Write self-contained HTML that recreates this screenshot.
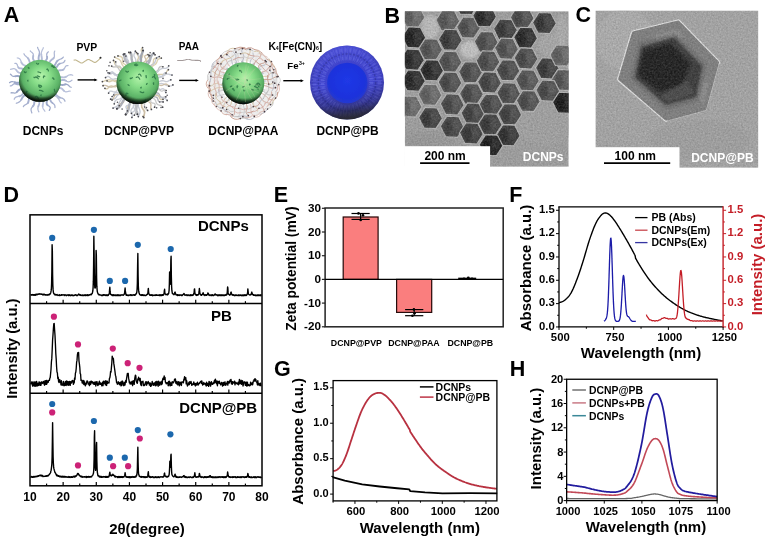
<!DOCTYPE html>
<html><head><meta charset="utf-8"><title>Figure</title>
<style>
html,body{margin:0;padding:0;background:#fff;}
body{width:768px;height:545px;overflow:hidden;font-family:"Liberation Sans",sans-serif;}
svg{display:block;font-family:"Liberation Sans",sans-serif;}
</style></head>
<body>
<svg width="768" height="545" viewBox="0 0 768 545">
<defs>

<radialGradient id="gsph" cx="0.52" cy="0.42" r="0.62" fx="0.54" fy="0.38">
  <stop offset="0" stop-color="#b4f3aa"/>
  <stop offset="0.35" stop-color="#86dc88"/>
  <stop offset="0.7" stop-color="#5db468"/>
  <stop offset="0.9" stop-color="#3c8048"/>
  <stop offset="1" stop-color="#27542f"/>
</radialGradient>
<radialGradient id="gshade" cx="0.54" cy="0.36" r="0.70">
  <stop offset="0.70" stop-color="#000" stop-opacity="0"/>
  <stop offset="0.88" stop-color="#000" stop-opacity="0.5"/>
  <stop offset="1" stop-color="#000" stop-opacity="0.95"/>
</radialGradient>
<radialGradient id="gshade2" cx="0.56" cy="0.22" r="0.82">
  <stop offset="0.80" stop-color="#000" stop-opacity="0"/>
  <stop offset="0.90" stop-color="#000" stop-opacity="0.5"/>
  <stop offset="0.96" stop-color="#000" stop-opacity="0.9"/>
  <stop offset="1" stop-color="#000" stop-opacity="1"/>
</radialGradient>
<radialGradient id="bout" cx="0.5" cy="0.42" r="0.62">
  <stop offset="0" stop-color="#3c40d6"/>
  <stop offset="0.6" stop-color="#4044cf"/>
  <stop offset="0.86" stop-color="#3e40b4"/>
  <stop offset="1" stop-color="#34367e"/>
</radialGradient>
<linearGradient id="bshade" x1="0.42" y1="0" x2="0.55" y2="1">
  <stop offset="0" stop-color="#6a70f0" stop-opacity="0.28"/>
  <stop offset="0.5" stop-color="#202060" stop-opacity="0"/>
  <stop offset="0.78" stop-color="#1c1c38" stop-opacity="0.35"/>
  <stop offset="0.93" stop-color="#26262c" stop-opacity="0.8"/>
  <stop offset="1" stop-color="#2a2a2a" stop-opacity="0.95"/>
</linearGradient>
<radialGradient id="bin" cx="0.5" cy="0.45" r="0.6">
  <stop offset="0" stop-color="#2038e6"/>
  <stop offset="0.7" stop-color="#1b32dc"/>
  <stop offset="1" stop-color="#2a3cc8"/>
</radialGradient>
<filter id="jpeg" x="0" y="0" width="768" height="545" filterUnits="userSpaceOnUse"><feGaussianBlur stdDeviation="0.38"/></filter>
<filter id="soft" x="-5%" y="-5%" width="110%" height="110%"><feGaussianBlur stdDeviation="0.45"/></filter>
<filter id="softt" x="-5%" y="-5%" width="110%" height="110%"><feGaussianBlur stdDeviation="0.6"/></filter>
<filter id="soft2" x="-5%" y="-5%" width="110%" height="110%"><feGaussianBlur stdDeviation="0.8"/></filter>
<filter id="soft3" x="-5%" y="-5%" width="110%" height="110%"><feGaussianBlur stdDeviation="1.4"/></filter>
<filter id="grain" x="0" y="0" width="100%" height="100%">
  <feTurbulence type="fractalNoise" baseFrequency="0.55" numOctaves="2" seed="4" result="n"/>
  <feColorMatrix type="matrix" values="0 0 0 0 0  0 0 0 0 0  0 0 0 0 0  0.9 0.9 0.9 0 -0.95" in="n" result="a"/>
  <feComposite operator="in" in="SourceGraphic" in2="a"/>
</filter>
<filter id="grain2" x="0" y="0" width="100%" height="100%">
  <feTurbulence type="fractalNoise" baseFrequency="0.6" numOctaves="2" seed="17" result="n"/>
  <feColorMatrix type="matrix" values="0 0 0 0 0  0 0 0 0 0  0 0 0 0 0  0.9 0.9 0.9 0 -0.95" in="n" result="a"/>
  <feComposite operator="in" in="SourceGraphic" in2="a"/>
</filter>
<clipPath id="clipB"><rect x="404.8" y="11.2" width="163.9" height="155.6"/></clipPath>
<clipPath id="clipC"><rect x="595.4" y="10.5" width="163.0" height="157.3"/></clipPath>

</defs>
<rect x="0" y="0" width="768" height="545" fill="#fff"/>
<g filter="url(#jpeg)">
<g id="panel_a">
<text x="11.4" y="21.6" font-size="21.5" font-weight="bold" text-anchor="middle" fill="#000" >A</text>
<g filter="url(#softt)"><path d="M60 80.71 L60.85 80.45 L61.7 80.17 L62.56 79.96 L63.41 79.89 L64.27 80 L65.12 80.3 L65.98 80.73" stroke="#b0b9d5" stroke-width="1.9" fill="none" stroke-linejoin="round" stroke-linecap="round"/>
<path d="M65.98 80.73 L66.84 81.2 L67.69 81.59 L68.55 81.79 L69.4 81.74 L70.26 81.4 L71.11 80.84 L71.96 80.16" stroke="#b0b9d5" stroke-width="1.25" fill="none" stroke-linejoin="round" stroke-linecap="round"/>
<path d="M59.69 84.33 L60.48 84.67 L61.3 84.93 L62.13 85.02 L63 84.95 L63.89 84.74 L64.79 84.48 L65.67 84.29" stroke="#9ca8c8" stroke-width="1.9" fill="none" stroke-linejoin="round" stroke-linecap="round"/>
<path d="M65.67 84.29 L66.52 84.29 L67.34 84.54 L68.11 85.05 L68.85 85.72 L69.59 86.42 L70.34 86.99 L71.15 87.28" stroke="#9ca8c8" stroke-width="1.25" fill="none" stroke-linejoin="round" stroke-linecap="round"/>
<path d="M58.73 87.81 L59.61 87.89 L60.47 88.03 L61.27 88.32 L62 88.77 L62.67 89.39 L63.31 90.1 L63.95 90.81" stroke="#b8c0da" stroke-width="1.9" fill="none" stroke-linejoin="round" stroke-linecap="round"/>
<path d="M63.95 90.81 L64.63 91.39 L65.4 91.76 L66.27 91.86 L67.23 91.73 L68.25 91.45 L69.27 91.17 L70.22 91.05" stroke="#b8c0da" stroke-width="1.25" fill="none" stroke-linejoin="round" stroke-linecap="round"/>
<path d="M55.36 93.61 L55.9 94.34 L56.44 95.06 L57.02 95.73 L57.66 96.34 L58.38 96.84 L59.2 97.23 L60.08 97.54" stroke="#a6b0cf" stroke-width="1.9" fill="none" stroke-linejoin="round" stroke-linecap="round"/>
<path d="M60.08 97.54 L61 97.81 L61.91 98.09 L62.76 98.44 L63.5 98.92 L64.12 99.55 L64.61 100.33 L64.99 101.25" stroke="#a6b0cf" stroke-width="1.25" fill="none" stroke-linejoin="round" stroke-linecap="round"/>
<path d="M54.18 94.9 L54.83 95.33 L55.5 95.73 L56.18 96.13 L56.82 96.56 L57.41 97.05 L57.93 97.61 L58.37 98.25" stroke="#b8c0da" stroke-width="1.9" fill="none" stroke-linejoin="round" stroke-linecap="round"/>
<path d="M58.37 98.25 L58.74 98.96 L59.07 99.71 L59.38 100.48 L59.72 101.22 L60.14 101.88 L60.66 102.44 L61.3 102.87" stroke="#b8c0da" stroke-width="1.25" fill="none" stroke-linejoin="round" stroke-linecap="round"/>
<path d="M49.77 98.25 L49.99 99 L50.2 99.76 L50.46 100.49 L50.8 101.17 L51.24 101.8 L51.79 102.37 L52.41 102.89" stroke="#a6b0cf" stroke-width="1.9" fill="none" stroke-linejoin="round" stroke-linecap="round"/>
<path d="M52.41 102.89 L53.07 103.4 L53.7 103.92 L54.24 104.5 L54.64 105.15 L54.88 105.89 L54.97 106.71 L54.96 107.59" stroke="#a6b0cf" stroke-width="1.25" fill="none" stroke-linejoin="round" stroke-linecap="round"/>
<path d="M46.77 99.63 L46.9 100.41 L46.86 101.25 L46.74 102.11 L46.64 102.97 L46.7 103.78 L47.01 104.5 L47.59 105.13" stroke="#9ca8c8" stroke-width="1.9" fill="none" stroke-linejoin="round" stroke-linecap="round"/>
<path d="M47.59 105.13 L48.37 105.7 L49.18 106.26 L49.85 106.86 L50.2 107.57 L50.18 108.4 L49.82 109.35 L49.3 110.35" stroke="#9ca8c8" stroke-width="1.25" fill="none" stroke-linejoin="round" stroke-linecap="round"/>
<path d="M42.97 100.58 L43.11 101.34 L43.16 102.11 L43.13 102.9 L43.02 103.69 L42.87 104.49 L42.73 105.28 L42.63 106.07" stroke="#b8c0da" stroke-width="1.9" fill="none" stroke-linejoin="round" stroke-linecap="round"/>
<path d="M42.63 106.07 L42.64 106.85 L42.78 107.61 L43.07 108.35 L43.47 109.08 L43.96 109.79 L44.46 110.5 L44.9 111.23" stroke="#b8c0da" stroke-width="1.25" fill="none" stroke-linejoin="round" stroke-linecap="round"/>
<path d="M39.27 100.79 L39.33 101.58 L39.33 102.37 L39.26 103.15 L39.11 103.93 L38.89 104.71 L38.61 105.48 L38.34 106.26" stroke="#b0b9d5" stroke-width="1.9" fill="none" stroke-linejoin="round" stroke-linecap="round"/>
<path d="M38.34 106.26 L38.09 107.03 L37.93 107.81 L37.89 108.6 L37.97 109.39 L38.17 110.19 L38.47 110.99 L38.8 111.8" stroke="#b0b9d5" stroke-width="1.25" fill="none" stroke-linejoin="round" stroke-linecap="round"/>
<path d="M34.32 99.98 L34.25 100.94 L34.27 101.92 L34.28 102.9 L34.19 103.85 L33.92 104.76 L33.45 105.6 L32.81 106.4" stroke="#a6b0cf" stroke-width="1.9" fill="none" stroke-linejoin="round" stroke-linecap="round"/>
<path d="M32.81 106.4 L32.12 107.19 L31.52 108 L31.13 108.87 L31.03 109.82 L31.2 110.84 L31.52 111.91 L31.83 112.97" stroke="#a6b0cf" stroke-width="1.25" fill="none" stroke-linejoin="round" stroke-linecap="round"/>
<path d="M29.46 97.81 L29.13 98.49 L28.89 99.24 L28.73 100.03 L28.6 100.85 L28.45 101.64 L28.21 102.39 L27.84 103.05" stroke="#a6b0cf" stroke-width="1.9" fill="none" stroke-linejoin="round" stroke-linecap="round"/>
<path d="M27.84 103.05 L27.29 103.62 L26.61 104.1 L25.82 104.52 L25.02 104.94 L24.29 105.4 L23.72 105.95 L23.38 106.63" stroke="#a6b0cf" stroke-width="1.25" fill="none" stroke-linejoin="round" stroke-linecap="round"/>
<path d="M25.55 94.62 L24.8 95.15 L24.09 95.72 L23.43 96.34 L22.84 97.03 L22.32 97.79 L21.85 98.6 L21.4 99.43" stroke="#a6b0cf" stroke-width="1.9" fill="none" stroke-linejoin="round" stroke-linecap="round"/>
<path d="M21.4 99.43 L20.92 100.23 L20.37 100.97 L19.73 101.61 L18.98 102.14 L18.14 102.56 L17.22 102.91 L16.28 103.25" stroke="#a6b0cf" stroke-width="1.25" fill="none" stroke-linejoin="round" stroke-linecap="round"/>
<path d="M23.85 92.6 L23.31 93.27 L22.77 93.95 L22.21 94.6 L21.6 95.18 L20.9 95.65 L20.12 95.99 L19.26 96.24" stroke="#b0b9d5" stroke-width="1.9" fill="none" stroke-linejoin="round" stroke-linecap="round"/>
<path d="M19.26 96.24 L18.35 96.41 L17.44 96.58 L16.57 96.81 L15.8 97.17 L15.14 97.69 L14.62 98.39 L14.21 99.25" stroke="#b0b9d5" stroke-width="1.25" fill="none" stroke-linejoin="round" stroke-linecap="round"/>
<path d="M21.82 89.14 L20.99 89.26 L20.16 89.4 L19.38 89.65 L18.68 90.06 L18.05 90.63 L17.47 91.31 L16.89 92" stroke="#9ca8c8" stroke-width="1.9" fill="none" stroke-linejoin="round" stroke-linecap="round"/>
<path d="M16.89 92 L16.26 92.57 L15.54 92.93 L14.7 93.05 L13.77 92.97 L12.8 92.8 L11.87 92.71 L11.04 92.84" stroke="#9ca8c8" stroke-width="1.25" fill="none" stroke-linejoin="round" stroke-linecap="round"/>
<path d="M20.22 83.74 L19.53 84.03 L18.83 84.23 L18.12 84.3 L17.38 84.21 L16.62 84.01 L15.87 83.78 L15.12 83.64" stroke="#a6b0cf" stroke-width="1.9" fill="none" stroke-linejoin="round" stroke-linecap="round"/>
<path d="M15.12 83.64 L14.4 83.68 L13.71 83.95 L13.05 84.42 L12.4 84.98 L11.75 85.51 L11.07 85.84 L10.35 85.89" stroke="#a6b0cf" stroke-width="1.25" fill="none" stroke-linejoin="round" stroke-linecap="round"/>
<path d="M20.05 82.28 L19.32 82.5 L18.57 82.68 L17.83 82.79 L17.08 82.8 L16.32 82.7 L15.55 82.51 L14.78 82.25" stroke="#9ca8c8" stroke-width="1.9" fill="none" stroke-linejoin="round" stroke-linecap="round"/>
<path d="M14.78 82.25 L14.02 81.98 L13.25 81.75 L12.49 81.62 L11.74 81.65 L11 81.83 L10.27 82.18 L9.54 82.65" stroke="#9ca8c8" stroke-width="1.25" fill="none" stroke-linejoin="round" stroke-linecap="round"/>
<path d="M20.38 76.92 L19.7 76.59 L19.01 76.27 L18.31 76.04 L17.59 75.93 L16.84 75.95 L16.06 76.09 L15.28 76.28" stroke="#9ca8c8" stroke-width="1.9" fill="none" stroke-linejoin="round" stroke-linecap="round"/>
<path d="M15.28 76.28 L14.5 76.43 L13.75 76.46 L13.03 76.29 L12.36 75.93 L11.72 75.39 L11.09 74.78 L10.45 74.22" stroke="#9ca8c8" stroke-width="1.25" fill="none" stroke-linejoin="round" stroke-linecap="round"/>
<path d="M21.53 73.14 L20.66 73.05 L19.82 72.92 L19.02 72.68 L18.29 72.28 L17.63 71.71 L17.03 71.02 L16.45 70.28" stroke="#b8c0da" stroke-width="1.9" fill="none" stroke-linejoin="round" stroke-linecap="round"/>
<path d="M16.45 70.28 L15.84 69.58 L15.17 69.05 L14.4 68.74 L13.52 68.69 L12.56 68.85 L11.54 69.13 L10.53 69.39" stroke="#b8c0da" stroke-width="1.25" fill="none" stroke-linejoin="round" stroke-linecap="round"/>
<path d="M23.59 69.35 L22.97 68.93 L22.25 68.65 L21.45 68.5 L20.6 68.42 L19.78 68.3 L19.04 68.04 L18.45 67.58" stroke="#b0b9d5" stroke-width="1.9" fill="none" stroke-linejoin="round" stroke-linecap="round"/>
<path d="M18.45 67.58 L18 66.89 L17.66 66.03 L17.37 65.12 L17.01 64.3 L16.5 63.7 L15.79 63.41 L14.88 63.41" stroke="#b0b9d5" stroke-width="1.25" fill="none" stroke-linejoin="round" stroke-linecap="round"/>
<path d="M26.14 66.37 L25.41 65.87 L24.61 65.44 L23.8 65.02 L23.03 64.56 L22.35 64 L21.82 63.3 L21.41 62.47" stroke="#b8c0da" stroke-width="1.9" fill="none" stroke-linejoin="round" stroke-linecap="round"/>
<path d="M21.41 62.47 L21.1 61.55 L20.81 60.62 L20.44 59.75 L19.92 59.04 L19.21 58.52 L18.3 58.19 L17.27 57.99" stroke="#b8c0da" stroke-width="1.25" fill="none" stroke-linejoin="round" stroke-linecap="round"/>
<path d="M30.11 63.42 L29.82 62.64 L29.57 61.84 L29.33 61.04 L29.06 60.25 L28.74 59.48 L28.35 58.77 L27.85 58.1" stroke="#b0b9d5" stroke-width="1.9" fill="none" stroke-linejoin="round" stroke-linecap="round"/>
<path d="M27.85 58.1 L27.27 57.49 L26.63 56.91 L25.96 56.35 L25.31 55.77 L24.73 55.15 L24.26 54.48 L23.93 53.72" stroke="#b0b9d5" stroke-width="1.25" fill="none" stroke-linejoin="round" stroke-linecap="round"/>
<path d="M34.54 61.56 L34.09 60.85 L33.63 60.13 L33.25 59.4 L33.02 58.62 L32.97 57.79 L33.07 56.91 L33.24 56.02" stroke="#b0b9d5" stroke-width="1.9" fill="none" stroke-linejoin="round" stroke-linecap="round"/>
<path d="M33.24 56.02 L33.35 55.14 L33.29 54.31 L32.98 53.56 L32.42 52.87 L31.69 52.24 L30.92 51.61 L30.3 50.95" stroke="#b0b9d5" stroke-width="1.25" fill="none" stroke-linejoin="round" stroke-linecap="round"/>
<path d="M38.87 60.83 L38.7 59.88 L38.6 58.92 L38.6 57.96 L38.71 57 L38.91 56.03 L39.15 55.06 L39.36 54.09" stroke="#a6b0cf" stroke-width="1.9" fill="none" stroke-linejoin="round" stroke-linecap="round"/>
<path d="M39.36 54.09 L39.47 53.13 L39.42 52.17 L39.2 51.22 L38.83 50.28 L38.38 49.34 L37.93 48.4 L37.6 47.45" stroke="#a6b0cf" stroke-width="1.25" fill="none" stroke-linejoin="round" stroke-linecap="round"/>
<path d="M41.83 60.88 L41.91 59.94 L41.91 58.99 L41.84 58.04 L41.7 57.09 L41.54 56.13 L41.39 55.17 L41.3 54.22" stroke="#b8c0da" stroke-width="1.9" fill="none" stroke-linejoin="round" stroke-linecap="round"/>
<path d="M41.3 54.22 L41.31 53.27 L41.44 52.34 L41.7 51.41 L42.07 50.49 L42.51 49.58 L42.95 48.66 L43.32 47.74" stroke="#b8c0da" stroke-width="1.25" fill="none" stroke-linejoin="round" stroke-linecap="round"/>
<path d="M45.35 61.53 L45.73 60.88 L46.14 60.24 L46.54 59.6 L46.86 58.94 L47.05 58.24 L47.11 57.5 L47.03 56.72" stroke="#a6b0cf" stroke-width="1.9" fill="none" stroke-linejoin="round" stroke-linecap="round"/>
<path d="M47.03 56.72 L46.88 55.93 L46.74 55.13 L46.7 54.36 L46.84 53.65 L47.19 52.99 L47.73 52.39 L48.4 51.83" stroke="#a6b0cf" stroke-width="1.25" fill="none" stroke-linejoin="round" stroke-linecap="round"/>
<path d="M49.28 63.08 L49.6 62.18 L50.05 61.36 L50.65 60.63 L51.4 59.97 L52.22 59.35 L53.03 58.72 L53.7 58.03" stroke="#b0b9d5" stroke-width="1.9" fill="none" stroke-linejoin="round" stroke-linecap="round"/>
<path d="M53.7 58.03 L54.17 57.21 L54.39 56.27 L54.41 55.21 L54.31 54.08 L54.24 52.97 L54.35 51.96 L54.74 51.11" stroke="#b0b9d5" stroke-width="1.25" fill="none" stroke-linejoin="round" stroke-linecap="round"/>
<path d="M53.86 66.38 L54.46 65.64 L54.98 64.84 L55.45 63.98 L55.88 63.1 L56.34 62.23 L56.87 61.44 L57.51 60.74" stroke="#a6b0cf" stroke-width="1.9" fill="none" stroke-linejoin="round" stroke-linecap="round"/>
<path d="M57.51 60.74 L58.28 60.16 L59.16 59.69 L60.11 59.29 L61.07 58.89 L61.97 58.43 L62.73 57.85 L63.33 57.11" stroke="#a6b0cf" stroke-width="1.25" fill="none" stroke-linejoin="round" stroke-linecap="round"/>
<path d="M55.61 68.29 L56.22 67.66 L56.76 66.94 L57.25 66.16 L57.73 65.38 L58.28 64.67 L58.92 64.08 L59.7 63.66" stroke="#a6b0cf" stroke-width="1.9" fill="none" stroke-linejoin="round" stroke-linecap="round"/>
<path d="M59.7 63.66 L60.6 63.37 L61.56 63.16 L62.51 62.93 L63.37 62.6 L64.07 62.07 L64.58 61.32 L64.93 60.38" stroke="#a6b0cf" stroke-width="1.25" fill="none" stroke-linejoin="round" stroke-linecap="round"/>
<path d="M57.55 71.19 L58.27 70.75 L59.08 70.44 L59.95 70.29 L60.88 70.23 L61.81 70.16 L62.67 69.98 L63.43 69.6" stroke="#b0b9d5" stroke-width="1.9" fill="none" stroke-linejoin="round" stroke-linecap="round"/>
<path d="M63.43 69.6 L64.06 68.97 L64.6 68.16 L65.09 67.25 L65.62 66.42 L66.26 65.81 L67.06 65.51 L68.03 65.53" stroke="#b0b9d5" stroke-width="1.25" fill="none" stroke-linejoin="round" stroke-linecap="round"/>
<path d="M59.67 77.15 L60.62 77.13 L61.59 77.2 L62.56 77.3 L63.53 77.36 L64.47 77.29 L65.39 77.06 L66.28 76.66" stroke="#b8c0da" stroke-width="1.9" fill="none" stroke-linejoin="round" stroke-linecap="round"/>
<path d="M66.28 76.66 L67.14 76.13 L68.01 75.56 L68.88 75.07 L69.78 74.77 L70.73 74.7 L71.72 74.88 L72.73 75.24" stroke="#b8c0da" stroke-width="1.25" fill="none" stroke-linejoin="round" stroke-linecap="round"/></g>
<g filter="url(#soft)"><circle cx="40" cy="80.8" r="21" fill="url(#gsph)"/>
<path d="M41.07 94.93 q-0.57 0.42 0.06 0.83 M36.02 76.79 q-2.14 1.35 -1.98 0.46 M39.44 90.35 q2.18 -0.12 3.64 1.05 M46.87 69.42 q0.61 -1.4 1.6 1.56 M28.25 67.5 q0.1 0.97 0.93 0.61 M37.34 75.86 q1.14 0.36 2.28 0.85 M38.59 85.02 q1.61 -0.11 2.89 1.04 M36.52 63.28 q0.94 1.68 2.02 0.33 M26.51 91.27 q-0.24 1.74 0.48 0.3 M44.76 76.27 q-1.6 -1.13 -1.28 1.45 M52.46 78.06 q0.56 -0.8 1.52 1.32 M27.97 80.25 q-0.66 0.34 -0.05 0.86 M24.37 71.66 q0.8 1.72 1.84 0.31 M51.74 65.94 q0.75 -1.35 1.78 1.54 M51.97 66.45 q1.78 0.28 3.11 0.89 M37.94 71.91 q1.46 0.29 2.7 0.88 M38.78 86.25 q1.56 1.96 2.82 0.22 M54.49 89.81 q-0.39 -1.4 0.29 1.56 M35.44 96.9 q1.64 -1.82 2.93 1.73 M36.26 77.53 q0.96 -0.68 2.05 1.27" stroke="#2a7444" stroke-width="1.25" fill="none" opacity="0.85" stroke-linecap="round"/>
<circle cx="40" cy="80.8" r="21" fill="url(#gshade)"/>
<circle cx="40" cy="80.8" r="21" fill="url(#gshade2)"/></g>
<text x="86.8" y="50.52" font-size="10.4" font-weight="bold" text-anchor="middle" fill="#000" >PVP</text>
<path d="M73.6 60.3 L73.69 60.28 L73.81 60.25 L73.94 60.2 L74.08 60.15 L74.24 60.1 L74.41 60.05 L74.59 60.01 L74.79 59.97 L74.98 59.95 L75.19 59.94 L75.39 59.96 L75.6 60 L75.81 60.07 L76.04 60.16 L76.28 60.27 L76.52 60.4 L76.77 60.54 L77.02 60.69 L77.29 60.85 L77.55 61.01 L77.81 61.17 L78.08 61.32 L78.34 61.47 L78.6 61.6 L78.86 61.73 L79.12 61.88 L79.39 62.04 L79.65 62.2 L79.92 62.36 L80.19 62.51 L80.46 62.65 L80.73 62.78 L81 62.88 L81.26 62.95 L81.53 63 L81.8 63 L82.07 62.96 L82.33 62.88 L82.6 62.77 L82.87 62.63 L83.13 62.47 L83.4 62.29 L83.67 62.1 L83.93 61.91 L84.2 61.72 L84.47 61.53 L84.73 61.36 L85 61.2 L85.27 61.05 L85.53 60.88 L85.8 60.7 L86.06 60.51 L86.33 60.33 L86.59 60.16 L86.86 59.99 L87.13 59.84 L87.39 59.71 L87.66 59.61 L87.93 59.54 L88.2 59.5 L88.47 59.5 L88.74 59.54 L89.02 59.61 L89.29 59.7 L89.57 59.81 L89.84 59.94 L90.12 60.09 L90.4 60.23 L90.67 60.38 L90.95 60.53 L91.22 60.67 L91.5 60.8 L91.78 60.93 L92.06 61.09 L92.34 61.25 L92.62 61.43 L92.9 61.61 L93.18 61.78 L93.46 61.94 L93.74 62.09 L94.01 62.22 L94.28 62.32 L94.54 62.38 L94.8 62.4 L95.05 62.38 L95.3 62.33 L95.54 62.25 L95.77 62.15 L96.01 62.02 L96.24 61.88 L96.47 61.71 L96.69 61.54 L96.92 61.36 L97.14 61.17 L97.37 60.99 L97.6 60.8 L97.84 60.6 L98.09 60.37 L98.35 60.12 L98.61 59.85 L98.87 59.58 L99.12 59.3 L99.37 59.03 L99.6 58.77 L99.82 58.53 L100.01 58.32 L100.17 58.14 L100.3 58" stroke="#c2b78f" stroke-width="1.15" fill="none" stroke-linejoin="round" filter="url(#soft)"/>
<circle cx="100.5" cy="57.7" r="1" fill="#2a2a2a" />
<line x1="77.6" y1="79.9" x2="95.6" y2="79.9" stroke="#000" stroke-width="1.4" /><path d="M97.6 79.9 L94.4 78.45 L94.4 81.35 Z" fill="#000"/>
<g filter="url(#softt)"><path d="M158.07 83.86 L159.14 83.68 L160.22 83.55 L161.28 83.52 L162.34 83.63 L163.39 83.91 L164.42 84.34 L165.45 84.85 L166.48 85.38 L167.51 85.83 L168.56 86.1 L169.62 86.15 L170.7 85.94 L171.79 85.51 L172.9 84.93" stroke="#c9cdd6" stroke-width="1.35" fill="none" stroke-linejoin="round" stroke-linecap="round"/>
<path d="M158.02 84.55 L158.78 84.88 L159.54 85.2 L160.31 85.42 L161.09 85.49 L161.9 85.38 L162.71 85.11 L163.54 84.73 L164.36 84.35 L165.17 84.09 L165.97 84.04 L166.74 84.25 L167.49 84.73 L168.22 85.4 L168.95 86.13" stroke="#cdbfa8" stroke-width="1.35" fill="none" stroke-linejoin="round" stroke-linecap="round"/>
<path d="M157.29 88.39 L157.84 88.9 L158.4 89.37 L159.01 89.67 L159.69 89.73 L160.44 89.57 L161.23 89.24 L162.03 88.89 L162.78 88.7 L163.45 88.8 L164.02 89.26 L164.49 90.03 L164.91 90.98 L165.35 91.88 L165.87 92.51" stroke="#c9cdd6" stroke-width="1.35" fill="none" stroke-linejoin="round" stroke-linecap="round"/>
<path d="M157.29 88.38 L157.97 88.38 L158.6 88.54 L159.17 88.9 L159.67 89.45 L160.15 90.1 L160.65 90.68 L161.21 91.07 L161.86 91.15 L162.61 90.93 L163.42 90.5 L164.24 90.06 L164.99 89.82 L165.63 89.93 L166.14 90.48" stroke="#cbcbcb" stroke-width="1.35" fill="none" stroke-linejoin="round" stroke-linecap="round"/>
<path d="M155.6 92.46 L156.42 92.6 L157.22 92.8 L157.94 93.12 L158.58 93.61 L159.12 94.26 L159.59 95.03 L160.06 95.82 L160.57 96.53 L161.19 97.04 L161.95 97.3 L162.84 97.31 L163.84 97.15 L164.86 96.94 L165.82 96.85" stroke="#b0b0b6" stroke-width="1.35" fill="none" stroke-linejoin="round" stroke-linecap="round"/>
<path d="M155.25 93.08 L156.09 93.62 L156.87 94.26 L157.61 94.97 L158.32 95.72 L159.06 96.43 L159.86 97.03 L160.75 97.49 L161.73 97.8 L162.77 98.01 L163.83 98.21 L164.83 98.49 L165.73 98.94 L166.49 99.6 L167.14 100.45" stroke="#c4c9d4" stroke-width="1.35" fill="none" stroke-linejoin="round" stroke-linecap="round"/>
<path d="M154.37 94.44 L154.91 94.89 L155.55 95.2 L156.28 95.38 L157.06 95.49 L157.8 95.65 L158.43 95.98 L158.92 96.52 L159.27 97.25 L159.57 98.06 L159.93 98.78 L160.44 99.28 L161.16 99.48 L162.04 99.43 L162.99 99.29" stroke="#d6cbac" stroke-width="1.35" fill="none" stroke-linejoin="round" stroke-linecap="round"/>
<path d="M153.15 96 L153.83 96.45 L154.65 96.75 L155.53 96.97 L156.37 97.24 L157.06 97.69 L157.54 98.39 L157.85 99.3 L158.12 100.27 L158.5 101.1 L159.12 101.63 L160.03 101.82 L161.12 101.78 L162.21 101.75 L163.1 101.96" stroke="#b0b0b6" stroke-width="1.35" fill="none" stroke-linejoin="round" stroke-linecap="round"/>
<path d="M151.75 97.45 L152.69 97.99 L153.64 98.51 L154.5 99.13 L155.18 99.92 L155.66 100.89 L156.03 101.98 L156.42 103.05 L156.98 103.95 L157.82 104.59 L158.91 104.98 L160.12 105.26 L161.26 105.6 L162.14 106.2 L162.65 107.15" stroke="#cbcbcb" stroke-width="1.35" fill="none" stroke-linejoin="round" stroke-linecap="round"/>
<path d="M150.24 98.75 L150.55 99.36 L150.69 100.08 L150.76 100.87 L150.86 101.63 L151.12 102.27 L151.63 102.73 L152.38 103.01 L153.28 103.18 L154.14 103.38 L154.8 103.73 L155.12 104.33 L155.1 105.17 L154.85 106.19 L154.6 107.21" stroke="#cbcbcb" stroke-width="1.35" fill="none" stroke-linejoin="round" stroke-linecap="round"/>
<path d="M147.46 100.56 L147.93 101.08 L148.49 101.56 L149.09 102.01 L149.68 102.46 L150.21 102.95 L150.62 103.51 L150.88 104.15 L150.98 104.89 L150.95 105.69 L150.85 106.54 L150.77 107.38 L150.79 108.16 L150.98 108.84 L151.4 109.39" stroke="#cdbfa8" stroke-width="1.35" fill="none" stroke-linejoin="round" stroke-linecap="round"/>
<path d="M144.25 101.95 L144.43 102.57 L144.53 103.22 L144.55 103.89 L144.51 104.59 L144.44 105.28 L144.41 105.97 L144.46 106.63 L144.63 107.26 L144.94 107.84 L145.38 108.38 L145.93 108.89 L146.53 109.38 L147.11 109.87 L147.6 110.4" stroke="#c2c2c2" stroke-width="1.35" fill="none" stroke-linejoin="round" stroke-linecap="round"/>
<path d="M141.93 102.58 L141.8 103.62 L141.63 104.66 L141.55 105.69 L141.67 106.69 L142.05 107.62 L142.69 108.51 L143.46 109.38 L144.19 110.24 L144.71 111.16 L144.87 112.14 L144.64 113.2 L144.12 114.32 L143.5 115.45 L143.03 116.56" stroke="#d6cbac" stroke-width="1.35" fill="none" stroke-linejoin="round" stroke-linecap="round"/>
<path d="M141.4 102.68 L141.43 103.77 L141.49 104.85 L141.65 105.91 L141.92 106.95 L142.32 107.97 L142.81 108.97 L143.34 109.96 L143.84 110.96 L144.22 111.98 L144.44 113.03 L144.47 114.12 L144.33 115.24 L144.07 116.38 L143.78 117.53" stroke="#cdbfa8" stroke-width="1.35" fill="none" stroke-linejoin="round" stroke-linecap="round"/>
<path d="M138.52 102.99 L138.37 103.97 L138.3 104.94 L138.34 105.92 L138.53 106.88 L138.85 107.84 L139.25 108.79 L139.64 109.75 L139.94 110.71 L140.06 111.67 L139.97 112.65 L139.66 113.64 L139.21 114.63 L138.72 115.63 L138.33 116.62" stroke="#c4c9d4" stroke-width="1.35" fill="none" stroke-linejoin="round" stroke-linecap="round"/>
<path d="M135.79 102.9 L135.61 103.77 L135.5 104.65 L135.49 105.53 L135.56 106.42 L135.71 107.31 L135.9 108.21 L136.08 109.11 L136.19 110.01 L136.18 110.89 L136.02 111.76 L135.72 112.62 L135.3 113.46 L134.82 114.31 L134.36 115.15" stroke="#c2c2c2" stroke-width="1.35" fill="none" stroke-linejoin="round" stroke-linecap="round"/>
<path d="M135.13 102.83 L134.75 103.56 L134.22 104.27 L133.7 104.98 L133.37 105.71 L133.35 106.5 L133.67 107.34 L134.18 108.21 L134.65 109.07 L134.83 109.89 L134.56 110.64 L133.84 111.32 L132.86 111.96 L131.95 112.6 L131.44 113.32" stroke="#c9cdd6" stroke-width="1.35" fill="none" stroke-linejoin="round" stroke-linecap="round"/>
<path d="M133.8 102.6 L133.93 103.72 L133.98 104.82 L133.8 105.87 L133.34 106.87 L132.64 107.81 L131.87 108.74 L131.23 109.7 L130.92 110.73 L131.02 111.84 L131.46 113.02 L132.03 114.22 L132.44 115.4 L132.43 116.49 L131.89 117.46" stroke="#c9cdd6" stroke-width="1.35" fill="none" stroke-linejoin="round" stroke-linecap="round"/>
<path d="M130.97 101.82 L130.55 102.71 L129.98 103.54 L129.32 104.34 L128.66 105.13 L128.11 105.97 L127.76 106.89 L127.65 107.89 L127.72 108.97 L127.86 110.07 L127.93 111.15 L127.76 112.13 L127.28 113 L126.5 113.75 L125.52 114.42" stroke="#d6cbac" stroke-width="1.35" fill="none" stroke-linejoin="round" stroke-linecap="round"/>
<path d="M129.4 101.18 L129.43 101.94 L129.54 102.74 L129.56 103.5 L129.37 104.16 L128.88 104.7 L128.13 105.12 L127.26 105.49 L126.5 105.91 L126.05 106.46 L126.01 107.19 L126.35 108.08 L126.87 109.06 L127.31 110 L127.37 110.78" stroke="#c4c9d4" stroke-width="1.35" fill="none" stroke-linejoin="round" stroke-linecap="round"/>
<path d="M124.87 98.36 L124.44 98.86 L124.14 99.46 L123.96 100.15 L123.84 100.9 L123.69 101.62 L123.42 102.24 L122.96 102.72 L122.3 103.03 L121.5 103.24 L120.66 103.42 L119.93 103.67 L119.42 104.11 L119.18 104.76 L119.2 105.61" stroke="#cdbfa8" stroke-width="1.35" fill="none" stroke-linejoin="round" stroke-linecap="round"/>
<path d="M123.89 97.49 L123.01 98.15 L122.15 98.82 L121.35 99.54 L120.63 100.35 L120.02 101.26 L119.49 102.24 L119 103.26 L118.48 104.26 L117.87 105.17 L117.13 105.95 L116.24 106.6 L115.21 107.12 L114.13 107.58 L113.06 108.06" stroke="#c4c9d4" stroke-width="1.35" fill="none" stroke-linejoin="round" stroke-linecap="round"/>
<path d="M122.76 96.34 L122.28 97.01 L121.74 97.63 L121.13 98.16 L120.43 98.59 L119.65 98.91 L118.8 99.17 L117.92 99.4 L117.07 99.65 L116.3 99.99 L115.64 100.47 L115.12 101.11 L114.74 101.9 L114.48 102.82 L114.27 103.81" stroke="#c9cdd6" stroke-width="1.35" fill="none" stroke-linejoin="round" stroke-linecap="round"/>
<path d="M120.85 93.88 L120.05 94.14 L119.24 94.39 L118.46 94.69 L117.77 95.12 L117.17 95.7 L116.65 96.4 L116.18 97.17 L115.67 97.89 L115.07 98.46 L114.33 98.82 L113.46 98.97 L112.5 98.99 L111.53 99.01 L110.66 99.17" stroke="#c4c9d4" stroke-width="1.35" fill="none" stroke-linejoin="round" stroke-linecap="round"/>
<path d="M120.61 93.51 L119.89 93.79 L119.12 93.97 L118.3 94.09 L117.47 94.18 L116.67 94.32 L115.93 94.56 L115.28 94.95 L114.74 95.53 L114.29 96.26 L113.91 97.1 L113.54 97.98 L113.14 98.79 L112.65 99.45 L112.03 99.88" stroke="#cdbfa8" stroke-width="1.35" fill="none" stroke-linejoin="round" stroke-linecap="round"/>
<path d="M119.7 91.89 L119.19 92.29 L118.63 92.58 L118.01 92.73 L117.32 92.77 L116.6 92.73 L115.89 92.7 L115.23 92.79 L114.66 93.05 L114.19 93.52 L113.8 94.17 L113.46 94.91 L113.11 95.63 L112.68 96.18 L112.13 96.48" stroke="#c9cdd6" stroke-width="1.35" fill="none" stroke-linejoin="round" stroke-linecap="round"/>
<path d="M118.58 89.24 L117.94 89.71 L117.34 90.29 L116.75 90.9 L116.14 91.46 L115.48 91.85 L114.73 92.02 L113.89 91.96 L112.99 91.72 L112.07 91.41 L111.18 91.18 L110.36 91.17 L109.66 91.48 L109.09 92.12 L108.61 93.05" stroke="#c9cdd6" stroke-width="1.35" fill="none" stroke-linejoin="round" stroke-linecap="round"/>
<path d="M117.75 85.88 L116.88 86.36 L116 86.75 L115.08 86.91 L114.12 86.77 L113.12 86.41 L112.12 86.03 L111.15 85.86 L110.24 86.06 L109.39 86.67 L108.58 87.53 L107.77 88.37 L106.9 88.88 L105.96 88.86 L104.94 88.34" stroke="#d6cbac" stroke-width="1.35" fill="none" stroke-linejoin="round" stroke-linecap="round"/>
<path d="M117.6 84.8 L116.6 85.1 L115.6 85.51 L114.62 85.99 L113.64 86.47 L112.64 86.86 L111.63 87.09 L110.59 87.11 L109.52 86.91 L108.42 86.54 L107.32 86.08 L106.22 85.66 L105.14 85.39 L104.1 85.39 L103.1 85.7" stroke="#cdbfa8" stroke-width="1.35" fill="none" stroke-linejoin="round" stroke-linecap="round"/>
<path d="M117.57 81 L116.84 80.71 L116.11 80.43 L115.38 80.21 L114.63 80.11 L113.88 80.14 L113.11 80.32 L112.33 80.62 L111.55 80.99 L110.77 81.35 L110 81.62 L109.23 81.75 L108.49 81.66 L107.76 81.35 L107.05 80.84" stroke="#d6cbac" stroke-width="1.35" fill="none" stroke-linejoin="round" stroke-linecap="round"/>
<path d="M117.51 81.8 L116.44 81.71 L115.37 81.52 L114.31 81.23 L113.26 80.87 L112.2 80.48 L111.15 80.14 L110.08 79.89 L109.01 79.8 L107.92 79.88 L106.83 80.13 L105.72 80.5 L104.61 80.93 L103.51 81.32 L102.41 81.59" stroke="#dbd0b0" stroke-width="1.35" fill="none" stroke-linejoin="round" stroke-linecap="round"/>
<path d="M117.86 78.88 L117.01 78.62 L116.12 78.56 L115.2 78.7 L114.26 78.97 L113.32 79.21 L112.42 79.24 L111.57 78.96 L110.77 78.38 L110 77.63 L109.23 76.93 L108.4 76.5 L107.5 76.5 L106.54 76.91 L105.53 77.55" stroke="#c9cdd6" stroke-width="1.35" fill="none" stroke-linejoin="round" stroke-linecap="round"/>
<path d="M118.51 76.36 L117.71 76.24 L116.99 75.92 L116.35 75.38 L115.76 74.66 L115.19 73.92 L114.57 73.32 L113.84 73.01 L112.99 73.05 L112.03 73.37 L111.04 73.82 L110.08 74.15 L109.25 74.14 L108.58 73.66 L108.07 72.75" stroke="#c4c9d4" stroke-width="1.35" fill="none" stroke-linejoin="round" stroke-linecap="round"/>
<path d="M118.93 75.2 L118.37 74.77 L117.72 74.57 L116.98 74.63 L116.17 74.85 L115.37 75.04 L114.67 74.98 L114.12 74.54 L113.69 73.75 L113.31 72.84 L112.86 72.11 L112.25 71.8 L111.45 72.01 L110.51 72.57 L109.57 73.16" stroke="#c4c9d4" stroke-width="1.35" fill="none" stroke-linejoin="round" stroke-linecap="round"/>
<path d="M120.85 71.52 L120.24 71.07 L119.72 70.49 L119.28 69.79 L118.89 69.03 L118.49 68.28 L118.01 67.63 L117.42 67.16 L116.67 66.91 L115.79 66.84 L114.83 66.9 L113.85 66.97 L112.96 66.93 L112.22 66.66 L111.69 66.1" stroke="#c2c2c2" stroke-width="1.35" fill="none" stroke-linejoin="round" stroke-linecap="round"/>
<path d="M122.51 69.34 L121.93 68.63 L121.29 68 L120.55 67.48 L119.7 67.08 L118.79 66.76 L117.85 66.48 L116.95 66.14 L116.16 65.68 L115.52 65.04 L115.04 64.22 L114.67 63.26 L114.35 62.24 L113.99 61.27 L113.5 60.45" stroke="#d6cbac" stroke-width="1.35" fill="none" stroke-linejoin="round" stroke-linecap="round"/>
<path d="M121.95 70 L121.4 69.54 L121.04 68.85 L120.82 67.99 L120.6 67.14 L120.21 66.49 L119.54 66.16 L118.61 66.14 L117.56 66.26 L116.62 66.26 L115.98 65.9 L115.72 65.08 L115.76 63.93 L115.85 62.71 L115.69 61.78" stroke="#cbcbcb" stroke-width="1.35" fill="none" stroke-linejoin="round" stroke-linecap="round"/>
<path d="M124.52 67.34 L123.74 66.67 L123.03 65.93 L122.43 65.1 L121.94 64.18 L121.53 63.19 L121.14 62.19 L120.7 61.22 L120.15 60.36 L119.43 59.63 L118.54 59.05 L117.52 58.56 L116.47 58.12 L115.48 57.62 L114.64 56.99" stroke="#dbd0b0" stroke-width="1.35" fill="none" stroke-linejoin="round" stroke-linecap="round"/>
<path d="M126.69 65.7 L125.99 65.06 L125.15 64.51 L124.27 63.99 L123.48 63.41 L122.9 62.68 L122.59 61.77 L122.51 60.7 L122.52 59.56 L122.46 58.48 L122.14 57.57 L121.46 56.91 L120.44 56.49 L119.19 56.22 L117.97 55.94" stroke="#dbd0b0" stroke-width="1.35" fill="none" stroke-linejoin="round" stroke-linecap="round"/>
<path d="M128.89 64.45 L128.61 63.88 L128.48 63.24 L128.48 62.53 L128.52 61.8 L128.49 61.12 L128.27 60.51 L127.82 60.02 L127.16 59.61 L126.43 59.25 L125.79 58.84 L125.4 58.32 L125.32 57.65 L125.52 56.85 L125.86 55.99" stroke="#c4c9d4" stroke-width="1.35" fill="none" stroke-linejoin="round" stroke-linecap="round"/>
<path d="M129.57 64.14 L129.11 63.46 L128.62 62.79 L128.12 62.13 L127.68 61.44 L127.32 60.72 L127.07 59.94 L126.93 59.11 L126.85 58.26 L126.79 57.4 L126.66 56.57 L126.41 55.79 L126 55.09 L125.43 54.45 L124.75 53.87" stroke="#c4c9d4" stroke-width="1.35" fill="none" stroke-linejoin="round" stroke-linecap="round"/>
<path d="M132.38 63.13 L132.06 62.38 L131.82 61.6 L131.69 60.79 L131.67 59.96 L131.72 59.1 L131.8 58.24 L131.82 57.39 L131.71 56.58 L131.43 55.81 L130.98 55.09 L130.4 54.4 L129.77 53.72 L129.2 53.03 L128.78 52.3" stroke="#cdbfa8" stroke-width="1.35" fill="none" stroke-linejoin="round" stroke-linecap="round"/>
<path d="M135.58 62.52 L135.72 61.69 L135.82 60.87 L135.82 60.06 L135.65 59.27 L135.32 58.49 L134.87 57.73 L134.41 56.97 L134.05 56.2 L133.89 55.41 L133.98 54.58 L134.3 53.74 L134.74 52.88 L135.15 52.02 L135.38 51.18" stroke="#c9cdd6" stroke-width="1.35" fill="none" stroke-linejoin="round" stroke-linecap="round"/>
<path d="M137.3 62.4 L137.28 61.7 L137.36 60.99 L137.55 60.28 L137.82 59.58 L138.12 58.87 L138.37 58.16 L138.51 57.46 L138.48 56.75 L138.28 56.05 L137.92 55.34 L137.46 54.64 L137.01 53.93 L136.65 53.23 L136.48 52.52" stroke="#d6cbac" stroke-width="1.35" fill="none" stroke-linejoin="round" stroke-linecap="round"/>
<path d="M138.3 62.4 L138.25 61.78 L138.33 61.16 L138.56 60.54 L138.9 59.93 L139.29 59.33 L139.65 58.72 L139.88 58.11 L139.92 57.49 L139.74 56.86 L139.36 56.22 L138.85 55.57 L138.34 54.92 L137.95 54.28 L137.8 53.65" stroke="#c9cdd6" stroke-width="1.35" fill="none" stroke-linejoin="round" stroke-linecap="round"/>
<path d="M140.34 62.56 L140.32 61.47 L140.48 60.4 L140.87 59.38 L141.44 58.37 L142.05 57.38 L142.54 56.36 L142.75 55.31 L142.61 54.2 L142.2 53.06 L141.68 51.9 L141.31 50.76 L141.29 49.67 L141.73 48.65 L142.58 47.69" stroke="#dbd0b0" stroke-width="1.35" fill="none" stroke-linejoin="round" stroke-linecap="round"/>
<path d="M143.36 63.17 L143.66 62.54 L144.19 61.99 L144.84 61.47 L145.47 60.95 L145.88 60.36 L145.96 59.66 L145.7 58.85 L145.23 57.99 L144.81 57.13 L144.68 56.37 L145.01 55.75 L145.8 55.28 L146.89 54.9 L147.96 54.52" stroke="#cdbfa8" stroke-width="1.35" fill="none" stroke-linejoin="round" stroke-linecap="round"/>
<path d="M145.66 63.98 L146.01 63.39 L146.28 62.77 L146.45 62.11 L146.52 61.41 L146.54 60.68 L146.57 59.96 L146.69 59.28 L146.96 58.66 L147.38 58.1 L147.93 57.59 L148.54 57.1 L149.1 56.6 L149.52 56.04 L149.73 55.39" stroke="#dbd0b0" stroke-width="1.35" fill="none" stroke-linejoin="round" stroke-linecap="round"/>
<path d="M145.92 64.09 L146.03 63.45 L146.2 62.84 L146.49 62.28 L146.9 61.77 L147.42 61.32 L148 60.89 L148.58 60.46 L149.07 59.99 L149.41 59.45 L149.56 58.83 L149.53 58.12 L149.35 57.35 L149.12 56.56 L148.94 55.78" stroke="#b0b0b6" stroke-width="1.35" fill="none" stroke-linejoin="round" stroke-linecap="round"/>
<path d="M149.65 66.21 L150.27 65.72 L150.97 65.29 L151.7 64.87 L152.36 64.41 L152.89 63.85 L153.22 63.14 L153.39 62.31 L153.44 61.39 L153.48 60.47 L153.64 59.63 L154.01 58.95 L154.65 58.47 L155.54 58.18 L156.57 57.99" stroke="#dbd0b0" stroke-width="1.35" fill="none" stroke-linejoin="round" stroke-linecap="round"/>
<path d="M150.26 66.67 L150.89 65.94 L151.62 65.29 L152.43 64.7 L153.25 64.12 L154.01 63.49 L154.62 62.75 L155.07 61.88 L155.39 60.9 L155.67 59.88 L156.01 58.92 L156.53 58.1 L157.28 57.46 L158.22 56.98 L159.27 56.58" stroke="#c4c9d4" stroke-width="1.35" fill="none" stroke-linejoin="round" stroke-linecap="round"/>
<path d="M151.32 67.56 L151.92 66.77 L152.64 66.1 L153.48 65.53 L154.37 65.01 L155.22 64.46 L155.93 63.78 L156.47 62.93 L156.86 61.95 L157.2 60.94 L157.65 60.01 L158.3 59.27 L159.19 58.75 L160.25 58.39 L161.31 58.03" stroke="#dbd0b0" stroke-width="1.35" fill="none" stroke-linejoin="round" stroke-linecap="round"/>
<path d="M154.98 71.88 L155.67 71.7 L156.33 71.49 L156.93 71.19 L157.46 70.77 L157.91 70.21 L158.28 69.55 L158.61 68.82 L158.94 68.1 L159.33 67.45 L159.8 66.95 L160.4 66.64 L161.13 66.52 L161.97 66.58 L162.88 66.75" stroke="#c2c2c2" stroke-width="1.35" fill="none" stroke-linejoin="round" stroke-linecap="round"/>
<path d="M155.78 73.27 L156.7 72.73 L157.54 72.04 L158.31 71.23 L159.06 70.39 L159.85 69.62 L160.73 69.01 L161.74 68.62 L162.86 68.45 L164.05 68.4 L165.25 68.36 L166.36 68.16 L167.32 67.69 L168.1 66.91 L168.74 65.86" stroke="#c9cdd6" stroke-width="1.35" fill="none" stroke-linejoin="round" stroke-linecap="round"/>
<path d="M156.65 75.16 L157.49 74.75 L158.37 74.47 L159.3 74.34 L160.28 74.34 L161.29 74.4 L162.29 74.45 L163.25 74.39 L164.14 74.14 L164.95 73.67 L165.67 72.97 L166.34 72.12 L166.98 71.2 L167.65 70.36 L168.4 69.71" stroke="#d6cbac" stroke-width="1.35" fill="none" stroke-linejoin="round" stroke-linecap="round"/>
<path d="M157.04 76.21 L157.67 75.93 L158.35 75.83 L159.09 75.91 L159.87 76.11 L160.65 76.32 L161.39 76.4 L162.05 76.24 L162.63 75.8 L163.13 75.1 L163.59 74.27 L164.06 73.5 L164.61 72.95 L165.27 72.77 L166.05 72.98" stroke="#c4c9d4" stroke-width="1.35" fill="none" stroke-linejoin="round" stroke-linecap="round"/>
<path d="M157.48 77.7 L158.56 77.67 L159.62 77.6 L160.66 77.4 L161.65 77.03 L162.59 76.5 L163.51 75.84 L164.42 75.17 L165.36 74.59 L166.34 74.2 L167.4 74.08 L168.52 74.2 L169.68 74.49 L170.85 74.82 L171.99 75.02" stroke="#c9cdd6" stroke-width="1.35" fill="none" stroke-linejoin="round" stroke-linecap="round"/>
<path d="M158.08 81.74 L158.99 81.56 L159.89 81.27 L160.79 80.97 L161.69 80.76 L162.61 80.72 L163.54 80.88 L164.48 81.19 L165.41 81.5 L166.34 81.67 L167.26 81.59 L168.15 81.24 L169.04 80.7 L169.92 80.15 L170.82 79.79" stroke="#c9cdd6" stroke-width="1.35" fill="none" stroke-linejoin="round" stroke-linecap="round"/>
<path d="M132.93 62.99 L132.63 62.28 L132.32 61.57 L132.02 60.85 L131.78 60.12 L131.62 59.37 L131.53 58.6 L131.52 57.82 L131.54 57.02 L131.57 56.22 L131.55 55.44 L131.43 54.68 L131.2 53.95 L130.85 53.24 L130.4 52.57" stroke="#aeb2ba" stroke-width="2.3" fill="none" stroke-linejoin="round" stroke-linecap="round"/>
<path d="M140.87 62.63 L140.98 61.76 L141.02 60.88 L141.02 59.99 L140.98 59.1 L140.94 58.21 L140.94 57.32 L141.02 56.44 L141.19 55.58 L141.46 54.73 L141.8 53.89 L142.19 53.06 L142.55 52.22 L142.85 51.38 L143.02 50.52" stroke="#a2a6b0" stroke-width="2.3" fill="none" stroke-linejoin="round" stroke-linecap="round"/>
<path d="M147.37 64.8 L147.92 64.02 L148.46 63.24 L148.96 62.44 L149.4 61.6 L149.77 60.73 L150.08 59.83 L150.35 58.9 L150.6 57.96 L150.89 57.05 L151.26 56.18 L151.72 55.35 L152.29 54.59 L152.95 53.87 L153.66 53.18" stroke="#acb0b8" stroke-width="2.3" fill="none" stroke-linejoin="round" stroke-linecap="round"/>
<path d="M128.48 64.67 L128.08 63.97 L127.62 63.3 L127.12 62.65 L126.6 62.01 L126.09 61.37 L125.62 60.71 L125.22 60.01 L124.91 59.26 L124.68 58.47 L124.51 57.65 L124.36 56.81 L124.18 56 L123.93 55.22 L123.57 54.5" stroke="#b8bac0" stroke-width="2.3" fill="none" stroke-linejoin="round" stroke-linecap="round"/>
<path d="M130.71 101.72 L130.29 102.61 L129.9 103.5 L129.57 104.42 L129.31 105.36 L129.11 106.33 L128.96 107.31 L128.81 108.29 L128.62 109.26 L128.36 110.2 L128 111.11 L127.54 111.98 L126.98 112.81 L126.37 113.63 L125.77 114.44" stroke="#b2b4ba" stroke-width="2.3" fill="none" stroke-linejoin="round" stroke-linecap="round"/>
<path d="M137.33 103 L137.28 103.8 L137.17 104.6 L137.01 105.4 L136.82 106.19 L136.64 106.99 L136.5 107.79 L136.43 108.59 L136.47 109.4 L136.6 110.21 L136.8 111.02 L137.04 111.83 L137.24 112.64 L137.37 113.45 L137.38 114.26" stroke="#babcc2" stroke-width="2.3" fill="none" stroke-linejoin="round" stroke-linecap="round"/>
<path d="M125.18 98.6 L124.53 99.28 L123.91 99.97 L123.34 100.71 L122.82 101.49 L122.36 102.31 L121.94 103.16 L121.52 104.01 L121.07 104.85 L120.56 105.63 L119.97 106.35 L119.29 107.01 L118.53 107.6 L117.73 108.15 L116.93 108.71" stroke="#acaeb6" stroke-width="2.3" fill="none" stroke-linejoin="round" stroke-linecap="round"/></g><g filter="url(#soft)"><circle cx="172.9" cy="84.93" r="0.85" fill="#4a4a50" />
<circle cx="168.95" cy="86.13" r="0.85" fill="#4a4a50" />
<circle cx="165.87" cy="92.51" r="0.85" fill="#4a4a50" />
<circle cx="166.14" cy="90.48" r="0.85" fill="#4a4a50" />
<circle cx="165.82" cy="96.85" r="0.85" fill="#4a4a50" />
<circle cx="167.14" cy="100.45" r="0.85" fill="#4a4a50" />
<circle cx="162.99" cy="99.29" r="0.85" fill="#4a4a50" />
<circle cx="163.1" cy="101.96" r="0.85" fill="#4a4a50" />
<circle cx="162.65" cy="107.15" r="0.85" fill="#4a4a50" />
<circle cx="154.6" cy="107.21" r="0.85" fill="#4a4a50" />
<circle cx="151.4" cy="109.39" r="0.85" fill="#4a4a50" />
<circle cx="147.6" cy="110.4" r="0.85" fill="#4a4a50" />
<circle cx="143.03" cy="116.56" r="0.85" fill="#4a4a50" />
<circle cx="143.78" cy="117.53" r="0.85" fill="#4a4a50" />
<circle cx="138.33" cy="116.62" r="0.85" fill="#4a4a50" />
<circle cx="134.36" cy="115.15" r="0.85" fill="#4a4a50" />
<circle cx="131.44" cy="113.32" r="0.85" fill="#4a4a50" />
<circle cx="131.89" cy="117.46" r="0.85" fill="#4a4a50" />
<circle cx="125.52" cy="114.42" r="0.85" fill="#4a4a50" />
<circle cx="127.37" cy="110.78" r="0.85" fill="#4a4a50" />
<circle cx="119.2" cy="105.61" r="0.85" fill="#4a4a50" />
<circle cx="113.06" cy="108.06" r="0.85" fill="#4a4a50" />
<circle cx="114.27" cy="103.81" r="0.85" fill="#4a4a50" />
<circle cx="110.66" cy="99.17" r="0.85" fill="#4a4a50" />
<circle cx="112.03" cy="99.88" r="0.85" fill="#4a4a50" />
<circle cx="112.13" cy="96.48" r="0.85" fill="#4a4a50" />
<circle cx="108.61" cy="93.05" r="0.85" fill="#4a4a50" />
<circle cx="104.94" cy="88.34" r="0.85" fill="#4a4a50" />
<circle cx="103.1" cy="85.7" r="0.85" fill="#4a4a50" />
<circle cx="107.05" cy="80.84" r="0.85" fill="#4a4a50" />
<circle cx="102.41" cy="81.59" r="0.85" fill="#4a4a50" />
<circle cx="105.53" cy="77.55" r="0.85" fill="#4a4a50" />
<circle cx="108.07" cy="72.75" r="0.85" fill="#4a4a50" />
<circle cx="109.57" cy="73.16" r="0.85" fill="#4a4a50" />
<circle cx="111.69" cy="66.1" r="0.85" fill="#4a4a50" />
<circle cx="113.5" cy="60.45" r="0.85" fill="#4a4a50" />
<circle cx="115.69" cy="61.78" r="0.85" fill="#4a4a50" />
<circle cx="114.64" cy="56.99" r="0.85" fill="#4a4a50" />
<circle cx="117.97" cy="55.94" r="0.85" fill="#4a4a50" />
<circle cx="125.86" cy="55.99" r="0.85" fill="#4a4a50" />
<circle cx="124.75" cy="53.87" r="0.85" fill="#4a4a50" />
<circle cx="128.78" cy="52.3" r="0.85" fill="#4a4a50" />
<circle cx="135.38" cy="51.18" r="0.85" fill="#4a4a50" />
<circle cx="136.48" cy="52.52" r="0.85" fill="#4a4a50" />
<circle cx="137.8" cy="53.65" r="0.85" fill="#4a4a50" />
<circle cx="142.58" cy="47.69" r="0.85" fill="#4a4a50" />
<circle cx="147.96" cy="54.52" r="0.85" fill="#4a4a50" />
<circle cx="149.73" cy="55.39" r="0.85" fill="#4a4a50" />
<circle cx="148.94" cy="55.78" r="0.85" fill="#4a4a50" />
<circle cx="156.57" cy="57.99" r="0.85" fill="#4a4a50" />
<circle cx="159.27" cy="56.58" r="0.85" fill="#4a4a50" />
<circle cx="161.31" cy="58.03" r="0.85" fill="#4a4a50" />
<circle cx="162.88" cy="66.75" r="0.85" fill="#4a4a50" />
<circle cx="168.74" cy="65.86" r="0.85" fill="#4a4a50" />
<circle cx="168.4" cy="69.71" r="0.85" fill="#4a4a50" />
<circle cx="166.05" cy="72.98" r="0.85" fill="#4a4a50" />
<circle cx="171.99" cy="75.02" r="0.85" fill="#4a4a50" />
<circle cx="170.82" cy="79.79" r="0.85" fill="#4a4a50" />
<circle cx="130.4" cy="52.57" r="0.95" fill="#3c3c42" />
<circle cx="143.02" cy="50.52" r="0.95" fill="#3c3c42" />
<circle cx="153.66" cy="53.18" r="0.95" fill="#3c3c42" />
<circle cx="123.57" cy="54.5" r="0.95" fill="#3c3c42" />
<circle cx="125.77" cy="114.44" r="0.95" fill="#3c3c42" />
<circle cx="137.38" cy="114.26" r="0.95" fill="#3c3c42" />
<circle cx="116.93" cy="108.71" r="0.95" fill="#3c3c42" />
<circle cx="155.1" cy="54.87" r="0.8" fill="#55555a" />
<circle cx="146.47" cy="107.62" r="0.8" fill="#55555a" />
<circle cx="123.8" cy="54.35" r="0.8" fill="#55555a" />
<circle cx="110.12" cy="62.42" r="0.8" fill="#55555a" />
<circle cx="144.64" cy="106.96" r="0.8" fill="#55555a" />
<circle cx="123.66" cy="61.37" r="0.8" fill="#55555a" />
<circle cx="108.99" cy="65.83" r="0.8" fill="#55555a" />
<circle cx="154.89" cy="54.72" r="0.8" fill="#55555a" />
<circle cx="159.71" cy="102.05" r="0.8" fill="#55555a" />
<circle cx="167.19" cy="95.24" r="0.8" fill="#55555a" />
<circle cx="117.46" cy="102.2" r="0.8" fill="#55555a" />
<circle cx="150.14" cy="52.82" r="0.8" fill="#55555a" />
<circle cx="156.65" cy="107.86" r="0.8" fill="#55555a" />
<circle cx="113.83" cy="94.89" r="0.8" fill="#55555a" />
<circle cx="106.81" cy="70.73" r="0.8" fill="#55555a" />
<circle cx="122.12" cy="109.09" r="0.8" fill="#55555a" />
<circle cx="163" cy="78.42" r="0.8" fill="#55555a" />
<circle cx="161.03" cy="107.53" r="0.8" fill="#55555a" /></g>
<g filter="url(#soft)"><circle cx="137.8" cy="82.7" r="21.3" fill="url(#gsph)"/>
<path d="M125.85 71.06 q1.3 1.77 2.49 0.29 M136.62 64.19 q-2.07 -0.14 -1.89 1.06 M152.46 77.25 q1.76 -1.55 3.09 1.62 M128.06 84.62 q0.19 0.3 1.05 0.88 M147.13 83.47 q-0.97 1.67 -0.46 0.33 M138.61 74.55 q1.31 -1.44 2.5 1.58 M132.31 77.71 q-2.19 1.49 -2.05 0.41 M140.15 91.74 q2.12 1.49 3.56 0.4 M133.17 101.05 q0.17 0.71 1.02 0.72 M143.05 100.67 q0.84 1.87 1.89 0.25 M146.31 75.99 q-0.61 -1.34 0.01 1.53 M141.29 87.23 q-0.87 0.41 -0.34 0.84 M153.77 83.04 q-0.71 -0.76 -0.13 1.3 M143.45 70.39 q-0.81 -0.08 -0.25 1.03 M136.27 77.46 q2.09 -1.91 3.52 1.76 M137.78 64.93 q-2.12 1.15 -1.96 0.54 M127.93 93.73 q-2.16 -1.81 -2.01 1.73 M145.73 99.81 q-1.34 1.02 -0.94 0.59 M154.73 74.69 q-0.68 -0.58 -0.09 1.23 M120.96 80.06 q-1.72 0.99 -1.44 0.6" stroke="#2a7444" stroke-width="1.25" fill="none" opacity="0.85" stroke-linecap="round"/>
<circle cx="137.8" cy="82.7" r="21.3" fill="url(#gshade)"/>
<circle cx="137.8" cy="82.7" r="21.3" fill="url(#gshade2)"/></g>
<text x="188.9" y="50.38" font-size="10" font-weight="bold" text-anchor="middle" fill="#000" >PAA</text>
<path d="M177.2 60.5 L177.44 60.5 L177.74 60.51 L178.1 60.51 L178.51 60.52 L178.95 60.53 L179.41 60.53 L179.88 60.54 L180.36 60.54 L180.81 60.54 L181.25 60.53 L181.65 60.52 L182 60.5 L182.31 60.48 L182.6 60.45 L182.88 60.42 L183.13 60.38 L183.38 60.34 L183.61 60.3 L183.84 60.25 L184.07 60.21 L184.29 60.16 L184.52 60.11 L184.76 60.05 L185 60 L185.25 59.94 L185.51 59.87 L185.76 59.79 L186.02 59.7 L186.28 59.62 L186.53 59.53 L186.79 59.45 L187.04 59.37 L187.29 59.31 L187.53 59.26 L187.77 59.22 L188 59.2 L188.23 59.2 L188.45 59.22 L188.66 59.25 L188.87 59.3 L189.08 59.36 L189.28 59.42 L189.48 59.49 L189.69 59.56 L189.89 59.62 L190.09 59.69 L190.29 59.75 L190.5 59.8 L190.7 59.85 L190.87 59.89 L191.03 59.94 L191.18 59.99 L191.33 60.03 L191.49 60.07 L191.67 60.12 L191.86 60.16 L192.09 60.2 L192.35 60.24 L192.65 60.27 L193 60.3 L193.42 60.32 L193.93 60.34 L194.49 60.35 L195.1 60.35 L195.74 60.35 L196.39 60.35 L197.04 60.35 L197.66 60.36 L198.25 60.38 L198.78 60.41 L199.23 60.45 L199.6 60.5 L199.88 60.57 L200.1 60.67 L200.27 60.78 L200.39 60.9 L200.46 61.03 L200.51 61.16 L200.54 61.29 L200.55 61.42 L200.55 61.54 L200.56 61.65 L200.57 61.73 L200.6 61.8" stroke="#a39a9a" stroke-width="1.05" fill="none" stroke-linejoin="round" filter="url(#soft)"/>
<line x1="179.2" y1="80.4" x2="196.8" y2="80.4" stroke="#000" stroke-width="1.4" /><path d="M198.8 80.4 L195.6 78.95 L195.6 81.85 Z" fill="#000"/>
<g filter="url(#softt)"><path d="M263.22 81.4 L263.96 81.26 L264.69 81.08 L265.42 80.88 L266.15 80.69 L266.89 80.54 L267.63 80.46 L268.38 80.46 L269.13 80.53 L269.9 80.65 L270.66 80.78 L271.42 80.89 L272.17 80.92 L272.91 80.84 L273.65 80.66" stroke="#c9ccd2" stroke-width="2.4" fill="none" stroke-linejoin="round" stroke-linecap="round"/>
<path d="M262.22 89.7 L262.92 89.95 L263.64 90.16 L264.37 90.31 L265.12 90.43 L265.88 90.52 L266.63 90.62 L267.37 90.77 L268.08 90.98 L268.77 91.29 L269.43 91.67 L270.07 92.11 L270.7 92.57 L271.35 93 L272.01 93.35" stroke="#d4d4d4" stroke-width="2.4" fill="none" stroke-linejoin="round" stroke-linecap="round"/>
<path d="M258.51 96.19 L259.25 96.75 L259.97 97.33 L260.66 97.95 L261.3 98.62 L261.91 99.33 L262.51 100.06 L263.1 100.79 L263.73 101.48 L264.4 102.12 L265.13 102.68 L265.93 103.18 L266.77 103.62 L267.63 104.04 L268.48 104.47" stroke="#d4d4d4" stroke-width="2.4" fill="none" stroke-linejoin="round" stroke-linecap="round"/>
<path d="M251.94 101.24 L252.43 102.03 L252.92 102.81 L253.39 103.61 L253.81 104.44 L254.17 105.29 L254.47 106.17 L254.72 107.07 L254.95 107.99 L255.2 108.89 L255.49 109.78 L255.87 110.62 L256.34 111.42 L256.9 112.17 L257.53 112.9" stroke="#d4d4d4" stroke-width="2.4" fill="none" stroke-linejoin="round" stroke-linecap="round"/>
<path d="M241.29 103.1 L241.12 103.83 L240.95 104.55 L240.81 105.28 L240.72 106.02 L240.71 106.76 L240.76 107.51 L240.85 108.27 L240.96 109.02 L241.05 109.78 L241.07 110.52 L240.99 111.26 L240.82 111.99 L240.55 112.7 L240.22 113.42" stroke="#d9d6d0" stroke-width="2.4" fill="none" stroke-linejoin="round" stroke-linecap="round"/>
<path d="M236.1 101.86 L235.89 102.61 L235.72 103.37 L235.56 104.14 L235.4 104.9 L235.19 105.65 L234.93 106.38 L234.59 107.08 L234.19 107.75 L233.73 108.4 L233.26 109.05 L232.82 109.71 L232.45 110.4 L232.18 111.12 L232.01 111.89" stroke="#d4d4d4" stroke-width="2.4" fill="none" stroke-linejoin="round" stroke-linecap="round"/>
<path d="M230.06 98.19 L229.61 98.83 L229.16 99.47 L228.67 100.07 L228.13 100.63 L227.55 101.15 L226.93 101.64 L226.28 102.1 L225.64 102.57 L225.03 103.06 L224.48 103.61 L224 104.23 L223.6 104.91 L223.26 105.64 L222.93 106.4" stroke="#c9ccd2" stroke-width="2.4" fill="none" stroke-linejoin="round" stroke-linecap="round"/>
<path d="M224.15 88.98 L223.26 89.31 L222.37 89.69 L221.5 90.09 L220.63 90.5 L219.75 90.88 L218.85 91.21 L217.93 91.46 L216.99 91.64 L216.02 91.75 L215.05 91.83 L214.08 91.92 L213.12 92.06 L212.2 92.29 L211.3 92.63" stroke="#d4d4d4" stroke-width="2.4" fill="none" stroke-linejoin="round" stroke-linecap="round"/>
<path d="M223.34 84.45 L222.4 84.57 L221.47 84.74 L220.54 84.94 L219.61 85.13 L218.68 85.28 L217.74 85.37 L216.8 85.38 L215.85 85.32 L214.89 85.2 L213.94 85.05 L212.99 84.93 L212.04 84.87 L211.1 84.92 L210.17 85.07" stroke="#c9ccd2" stroke-width="2.4" fill="none" stroke-linejoin="round" stroke-linecap="round"/>
<path d="M225.14 74.82 L224.24 74.48 L223.35 74.11 L222.48 73.69 L221.64 73.21 L220.83 72.68 L220.03 72.12 L219.23 71.56 L218.41 71.04 L217.56 70.58 L216.67 70.21 L215.74 69.92 L214.78 69.71 L213.81 69.52 L212.83 69.33" stroke="#d4d4d4" stroke-width="2.4" fill="none" stroke-linejoin="round" stroke-linecap="round"/>
<path d="M228.47 69.78 L227.8 69.27 L227.11 68.79 L226.4 68.33 L225.69 67.86 L225 67.38 L224.35 66.84 L223.76 66.25 L223.21 65.61 L222.71 64.91 L222.22 64.19 L221.73 63.49 L221.19 62.83 L220.59 62.25 L219.91 61.75" stroke="#bfc3cb" stroke-width="2.4" fill="none" stroke-linejoin="round" stroke-linecap="round"/>
<path d="M236.22 64.5 L236.04 63.73 L235.84 62.98 L235.61 62.23 L235.33 61.51 L234.98 60.81 L234.58 60.13 L234.14 59.47 L233.69 58.81 L233.29 58.13 L232.94 57.43 L232.69 56.69 L232.54 55.92 L232.46 55.12 L232.43 54.3" stroke="#bfc3cb" stroke-width="2.4" fill="none" stroke-linejoin="round" stroke-linecap="round"/>
<path d="M242.53 63.21 L242.39 62.34 L242.24 61.47 L242.1 60.6 L242.01 59.72 L241.97 58.85 L242.01 57.97 L242.12 57.08 L242.27 56.2 L242.42 55.31 L242.55 54.43 L242.59 53.55 L242.53 52.67 L242.37 51.8 L242.11 50.93" stroke="#bfc3cb" stroke-width="2.4" fill="none" stroke-linejoin="round" stroke-linecap="round"/>
<path d="M252.56 65.48 L253.11 64.64 L253.68 63.82 L254.23 62.99 L254.76 62.14 L255.23 61.27 L255.63 60.36 L255.98 59.41 L256.28 58.45 L256.57 57.48 L256.88 56.52 L257.26 55.6 L257.73 54.72 L258.29 53.9 L258.94 53.12" stroke="#bfc3cb" stroke-width="2.4" fill="none" stroke-linejoin="round" stroke-linecap="round"/>
<path d="M258.43 70.12 L259.15 69.62 L259.89 69.13 L260.63 68.66 L261.37 68.17 L262.07 67.65 L262.73 67.08 L263.34 66.44 L263.9 65.76 L264.44 65.04 L264.97 64.32 L265.53 63.63 L266.15 63 L266.83 62.46 L267.59 62" stroke="#bfc3cb" stroke-width="2.4" fill="none" stroke-linejoin="round" stroke-linecap="round"/>
<path d="M261.03 73.94 L261.75 73.66 L262.48 73.4 L263.22 73.16 L263.96 72.91 L264.68 72.62 L265.36 72.28 L266.01 71.86 L266.63 71.38 L267.23 70.85 L267.82 70.32 L268.42 69.81 L269.06 69.37 L269.75 69.03 L270.49 68.79" stroke="#bfc3cb" stroke-width="2.4" fill="none" stroke-linejoin="round" stroke-linecap="round"/></g><g filter="url(#soft)"><circle cx="243.3" cy="83.2" r="29" fill="none" stroke="#ececec" stroke-width="13" opacity="0.9"/>
<path d="M263.3 83.4 L264.12 83.26 L264.94 83.24 L265.75 83.37 L266.56 83.67 L267.37 84.04 L268.18 84.37 L268.99 84.56 L269.81 84.51 L270.63 84.22 L271.46 83.77 L272.29 83.28 L273.11 82.94 L273.93 82.88 L274.74 83.15" stroke="#d4c2a2" stroke-width="0.95" fill="none" stroke-linejoin="round" />
<path d="M263.16 85.61 L264.05 85.65 L264.94 85.75 L265.82 85.92 L266.69 86.17 L267.54 86.49 L268.39 86.86 L269.24 87.25 L270.09 87.61 L270.95 87.91 L271.83 88.1 L272.72 88.17 L273.63 88.1 L274.56 87.92 L275.5 87.66" stroke="#c89e94" stroke-width="0.95" fill="none" stroke-linejoin="round" />
<path d="M261.79 90.84 L262.57 91.1 L263.33 91.42 L264.06 91.82 L264.75 92.3 L265.41 92.83 L266.07 93.39 L266.74 93.91 L267.45 94.36 L268.2 94.69 L269.01 94.89 L269.87 94.98 L270.77 94.98 L271.68 94.96 L272.56 94.98" stroke="#bebebe" stroke-width="0.95" fill="none" stroke-linejoin="round" />
<path d="M260.71 93.04 L261.69 93.42 L262.65 93.85 L263.56 94.34 L264.43 94.92 L265.24 95.6 L266.01 96.34 L266.76 97.11 L267.53 97.86 L268.34 98.54 L269.22 99.09 L270.18 99.5 L271.23 99.77 L272.33 99.94 L273.44 100.08" stroke="#d0ac9e" stroke-width="0.95" fill="none" stroke-linejoin="round" />
<path d="M258.92 95.7 L259.69 96.41 L260.37 97.21 L261 98.08 L261.6 98.99 L262.23 99.87 L262.92 100.66 L263.73 101.32 L264.66 101.83 L265.7 102.2 L266.81 102.51 L267.91 102.82 L268.93 103.22 L269.82 103.78 L270.53 104.56" stroke="#d0ac9e" stroke-width="0.95" fill="none" stroke-linejoin="round" />
<path d="M255.43 99.1 L256.17 99.92 L256.96 100.7 L257.79 101.46 L258.63 102.2 L259.46 102.95 L260.26 103.72 L261 104.54 L261.67 105.42 L262.25 106.36 L262.75 107.37 L263.2 108.42 L263.6 109.5 L264.02 110.58 L264.47 111.63" stroke="#c89e94" stroke-width="0.95" fill="none" stroke-linejoin="round" />
<path d="M252.52 100.95 L252.74 101.77 L252.88 102.62 L253 103.49 L253.17 104.33 L253.47 105.11 L253.93 105.8 L254.56 106.41 L255.3 106.97 L256.07 107.51 L256.77 108.08 L257.3 108.74 L257.6 109.52 L257.66 110.42 L257.53 111.41" stroke="#d4c2a2" stroke-width="0.95" fill="none" stroke-linejoin="round" />
<path d="M249.22 102.3 L249.76 103.25 L250.27 104.21 L250.68 105.2 L250.95 106.23 L251.04 107.31 L251.01 108.43 L250.91 109.58 L250.85 110.71 L250.93 111.8 L251.23 112.82 L251.77 113.76 L252.53 114.65 L253.41 115.49 L254.29 116.33" stroke="#dcbeb6" stroke-width="0.95" fill="none" stroke-linejoin="round" />
<path d="M245.77 103.05 L246.11 103.93 L246.49 104.8 L246.83 105.68 L247.04 106.57 L247.08 107.49 L246.93 108.43 L246.66 109.39 L246.35 110.35 L246.15 111.3 L246.14 112.23 L246.4 113.11 L246.91 113.97 L247.6 114.8 L248.3 115.63" stroke="#c49a8a" stroke-width="0.95" fill="none" stroke-linejoin="round" />
<path d="M243.24 103.2 L243.27 104.16 L243.38 105.11 L243.56 106.06 L243.79 107.01 L244.05 107.96 L244.28 108.91 L244.43 109.86 L244.48 110.81 L244.39 111.77 L244.18 112.73 L243.87 113.69 L243.5 114.65 L243.14 115.6 L242.85 116.56" stroke="#cecece" stroke-width="0.95" fill="none" stroke-linejoin="round" />
<path d="M240.39 102.99 L240.14 104.02 L239.95 105.07 L239.84 106.12 L239.83 107.19 L239.89 108.27 L240 109.35 L240.09 110.43 L240.1 111.51 L240 112.56 L239.76 113.6 L239.38 114.62 L238.9 115.62 L238.39 116.62 L237.92 117.63" stroke="#cecece" stroke-width="0.95" fill="none" stroke-linejoin="round" />
<path d="M237.37 102.3 L236.91 103.28 L236.37 104.23 L235.82 105.18 L235.31 106.14 L234.9 107.14 L234.63 108.18 L234.51 109.26 L234.5 110.39 L234.52 111.52 L234.5 112.64 L234.34 113.72 L233.99 114.73 L233.42 115.67 L232.68 116.56" stroke="#c89e94" stroke-width="0.95" fill="none" stroke-linejoin="round" />
<path d="M232.25 99.87 L231.83 100.55 L231.56 101.32 L231.4 102.17 L231.28 103.03 L231.1 103.86 L230.75 104.58 L230.19 105.17 L229.42 105.63 L228.55 106.01 L227.7 106.42 L227.02 106.94 L226.62 107.62 L226.52 108.5 L226.64 109.52" stroke="#d4c2a2" stroke-width="0.95" fill="none" stroke-linejoin="round" />
<path d="M230.27 98.38 L229.76 99.06 L229.2 99.7 L228.57 100.29 L227.89 100.83 L227.16 101.33 L226.44 101.82 L225.74 102.35 L225.12 102.93 L224.58 103.6 L224.15 104.36 L223.8 105.18 L223.48 106.04 L223.16 106.89 L222.76 107.68" stroke="#d4c2a2" stroke-width="0.95" fill="none" stroke-linejoin="round" />
<path d="M228.12 96.23 L227.23 96.74 L226.38 97.3 L225.61 97.96 L224.95 98.74 L224.38 99.61 L223.85 100.54 L223.29 101.44 L222.65 102.24 L221.86 102.87 L220.92 103.33 L219.86 103.66 L218.77 103.94 L217.73 104.29 L216.84 104.8" stroke="#d4c2a2" stroke-width="0.95" fill="none" stroke-linejoin="round" />
<path d="M225.89 93.05 L225.03 93.7 L224.11 94.26 L223.13 94.7 L222.08 95.02 L220.99 95.25 L219.89 95.47 L218.82 95.75 L217.83 96.18 L216.95 96.79 L216.17 97.59 L215.45 98.52 L214.75 99.48 L214.01 100.34 L213.15 101.01" stroke="#cecece" stroke-width="0.95" fill="none" stroke-linejoin="round" />
<path d="M224.52 90.08 L223.64 90.23 L222.75 90.36 L221.86 90.51 L221 90.7 L220.15 90.97 L219.34 91.32 L218.57 91.77 L217.83 92.3 L217.11 92.89 L216.39 93.51 L215.67 94.11 L214.93 94.65 L214.15 95.08 L213.32 95.37" stroke="#cecece" stroke-width="0.95" fill="none" stroke-linejoin="round" />
<path d="M223.76 87.45 L222.69 87.58 L221.61 87.64 L220.52 87.65 L219.42 87.66 L218.34 87.71 L217.28 87.85 L216.23 88.1 L215.21 88.47 L214.22 88.95 L213.23 89.49 L212.25 90.03 L211.26 90.52 L210.24 90.88 L209.18 91.08" stroke="#d4c2a2" stroke-width="0.95" fill="none" stroke-linejoin="round" />
<path d="M223.33 84.44 L222.35 84.66 L221.37 84.72 L220.37 84.58 L219.37 84.27 L218.36 83.88 L217.36 83.55 L216.36 83.4 L215.38 83.54 L214.4 83.96 L213.44 84.59 L212.48 85.26 L211.51 85.76 L210.53 85.94 L209.53 85.71" stroke="#d4c2a2" stroke-width="0.95" fill="none" stroke-linejoin="round" />
<path d="M223.75 78.99 L222.86 78.64 L221.98 78.23 L221.11 77.81 L220.23 77.42 L219.33 77.14 L218.4 76.98 L217.43 76.96 L216.44 77.05 L215.44 77.19 L214.45 77.31 L213.48 77.32 L212.54 77.17 L211.66 76.81 L210.81 76.27" stroke="#c89e94" stroke-width="0.95" fill="none" stroke-linejoin="round" />
<path d="M224.51 76.36 L223.51 76.16 L222.5 76.03 L221.47 75.92 L220.45 75.81 L219.45 75.63 L218.48 75.35 L217.56 74.95 L216.68 74.41 L215.84 73.77 L215.03 73.06 L214.21 72.35 L213.38 71.71 L212.49 71.2 L211.54 70.88" stroke="#d4c2a2" stroke-width="0.95" fill="none" stroke-linejoin="round" />
<path d="M225.86 73.4 L224.91 72.93 L223.9 72.58 L222.83 72.34 L221.75 72.11 L220.71 71.81 L219.76 71.34 L218.92 70.68 L218.16 69.84 L217.45 68.93 L216.71 68.07 L215.88 67.39 L214.9 66.97 L213.78 66.82 L212.56 66.85" stroke="#d8b2ac" stroke-width="0.95" fill="none" stroke-linejoin="round" />
<path d="M227.51 70.92 L226.91 70.27 L226.23 69.74 L225.43 69.36 L224.55 69.1 L223.63 68.89 L222.76 68.6 L222.01 68.15 L221.43 67.48 L221 66.62 L220.63 65.66 L220.23 64.76 L219.68 64.05 L218.91 63.63 L217.94 63.49" stroke="#d0ac9e" stroke-width="0.95" fill="none" stroke-linejoin="round" />
<path d="M230.97 67.46 L230.14 66.72 L229.34 65.97 L228.63 65.15 L228.03 64.23 L227.55 63.23 L227.14 62.17 L226.72 61.12 L226.21 60.15 L225.54 59.29 L224.69 58.58 L223.7 57.97 L222.66 57.4 L221.69 56.79 L220.88 56.04" stroke="#d8b2ac" stroke-width="0.95" fill="none" stroke-linejoin="round" />
<path d="M233.63 65.69 L233.09 64.93 L232.63 64.12 L232.28 63.26 L232.03 62.34 L231.86 61.38 L231.72 60.41 L231.53 59.46 L231.22 58.57 L230.75 57.77 L230.11 57.06 L229.32 56.43 L228.46 55.84 L227.61 55.24 L226.88 54.58" stroke="#b4b8c4" stroke-width="0.95" fill="none" stroke-linejoin="round" />
<path d="M237.84 63.96 L237.41 63.11 L236.89 62.29 L236.38 61.47 L235.96 60.62 L235.71 59.71 L235.66 58.75 L235.75 57.75 L235.88 56.73 L235.92 55.75 L235.74 54.82 L235.29 53.98 L234.6 53.21 L233.79 52.48 L233.03 51.73" stroke="#b4b8c4" stroke-width="0.95" fill="none" stroke-linejoin="round" />
<path d="M239.26 63.61 L238.92 62.81 L238.55 62.01 L238.21 61.21 L237.97 60.38 L237.87 59.53 L237.91 58.65 L238.03 57.75 L238.14 56.85 L238.14 55.97 L237.97 55.13 L237.59 54.34 L237.05 53.58 L236.45 52.83 L235.92 52.07" stroke="#cecece" stroke-width="0.95" fill="none" stroke-linejoin="round" />
<path d="M242.6 63.21 L242.52 62.16 L242.63 61.11 L242.92 60.06 L243.3 59.01 L243.67 57.95 L243.86 56.9 L243.79 55.85 L243.43 54.81 L242.87 53.77 L242.26 52.73 L241.81 51.69 L241.68 50.64 L241.94 49.59 L242.55 48.53" stroke="#b4b8c4" stroke-width="0.95" fill="none" stroke-linejoin="round" />
<path d="M246.76 63.5 L246.78 62.45 L246.82 61.4 L246.91 60.36 L247.08 59.34 L247.35 58.33 L247.73 57.35 L248.18 56.38 L248.68 55.41 L249.18 54.45 L249.62 53.47 L249.95 52.48 L250.13 51.46 L250.15 50.4 L250.03 49.33" stroke="#d4c2a2" stroke-width="0.95" fill="none" stroke-linejoin="round" />
<path d="M250.08 64.38 L250.17 63.5 L250.21 62.61 L250.27 61.72 L250.46 60.88 L250.83 60.09 L251.37 59.37 L252.03 58.69 L252.67 58.01 L253.18 57.27 L253.45 56.46 L253.46 55.55 L253.26 54.57 L253.02 53.58 L252.9 52.63" stroke="#b4b8c4" stroke-width="0.95" fill="none" stroke-linejoin="round" />
<path d="M253.27 65.86 L253.69 64.89 L254.14 63.94 L254.65 63.02 L255.24 62.15 L255.91 61.32 L256.64 60.54 L257.41 59.78 L258.2 59.02 L258.95 58.25 L259.64 57.43 L260.22 56.56 L260.68 55.61 L261.02 54.6 L261.26 53.52" stroke="#c89e94" stroke-width="0.95" fill="none" stroke-linejoin="round" />
<path d="M257.35 68.96 L257.85 68.3 L258.23 67.53 L258.54 66.69 L258.83 65.83 L259.2 65.05 L259.71 64.4 L260.41 63.93 L261.28 63.62 L262.26 63.41 L263.23 63.19 L264.08 62.85 L264.71 62.32 L265.07 61.53 L265.21 60.53" stroke="#c49a8a" stroke-width="0.95" fill="none" stroke-linejoin="round" />
<path d="M258.03 69.67 L258.45 68.92 L258.86 68.16 L259.29 67.43 L259.82 66.8 L260.47 66.3 L261.25 65.94 L262.13 65.7 L263.06 65.49 L263.95 65.25 L264.72 64.88 L265.32 64.33 L265.72 63.57 L265.96 62.62 L266.11 61.58" stroke="#b4b8c4" stroke-width="0.95" fill="none" stroke-linejoin="round" />
<path d="M260.38 72.79 L261.13 72.41 L261.92 72.1 L262.74 71.85 L263.57 71.62 L264.39 71.37 L265.18 71.06 L265.92 70.67 L266.59 70.16 L267.19 69.54 L267.75 68.83 L268.29 68.1 L268.84 67.39 L269.44 66.77 L270.13 66.28" stroke="#c89e94" stroke-width="0.95" fill="none" stroke-linejoin="round" />
<path d="M262.17 76.56 L262.99 76.4 L263.84 76.36 L264.72 76.41 L265.61 76.46 L266.46 76.43 L267.27 76.24 L268.01 75.84 L268.68 75.25 L269.31 74.53 L269.94 73.79 L270.59 73.15 L271.33 72.73 L272.15 72.6 L273.07 72.75" stroke="#d4c2a2" stroke-width="0.95" fill="none" stroke-linejoin="round" />
<path d="M262.98 79.6 L263.99 79.43 L265.03 79.36 L266.08 79.38 L267.14 79.46 L268.2 79.54 L269.24 79.55 L270.27 79.42 L271.27 79.14 L272.25 78.71 L273.2 78.18 L274.16 77.62 L275.12 77.13 L276.12 76.81 L277.15 76.7" stroke="#c49a8a" stroke-width="0.95" fill="none" stroke-linejoin="round" />
<path d="M268.78 84.11 Q269.98 89.95 266.15 94.51" stroke="#bebebe" stroke-width="0.9" fill="none"/>
<path d="M267.4 91.52 Q264.31 94.72 263.27 99.05" stroke="#bebebe" stroke-width="0.9" fill="none"/>
<path d="M264.09 97.97 Q260.67 99.74 259.06 103.24" stroke="#b4b8c4" stroke-width="0.9" fill="none"/>
<path d="M260.02 102.45 Q258.38 106.75 253.79 106.44" stroke="#c49a8a" stroke-width="0.9" fill="none"/>
<path d="M253.28 106.67 Q249.18 110.54 243.85 108.69" stroke="#bebebe" stroke-width="0.9" fill="none"/>
<path d="M247.95 108.27 Q243.73 111.19 239.42 108.4" stroke="#d8b2ac" stroke-width="0.9" fill="none"/>
<path d="M238.65 108.27 Q233.12 109.96 230.12 105.03" stroke="#d8b2ac" stroke-width="0.9" fill="none"/>
<path d="M233.76 106.85 Q227.51 106.48 224.85 100.81" stroke="#d8b2ac" stroke-width="0.9" fill="none"/>
<path d="M226.77 102.61 Q221.04 101.67 221.17 95.87" stroke="#d8b2ac" stroke-width="0.9" fill="none"/>
<path d="M221.98 97.19 Q218.22 94.05 218.5 89.15" stroke="#b4b8c4" stroke-width="0.9" fill="none"/>
<path d="M219.1 91.25 Q219.87 85.77 217.93 80.58" stroke="#d8b2ac" stroke-width="0.9" fill="none"/>
<path d="M217.81 83.84 Q215.53 78.2 219.63 73.72" stroke="#dcbeb6" stroke-width="0.9" fill="none"/>
<path d="M219 75.48 Q219.47 69.82 224.06 66.47" stroke="#d0ac9e" stroke-width="0.9" fill="none"/>
<path d="M221.5 69.97 Q224.38 67.51 226.26 64.23" stroke="#d8b2ac" stroke-width="0.9" fill="none"/>
<path d="M226.18 64.3 Q228 60.41 232.29 60.2" stroke="#bebebe" stroke-width="0.9" fill="none"/>
<path d="M233.17 59.8 Q237.84 56.19 243.54 57.7" stroke="#c89e94" stroke-width="0.9" fill="none"/>
<path d="M239.59 57.97 Q244.51 55.48 249.2 58.39" stroke="#cecece" stroke-width="0.9" fill="none"/>
<path d="M248.14 58.16 Q252.17 56.72 254.51 60.3" stroke="#dcbeb6" stroke-width="0.9" fill="none"/>
<path d="M254.93 60.51 Q257.98 63.58 261.79 65.64" stroke="#c49a8a" stroke-width="0.9" fill="none"/>
<path d="M260.05 63.97 Q262.45 67.76 265.65 70.92" stroke="#d0ac9e" stroke-width="0.9" fill="none"/>
<path d="M265.34 70.38 Q270.24 72.62 268.18 77.6" stroke="#d8b2ac" stroke-width="0.9" fill="none"/>
<path d="M267.51 75.19 Q267.2 79.84 268.78 84.23" stroke="#c49a8a" stroke-width="0.9" fill="none"/>
<path d="M272.78 82.1 Q275.27 87.03 271.69 91.23" stroke="#b4b8c4" stroke-width="0.9" fill="none"/>
<path d="M271.61 91.51 Q272.41 97.07 267.58 99.95" stroke="#d0ac9e" stroke-width="0.9" fill="none"/>
<path d="M269.56 96.64 Q269.52 101.75 264.72 103.48" stroke="#d8b2ac" stroke-width="0.9" fill="none"/>
<path d="M265.44 102.69 Q264.05 108.28 258.3 108.6" stroke="#d8b2ac" stroke-width="0.9" fill="none"/>
<path d="M258.95 108.21 Q255.85 112.36 250.71 111.76" stroke="#d8b2ac" stroke-width="0.9" fill="none"/>
<path d="M253.57 110.86 Q250.83 113.72 247.07 112.46" stroke="#c89e94" stroke-width="0.9" fill="none"/>
<path d="M247.68 112.37 Q244.24 111.72 240.85 112.6" stroke="#cecece" stroke-width="0.9" fill="none"/>
<path d="M241.05 112.61 Q237.44 114.05 234.62 111.39" stroke="#d8b2ac" stroke-width="0.9" fill="none"/>
<path d="M234.01 111.2 Q229.56 112.85 227.95 108.39" stroke="#cecece" stroke-width="0.9" fill="none"/>
<path d="M225.38 106.63 Q220.22 106.29 219.87 101.13" stroke="#d0ac9e" stroke-width="0.9" fill="none"/>
<path d="M220.5 101.92 Q214.82 99.41 215.56 93.24" stroke="#d4c2a2" stroke-width="0.9" fill="none"/>
<path d="M216.8 96.16 Q216.48 90.96 213.97 86.39" stroke="#d0ac9e" stroke-width="0.9" fill="none"/>
<path d="M214.52 89.7 Q215.93 84.66 214 79.8" stroke="#dcbeb6" stroke-width="0.9" fill="none"/>
<path d="M213.81 84.02 Q215.9 80.86 214.38 77.4" stroke="#d8b2ac" stroke-width="0.9" fill="none"/>
<path d="M214.58 76.45 Q214.38 71.58 217.9 68.2" stroke="#c49a8a" stroke-width="0.9" fill="none"/>
<path d="M217.59 68.73 Q218.04 63.21 223.31 61.51" stroke="#dcbeb6" stroke-width="0.9" fill="none"/>
<path d="M220.99 63.89 Q221.79 59.88 225.86 59.41" stroke="#d4c2a2" stroke-width="0.9" fill="none"/>
<path d="M225.66 59.55 Q230.58 58.5 234.28 55.11" stroke="#d4c2a2" stroke-width="0.9" fill="none"/>
<path d="M232.4 55.79 Q236.73 52.37 242.07 53.73" stroke="#cecece" stroke-width="0.9" fill="none"/>
<path d="M240.65 53.82 Q245.1 51.51 249.26 54.31" stroke="#d4c2a2" stroke-width="0.9" fill="none"/>
<path d="M247.23 53.96 Q250.91 56.03 255.13 56.18" stroke="#c89e94" stroke-width="0.9" fill="none"/>
<path d="M254.96 56.1 Q260.67 55.67 262.73 61" stroke="#dcbeb6" stroke-width="0.9" fill="none"/>
<path d="M258.98 58.21 Q264.44 59.12 266.04 64.41" stroke="#dcbeb6" stroke-width="0.9" fill="none"/>
<path d="M265.89 64.23 Q270.97 65.42 269.94 70.53" stroke="#d0ac9e" stroke-width="0.9" fill="none"/>
<path d="M269.85 70.34 Q273.31 73.87 272.46 78.73" stroke="#b4b8c4" stroke-width="0.9" fill="none"/>
<path d="M272.16 77.09 Q276.04 80.65 272.76 84.77" stroke="#cecece" stroke-width="0.9" fill="none"/>
<path d="M276.79 83.94 Q279.34 88.32 275.67 91.82" stroke="#d8b2ac" stroke-width="0.9" fill="none"/>
<path d="M275.89 90.97 Q277.07 95.23 273.46 97.77" stroke="#cecece" stroke-width="0.9" fill="none"/>
<path d="M273.57 97.56 Q270.29 101.26 268.12 105.7" stroke="#d0ac9e" stroke-width="0.9" fill="none"/>
<path d="M271.2 101.75 Q268.3 103.96 266.65 107.22" stroke="#dcbeb6" stroke-width="0.9" fill="none"/>
<path d="M265.75 108.06 Q263.92 111.9 259.69 112.42" stroke="#dcbeb6" stroke-width="0.9" fill="none"/>
<path d="M260.26 112.09 Q257.93 116.49 253.11 115.23" stroke="#dcbeb6" stroke-width="0.9" fill="none"/>
<path d="M252.55 115.4 Q248.04 119.35 242.66 116.69" stroke="#d8b2ac" stroke-width="0.9" fill="none"/>
<path d="M247.13 116.48 Q242.92 114.93 238.69 116.38" stroke="#b4b8c4" stroke-width="0.9" fill="none"/>
<path d="M238.97 116.42 Q233.82 118.23 230.29 114.07" stroke="#bebebe" stroke-width="0.9" fill="none"/>
<path d="M232.21 114.81 Q229.09 111.4 224.49 110.92" stroke="#c89e94" stroke-width="0.9" fill="none"/>
<path d="M227.79 112.89 Q224.66 108.93 219.91 107.18" stroke="#b4b8c4" stroke-width="0.9" fill="none"/>
<path d="M221.69 108.8 Q216.45 107.19 215.44 101.81" stroke="#bebebe" stroke-width="0.9" fill="none"/>
<path d="M215.59 102.02 Q210.29 99.54 211.53 93.83" stroke="#d0ac9e" stroke-width="0.9" fill="none"/>
<path d="M213.37 98.25 Q208.68 94.44 210.24 88.6" stroke="#c49a8a" stroke-width="0.9" fill="none"/>
<path d="M210.84 91.47 Q207.97 86.57 209.86 81.23" stroke="#c49a8a" stroke-width="0.9" fill="none"/>
<path d="M209.81 82.32 Q211.32 78.83 210.8 75.07" stroke="#b4b8c4" stroke-width="0.9" fill="none"/>
<path d="M210.88 74.78 Q210.22 69.04 214.83 65.55" stroke="#b4b8c4" stroke-width="0.9" fill="none"/>
<path d="M212.69 69.58 Q216.2 65.62 218.39 60.8" stroke="#c89e94" stroke-width="0.9" fill="none"/>
<path d="M216.4 63.24 Q216.38 58.09 221.51 57.75" stroke="#dcbeb6" stroke-width="0.9" fill="none"/>
<path d="M221.87 57.45 Q224.46 53.58 229.06 52.87" stroke="#d4c2a2" stroke-width="0.9" fill="none"/>
<path d="M225.65 54.73 Q227.96 50.47 232.7 51.42" stroke="#c49a8a" stroke-width="0.9" fill="none"/>
<path d="M231.71 51.77 Q235.86 48.98 240.79 49.79" stroke="#cecece" stroke-width="0.9" fill="none"/>
<path d="M238.31 50.07 Q242.17 46.39 246.24 49.83" stroke="#c49a8a" stroke-width="0.9" fill="none"/>
<path d="M246.01 49.81 Q250.23 47.89 253.41 51.26" stroke="#bebebe" stroke-width="0.9" fill="none"/>
<path d="M254.27 51.55 Q259.22 49.95 261.07 54.8" stroke="#d4c2a2" stroke-width="0.9" fill="none"/>
<path d="M258.61 53.4 Q264.35 54.3 266.96 59.48" stroke="#dcbeb6" stroke-width="0.9" fill="none"/>
<path d="M266.73 59.25 Q271.31 60.55 271.61 65.29" stroke="#c49a8a" stroke-width="0.9" fill="none"/>
<path d="M271.16 64.6 Q272.48 69.63 275.48 73.88" stroke="#c89e94" stroke-width="0.9" fill="none"/>
<path d="M273.84 69.44 Q276.98 72.01 276 75.94" stroke="#cecece" stroke-width="0.9" fill="none"/>
<path d="M276.29 77.36 Q275.53 81.78 276.67 86.12" stroke="#cecece" stroke-width="0.9" fill="none"/>
<path d="M278.77 84.63 Q280.89 90.43 276.77 95.03" stroke="#dcbeb6" stroke-width="0.9" fill="none"/>
<path d="M277.69 92.02 Q278.17 96.64 274.71 99.74" stroke="#c49a8a" stroke-width="0.9" fill="none"/>
<path d="M275.51 98.13 Q272.89 100.91 271.68 104.53" stroke="#d4c2a2" stroke-width="0.9" fill="none"/>
<path d="M273.23 102.28 Q272.76 107.12 268.12 108.58" stroke="#bebebe" stroke-width="0.9" fill="none"/>
<path d="M267.55 109.12 Q264.71 113.42 259.72 114.68" stroke="#b4b8c4" stroke-width="0.9" fill="none"/>
<path d="M262.41 113.12 Q259.36 117.94 253.71 117.14" stroke="#dcbeb6" stroke-width="0.9" fill="none"/>
<path d="M254.93 116.74 Q250.85 121.04 245.43 118.64" stroke="#b4b8c4" stroke-width="0.9" fill="none"/>
<path d="M248.23 118.36 Q243.44 117.61 238.66 118.4" stroke="#bebebe" stroke-width="0.9" fill="none"/>
<path d="M240.38 118.58 Q234.51 120.91 230.28 116.22" stroke="#c49a8a" stroke-width="0.9" fill="none"/>
<path d="M232.78 117.11 Q230.07 114.1 226.02 114.21" stroke="#d8b2ac" stroke-width="0.9" fill="none"/>
<path d="M227.01 114.74 Q222.53 114.75 220.76 110.63" stroke="#d0ac9e" stroke-width="0.9" fill="none"/>
<path d="M221.07 110.88 Q215.25 108.95 213.83 102.99" stroke="#dcbeb6" stroke-width="0.9" fill="none"/>
<path d="M216.5 106.48 Q211.36 104.48 211.5 98.97" stroke="#dcbeb6" stroke-width="0.9" fill="none"/>
<path d="M212.03 100 Q206.83 96.68 208.62 90.78" stroke="#dcbeb6" stroke-width="0.9" fill="none"/>
<path d="M209.33 93.52 Q209.64 88.71 207.82 84.24" stroke="#d0ac9e" stroke-width="0.9" fill="none"/>
<path d="M208.19 88.48 Q204.31 84.15 207.98 79.65" stroke="#d0ac9e" stroke-width="0.9" fill="none"/>
<path d="M207.95 79.93 Q206.59 75.11 209.85 71.31" stroke="#bebebe" stroke-width="0.9" fill="none"/>
<path d="M209.53 72.26 Q212.52 68.11 213.98 63.19" stroke="#cecece" stroke-width="0.9" fill="none"/>
<path d="M211.53 67.35 Q211.76 62.78 215.84 60.7" stroke="#b4b8c4" stroke-width="0.9" fill="none"/>
<path d="M215.85 60.69 Q219.2 59.44 220.4 56.07" stroke="#d0ac9e" stroke-width="0.9" fill="none"/>
<path d="M221.01 55.57 Q223.9 50.64 229.61 50.45" stroke="#cecece" stroke-width="0.9" fill="none"/>
<path d="M226.84 51.75 Q229.98 47.16 235.36 48.6" stroke="#d4c2a2" stroke-width="0.9" fill="none"/>
<path d="M234.91 48.7 Q239.94 46.17 245.34 47.76" stroke="#c49a8a" stroke-width="0.9" fill="none"/>
<path d="M240.88 47.78 Q244.99 49.83 249.29 48.21" stroke="#c89e94" stroke-width="0.9" fill="none"/>
<path d="M247.45 47.94 Q251.47 46.8 254.62 49.55" stroke="#c89e94" stroke-width="0.9" fill="none"/>
<path d="M254.01 49.35 Q258.99 49.65 262.41 53.28" stroke="#c49a8a" stroke-width="0.9" fill="none"/>
<path d="M261.91 52.97 Q263.57 56.62 267.53 57.25" stroke="#dcbeb6" stroke-width="0.9" fill="none"/>
<path d="M268.88 58.59 Q271.37 63.12 274.86 66.94" stroke="#d4c2a2" stroke-width="0.9" fill="none"/>
<path d="M271.44 61.56 Q272.12 65.81 275.56 68.39" stroke="#d0ac9e" stroke-width="0.9" fill="none"/>
<path d="M275.54 68.35 Q275.72 72.71 278.13 76.35" stroke="#c49a8a" stroke-width="0.9" fill="none"/>
<path d="M278.17 76.53 Q282.15 79.82 278.8 83.75" stroke="#cecece" stroke-width="0.9" fill="none"/><circle cx="274.74" cy="83.15" r="0.85" fill="#4a3e44" />
<circle cx="275.5" cy="87.66" r="0.85" fill="#4a3e44" />
<circle cx="272.56" cy="94.98" r="0.85" fill="#4a3e44" />
<circle cx="270.53" cy="104.56" r="0.85" fill="#4a3e44" />
<circle cx="264.47" cy="111.63" r="0.85" fill="#4a3e44" />
<circle cx="254.29" cy="116.33" r="0.85" fill="#4a3e44" />
<circle cx="248.3" cy="115.63" r="0.85" fill="#4a3e44" />
<circle cx="242.85" cy="116.56" r="0.85" fill="#4a3e44" />
<circle cx="226.64" cy="109.52" r="0.85" fill="#4a3e44" />
<circle cx="222.76" cy="107.68" r="0.85" fill="#4a3e44" />
<circle cx="213.15" cy="101.01" r="0.85" fill="#4a3e44" />
<circle cx="213.32" cy="95.37" r="0.85" fill="#4a3e44" />
<circle cx="209.18" cy="91.08" r="0.85" fill="#4a3e44" />
<circle cx="209.53" cy="85.71" r="0.85" fill="#4a3e44" />
<circle cx="210.81" cy="76.27" r="0.85" fill="#4a3e44" />
<circle cx="217.94" cy="63.49" r="0.85" fill="#4a3e44" />
<circle cx="220.88" cy="56.04" r="0.85" fill="#4a3e44" />
<circle cx="226.88" cy="54.58" r="0.85" fill="#4a3e44" />
<circle cx="235.92" cy="52.07" r="0.85" fill="#4a3e44" />
<circle cx="242.55" cy="48.53" r="0.85" fill="#4a3e44" />
<circle cx="250.03" cy="49.33" r="0.85" fill="#4a3e44" />
<circle cx="265.21" cy="60.53" r="0.85" fill="#4a3e44" />
<circle cx="266.11" cy="61.58" r="0.85" fill="#4a3e44" />
<circle cx="270.13" cy="66.28" r="0.85" fill="#4a3e44" />
<circle cx="273.07" cy="72.75" r="0.85" fill="#4a3e44" />
<circle cx="277.15" cy="76.7" r="0.85" fill="#4a3e44" />
<circle cx="268.78" cy="84.11" r="0.8" fill="#54464c" />
<circle cx="253.28" cy="106.67" r="0.8" fill="#54464c" />
<circle cx="238.65" cy="108.27" r="0.8" fill="#54464c" />
<circle cx="226.77" cy="102.61" r="0.8" fill="#54464c" />
<circle cx="221.98" cy="97.19" r="0.8" fill="#54464c" />
<circle cx="272.78" cy="82.1" r="0.8" fill="#54464c" />
<circle cx="258.95" cy="108.21" r="0.8" fill="#54464c" />
<circle cx="220.99" cy="63.89" r="0.8" fill="#54464c" />
<circle cx="240.65" cy="53.82" r="0.8" fill="#54464c" />
<circle cx="269.85" cy="70.34" r="0.8" fill="#54464c" />
<circle cx="232.21" cy="114.81" r="0.8" fill="#54464c" />
<circle cx="213.37" cy="98.25" r="0.8" fill="#54464c" />
<circle cx="221.87" cy="57.45" r="0.8" fill="#54464c" />
<circle cx="273.84" cy="69.44" r="0.8" fill="#54464c" />
<circle cx="278.77" cy="84.63" r="0.8" fill="#54464c" />
<circle cx="275.51" cy="98.13" r="0.8" fill="#54464c" />
<circle cx="267.55" cy="109.12" r="0.8" fill="#54464c" />
<circle cx="240.38" cy="118.58" r="0.8" fill="#54464c" />
<circle cx="221.07" cy="110.88" r="0.8" fill="#54464c" />
<circle cx="216.5" cy="106.48" r="0.8" fill="#54464c" />
<circle cx="209.53" cy="72.26" r="0.8" fill="#54464c" />
<circle cx="221.01" cy="55.57" r="0.8" fill="#54464c" />
<circle cx="234.91" cy="48.7" r="0.8" fill="#54464c" />
<circle cx="271.44" cy="61.56" r="0.8" fill="#54464c" />
<circle cx="278.17" cy="76.53" r="0.8" fill="#54464c" /></g>
<g filter="url(#soft)"><circle cx="243.3" cy="83.2" r="21" fill="url(#gsph)"/>
<path d="M231.76 85.93 q-1.59 1.47 -1.27 0.41 M256.93 83.75 q1.75 -1.68 3.08 1.67 M229.12 78.17 q-2.02 -0.48 -1.83 1.19 M239.56 70.78 q0.99 -1.37 2.09 1.55 M243.82 90.11 q0.03 1.7 0.84 0.32 M229.15 74.16 q-0.51 0.98 0.13 0.61 M251.78 89.5 q0.77 0.9 1.8 0.64 M237.74 86.18 q-1.03 -1.16 -0.53 1.46 M239.96 100.03 q-1.32 1.55 -0.92 0.38 M247.15 79.55 q-0.53 -0.03 0.11 1.01 M255.76 85.05 q1.79 -1.55 3.12 1.62 M237.41 79.09 q0.35 1.58 1.25 0.37 M244.3 86.48 q-1.83 0.16 -1.58 0.94 M249.49 83.88 q-0.01 1.68 0.78 0.33 M232.59 89.08 q0.61 -1.63 1.59 1.65 M235.98 79.19 q0.48 1.83 1.42 0.27 M256.78 87.98 q0.47 -1.4 1.41 1.56 M241.12 102.04 q2.19 -1.51 3.65 1.61 M238.18 65.37 q-1.16 0.44 -0.71 0.82 M254.62 86.34 q0.77 0.36 1.8 0.86" stroke="#2a7444" stroke-width="1.25" fill="none" opacity="0.85" stroke-linecap="round"/>
<circle cx="243.3" cy="83.2" r="21" fill="url(#gshade)"/>
<circle cx="243.3" cy="83.2" r="21" fill="url(#gshade2)"/>
<path d="M246.23 64.43 Q241.77 86.84 251.66 99.14 M226.89 73.62 Q242.32 88.06 260.34 89.01 M226.34 74.63 Q246.29 81.49 260.73 78.71 M225.93 90.9 Q242.74 81.45 254.45 69.07 M259.42 93.26 Q239.33 86.04 228.16 73.46 M262.06 86.22 Q246.38 83.17 226.42 76.95 M238.51 64.81 Q245.68 82.45 254.87 96.98 M245.57 102.06 Q242.31 81.93 248.54 65.98 M255.4 68.55 Q244.98 79.91 236.42 99.83" stroke="#c8d8a8" stroke-width="0.8" fill="none" opacity="0.32"/></g>
<text x="268.4" y="50.09" font-size="10.3" font-weight="bold" fill="#000">K<tspan font-size="5.2" dy="0.2">4</tspan><tspan dy="-0.2">[Fe(CN)</tspan><tspan font-size="5.2" dy="0.2">6</tspan><tspan dy="-0.2">]</tspan></text>
<text x="287.3" y="68.84" font-size="9.6" font-weight="bold" fill="#000">Fe<tspan font-size="5.2" dy="-3.4" dx="0.4">3+</tspan></text>
<line x1="283.3" y1="80.7" x2="301.8" y2="80.7" stroke="#000" stroke-width="1.4" /><path d="M303.8 80.7 L300.6 79.25 L300.6 82.15 Z" fill="#000"/>
<g filter="url(#soft)"><circle cx="347.0" cy="82.5" r="37.0" fill="url(#bout)"/>
<path d="M369 82.5 L382.48 83.56 M368.92 84.42 L382.26 86.65 M368.67 86.32 L381.76 89.71 M368.25 88.19 L381 92.71 M367.67 90.02 L379.98 95.64 M366.94 91.8 L378.71 98.46 M366.05 93.5 L377.2 101.16 M365.02 95.12 L375.46 103.73 M363.85 96.64 L373.5 106.12 M362.56 98.06 L371.34 108.34 M361.14 99.35 L368.99 110.37 M359.62 100.52 L366.48 112.18 M358 101.55 L363.82 113.76 M356.3 102.44 L361.03 115.11 M354.52 103.17 L358.14 116.21 M352.69 103.75 L355.16 117.05 M350.82 104.17 L352.11 117.63 M348.92 104.42 L349.03 117.94 M347 104.5 L345.94 117.98 M345.08 104.42 L342.85 117.76 M343.18 104.17 L339.79 117.26 M341.31 103.75 L336.79 116.5 M339.48 103.17 L333.86 115.48 M337.7 102.44 L331.04 114.21 M336 101.55 L328.34 112.7 M334.38 100.52 L325.77 110.96 M332.86 99.35 L323.38 109 M331.44 98.06 L321.16 106.84 M330.15 96.64 L319.13 104.49 M328.98 95.12 L317.32 101.98 M327.95 93.5 L315.74 99.32 M327.06 91.8 L314.39 96.53 M326.33 90.02 L313.29 93.64 M325.75 88.19 L312.45 90.66 M325.33 86.32 L311.87 87.61 M325.08 84.42 L311.56 84.53 M325 82.5 L311.52 81.44 M325.08 80.58 L311.74 78.35 M325.33 78.68 L312.24 75.29 M325.75 76.81 L313 72.29 M326.33 74.98 L314.02 69.36 M327.06 73.2 L315.29 66.54 M327.95 71.5 L316.8 63.84 M328.98 69.88 L318.54 61.27 M330.15 68.36 L320.5 58.88 M331.44 66.94 L322.66 56.66 M332.86 65.65 L325.01 54.63 M334.38 64.48 L327.52 52.82 M336 63.45 L330.18 51.24 M337.7 62.56 L332.97 49.89 M339.48 61.83 L335.86 48.79 M341.31 61.25 L338.84 47.95 M343.18 60.83 L341.89 47.37 M345.08 60.58 L344.97 47.06 M347 60.5 L348.06 47.02 M348.92 60.58 L351.15 47.24 M350.82 60.83 L354.21 47.74 M352.69 61.25 L357.21 48.5 M354.52 61.83 L360.14 49.52 M356.3 62.56 L362.96 50.79 M358 63.45 L365.66 52.3 M359.62 64.48 L368.23 54.04 M361.14 65.65 L370.62 56 M362.56 66.94 L372.84 58.16 M363.85 68.36 L374.87 60.51 M365.02 69.88 L376.68 63.02 M366.05 71.5 L378.26 65.68 M366.94 73.2 L379.61 68.47 M367.67 74.98 L380.71 71.36 M368.25 76.81 L381.55 74.34 M368.67 78.68 L382.13 77.39 M368.92 80.58 L382.44 80.47" stroke="#6a6fe0" stroke-width="0.8" opacity="0.55" fill="none"/>
<circle cx="347.0" cy="82.5" r="24.5" fill="none" stroke="#6a70ee" stroke-width="3.2" stroke-dasharray="1.8 2.1" opacity="0.45"/>
<circle cx="347.0" cy="82.5" r="28.6" fill="none" stroke="#2c2e96" stroke-width="1.6" stroke-dasharray="2.2 1.6" opacity="0.6"/>
<circle cx="347.0" cy="82.5" r="32.5" fill="none" stroke="#686cea" stroke-width="3.4" stroke-dasharray="2.3 2.4" opacity="0.4"/>
<circle cx="347.0" cy="82.5" r="37.0" fill="url(#bshade)"/>
<circle cx="347.3" cy="83" r="20.3" fill="url(#bin)"/></g>
<text x="43.1" y="134.7" font-size="12" font-weight="bold" text-anchor="middle" fill="#000" >DCNPs</text>
<text x="139.2" y="134.9" font-size="12" font-weight="bold" text-anchor="middle" fill="#000" >DCNP@PVP</text>
<text x="243.4" y="135.3" font-size="12" font-weight="bold" text-anchor="middle" fill="#000" >DCNP@PAA</text>
<text x="347.6" y="135.3" font-size="12" font-weight="bold" text-anchor="middle" fill="#000" >DCNP@PB</text>
</g>
<g id="panel_b">
<text x="392.3" y="22.7" font-size="21.5" font-weight="bold" text-anchor="middle" fill="#000" >B</text>
<g clip-path="url(#clipB)"><rect x="404.8" y="11.2" width="163.9" height="155.6" fill="#a1a1a1"/>
<ellipse cx="430.4" cy="27" rx="9" ry="12" fill="#c2c2c2" opacity="0.9" filter="url(#soft3)"/>
<ellipse cx="470" cy="49.6" rx="10" ry="9" fill="#c8c8c8" opacity="0.95" filter="url(#soft3)"/>
<ellipse cx="552" cy="45" rx="14" ry="12" fill="#adadad" opacity="0.8" filter="url(#soft3)"/>
<ellipse cx="545" cy="125" rx="28" ry="20" fill="#a6a6a6" opacity="0.8" filter="url(#soft3)"/>
<ellipse cx="430" cy="140" rx="26" ry="8" fill="#9a9a9a" opacity="0.8" filter="url(#soft3)"/>
<ellipse cx="562" cy="30" rx="6" ry="16" fill="#b2b2b2" opacity="0.8" filter="url(#soft3)"/>
<g filter="url(#soft)"><polygon points="478.39,4.59 471.93,14.59 460.04,14 454.61,3.41 461.07,-6.59 472.96,-6" fill="#3a3a3a" stroke="#b8b8b8" stroke-width="1.1" stroke-linejoin="round"/>
<ellipse cx="462.3" cy="4.8" rx="4.6" ry="7" fill="#1e1e1e" opacity="0.55" filter="url(#soft2)"/>
<ellipse cx="470.5" cy="2.5" rx="4" ry="5.5" fill="#505050" opacity="0.45" filter="url(#soft2)"/>
<polygon points="424.89,17.29 418.43,27.29 406.54,26.7 401.11,16.11 407.57,6.11 419.46,6.7" fill="#6a6a6a" stroke="#b8b8b8" stroke-width="1.1" stroke-linejoin="round"/>
<ellipse cx="408.8" cy="17.5" rx="4.6" ry="7" fill="#4e4e4e" opacity="0.55" filter="url(#soft2)"/>
<ellipse cx="417" cy="15.2" rx="4" ry="5.5" fill="#808080" opacity="0.45" filter="url(#soft2)"/>
<polygon points="425.89,37.99 419.43,47.99 407.54,47.4 402.11,36.81 408.57,26.81 420.46,27.4" fill="#2c2c2c" stroke="#b8b8b8" stroke-width="1.1" stroke-linejoin="round"/>
<ellipse cx="409.8" cy="38.2" rx="4.6" ry="7" fill="#101010" opacity="0.55" filter="url(#soft2)"/>
<ellipse cx="418" cy="35.9" rx="4" ry="5.5" fill="#424242" opacity="0.45" filter="url(#soft2)"/>
<polygon points="459.69,21.19 453.23,31.19 441.34,30.6 435.91,20.01 442.37,10.01 454.26,10.6" fill="#606060" stroke="#b8b8b8" stroke-width="1.1" stroke-linejoin="round"/>
<ellipse cx="443.6" cy="21.4" rx="4.6" ry="7" fill="#444444" opacity="0.55" filter="url(#soft2)"/>
<ellipse cx="451.8" cy="19.1" rx="4" ry="5.5" fill="#767676" opacity="0.45" filter="url(#soft2)"/>
<polygon points="480.39,28.09 473.93,38.09 462.04,37.5 456.61,26.91 463.07,16.91 474.96,17.5" fill="#5a5a5a" stroke="#b8b8b8" stroke-width="1.1" stroke-linejoin="round"/>
<ellipse cx="464.3" cy="28.3" rx="4.6" ry="7" fill="#3e3e3e" opacity="0.55" filter="url(#soft2)"/>
<ellipse cx="472.5" cy="26" rx="4" ry="5.5" fill="#707070" opacity="0.45" filter="url(#soft2)"/>
<polygon points="496.49,16.79 490.03,26.79 478.14,26.2 472.71,15.61 479.17,5.61 491.06,6.2" fill="#343434" stroke="#b8b8b8" stroke-width="1.1" stroke-linejoin="round"/>
<ellipse cx="480.4" cy="17" rx="4.6" ry="7" fill="#181818" opacity="0.55" filter="url(#soft2)"/>
<ellipse cx="488.6" cy="14.7" rx="4" ry="5.5" fill="#4a4a4a" opacity="0.45" filter="url(#soft2)"/>
<polygon points="462.19,40.39 455.73,50.39 443.84,49.8 438.41,39.21 444.87,29.21 456.76,29.8" fill="#424242" stroke="#b8b8b8" stroke-width="1.1" stroke-linejoin="round"/>
<ellipse cx="446.1" cy="40.6" rx="4.6" ry="7" fill="#262626" opacity="0.55" filter="url(#soft2)"/>
<ellipse cx="454.3" cy="38.3" rx="4" ry="5.5" fill="#585858" opacity="0.45" filter="url(#soft2)"/>
<polygon points="442.49,49.79 436.03,59.79 424.14,59.2 418.71,48.61 425.17,38.61 437.06,39.2" fill="#5c5c5c" stroke="#b8b8b8" stroke-width="1.1" stroke-linejoin="round"/>
<ellipse cx="426.4" cy="50" rx="4.6" ry="7" fill="#404040" opacity="0.55" filter="url(#soft2)"/>
<ellipse cx="434.6" cy="47.7" rx="4" ry="5.5" fill="#727272" opacity="0.45" filter="url(#soft2)"/>
<polygon points="424.29,60.19 417.83,70.19 405.94,69.6 400.51,59.01 406.97,49.01 418.86,49.6" fill="#343434" stroke="#b8b8b8" stroke-width="1.1" stroke-linejoin="round"/>
<ellipse cx="408.2" cy="60.4" rx="4.6" ry="7" fill="#181818" opacity="0.55" filter="url(#soft2)"/>
<ellipse cx="416.4" cy="58.1" rx="4" ry="5.5" fill="#4a4a4a" opacity="0.45" filter="url(#soft2)"/>
<polygon points="498.09,42.59 491.63,52.59 479.74,52 474.31,41.41 480.77,31.41 492.66,32" fill="#565656" stroke="#b8b8b8" stroke-width="1.1" stroke-linejoin="round"/>
<ellipse cx="482" cy="42.8" rx="4.6" ry="7" fill="#3a3a3a" opacity="0.55" filter="url(#soft2)"/>
<ellipse cx="490.2" cy="40.5" rx="4" ry="5.5" fill="#6c6c6c" opacity="0.45" filter="url(#soft2)"/>
<polygon points="461.89,62.39 455.43,72.39 443.54,71.8 438.11,61.21 444.57,51.21 456.46,51.8" fill="#585858" stroke="#b8b8b8" stroke-width="1.1" stroke-linejoin="round"/>
<ellipse cx="445.8" cy="62.6" rx="4.6" ry="7" fill="#3c3c3c" opacity="0.55" filter="url(#soft2)"/>
<ellipse cx="454" cy="60.3" rx="4" ry="5.5" fill="#6e6e6e" opacity="0.45" filter="url(#soft2)"/>
<polygon points="443.49,70.89 437.03,80.89 425.14,80.3 419.71,69.71 426.17,59.71 438.06,60.3" fill="#323232" stroke="#b8b8b8" stroke-width="1.1" stroke-linejoin="round"/>
<ellipse cx="427.4" cy="71.1" rx="4.6" ry="7" fill="#161616" opacity="0.55" filter="url(#soft2)"/>
<ellipse cx="435.6" cy="68.8" rx="4" ry="5.5" fill="#484848" opacity="0.45" filter="url(#soft2)"/>
<polygon points="482.29,72.79 475.83,82.79 463.94,82.2 458.51,71.61 464.97,61.61 476.86,62.2" fill="#525252" stroke="#b8b8b8" stroke-width="1.1" stroke-linejoin="round"/>
<ellipse cx="466.2" cy="73" rx="4.6" ry="7" fill="#363636" opacity="0.55" filter="url(#soft2)"/>
<ellipse cx="474.4" cy="70.7" rx="4" ry="5.5" fill="#686868" opacity="0.45" filter="url(#soft2)"/>
<polygon points="425.29,81.19 418.83,91.19 406.94,90.6 401.51,80.01 407.97,70.01 419.86,70.6" fill="#303030" stroke="#b8b8b8" stroke-width="1.1" stroke-linejoin="round"/>
<ellipse cx="409.2" cy="81.4" rx="4.6" ry="7" fill="#141414" opacity="0.55" filter="url(#soft2)"/>
<ellipse cx="417.4" cy="79.1" rx="4" ry="5.5" fill="#464646" opacity="0.45" filter="url(#soft2)"/>
<polygon points="461.89,83.09 455.43,93.09 443.54,92.5 438.11,81.91 444.57,71.91 456.46,72.5" fill="#525252" stroke="#b8b8b8" stroke-width="1.1" stroke-linejoin="round"/>
<ellipse cx="445.8" cy="83.3" rx="4.6" ry="7" fill="#363636" opacity="0.55" filter="url(#soft2)"/>
<ellipse cx="454" cy="81" rx="4" ry="5.5" fill="#686868" opacity="0.45" filter="url(#soft2)"/>
<polygon points="499.89,61.99 493.43,71.99 481.54,71.4 476.11,60.81 482.57,50.81 494.46,51.4" fill="#545454" stroke="#b8b8b8" stroke-width="1.1" stroke-linejoin="round"/>
<ellipse cx="483.8" cy="62.2" rx="4.6" ry="7" fill="#383838" opacity="0.55" filter="url(#soft2)"/>
<ellipse cx="492" cy="59.9" rx="4" ry="5.5" fill="#6a6a6a" opacity="0.45" filter="url(#soft2)"/>
<polygon points="517.29,30.19 510.83,40.19 498.94,39.6 493.51,29.01 499.97,19.01 511.86,19.6" fill="#424242" stroke="#b8b8b8" stroke-width="1.1" stroke-linejoin="round"/>
<ellipse cx="501.2" cy="30.4" rx="4.6" ry="7" fill="#262626" opacity="0.55" filter="url(#soft2)"/>
<ellipse cx="509.4" cy="28.1" rx="4" ry="5.5" fill="#585858" opacity="0.45" filter="url(#soft2)"/>
<polygon points="534.09,18.39 527.63,28.39 515.74,27.8 510.31,17.21 516.77,7.21 528.66,7.8" fill="#525252" stroke="#b8b8b8" stroke-width="1.1" stroke-linejoin="round"/>
<ellipse cx="518" cy="18.6" rx="4.6" ry="7" fill="#363636" opacity="0.55" filter="url(#soft2)"/>
<ellipse cx="526.2" cy="16.3" rx="4" ry="5.5" fill="#686868" opacity="0.45" filter="url(#soft2)"/>
<polygon points="556.29,23.59 549.83,33.59 537.94,33 532.51,22.41 538.97,12.41 550.86,13" fill="#404040" stroke="#b8b8b8" stroke-width="1.1" stroke-linejoin="round"/>
<ellipse cx="540.2" cy="23.8" rx="4.6" ry="7" fill="#242424" opacity="0.55" filter="url(#soft2)"/>
<ellipse cx="548.4" cy="21.5" rx="4" ry="5.5" fill="#565656" opacity="0.45" filter="url(#soft2)"/>
<polygon points="537.49,38.39 531.03,48.39 519.14,47.8 513.71,37.21 520.17,27.21 532.06,27.8" fill="#303030" stroke="#b8b8b8" stroke-width="1.1" stroke-linejoin="round"/>
<ellipse cx="521.4" cy="38.6" rx="4.6" ry="7" fill="#141414" opacity="0.55" filter="url(#soft2)"/>
<ellipse cx="529.6" cy="36.3" rx="4" ry="5.5" fill="#464646" opacity="0.45" filter="url(#soft2)"/>
<polygon points="518.39,49.19 511.93,59.19 500.04,58.6 494.61,48.01 501.07,38.01 512.96,38.6" fill="#5a5a5a" stroke="#b8b8b8" stroke-width="1.1" stroke-linejoin="round"/>
<ellipse cx="502.3" cy="49.4" rx="4.6" ry="7" fill="#3e3e3e" opacity="0.55" filter="url(#soft2)"/>
<ellipse cx="510.5" cy="47.1" rx="4" ry="5.5" fill="#707070" opacity="0.45" filter="url(#soft2)"/>
<polygon points="537.89,58.99 531.43,68.99 519.54,68.4 514.11,57.81 520.57,47.81 532.46,48.4" fill="#525252" stroke="#b8b8b8" stroke-width="1.1" stroke-linejoin="round"/>
<ellipse cx="521.8" cy="59.2" rx="4.6" ry="7" fill="#363636" opacity="0.55" filter="url(#soft2)"/>
<ellipse cx="530" cy="56.9" rx="4" ry="5.5" fill="#686868" opacity="0.45" filter="url(#soft2)"/>
<polygon points="559.29,68.99 552.83,78.99 540.94,78.4 535.51,67.81 541.97,57.81 553.86,58.4" fill="#424242" stroke="#b8b8b8" stroke-width="1.1" stroke-linejoin="round"/>
<ellipse cx="543.2" cy="69.2" rx="4.6" ry="7" fill="#262626" opacity="0.55" filter="url(#soft2)"/>
<ellipse cx="551.4" cy="66.9" rx="4" ry="5.5" fill="#585858" opacity="0.45" filter="url(#soft2)"/>
<polygon points="573.69,56.09 567.23,66.09 555.34,65.5 549.91,54.91 556.37,44.91 568.26,45.5" fill="#6a6a6a" stroke="#b8b8b8" stroke-width="1.1" stroke-linejoin="round"/>
<ellipse cx="557.6" cy="56.3" rx="4.6" ry="7" fill="#4e4e4e" opacity="0.55" filter="url(#soft2)"/>
<ellipse cx="565.8" cy="54" rx="4" ry="5.5" fill="#808080" opacity="0.45" filter="url(#soft2)"/>
<polygon points="519.89,70.89 513.43,80.89 501.54,80.3 496.11,69.71 502.57,59.71 514.46,60.3" fill="#505050" stroke="#b8b8b8" stroke-width="1.1" stroke-linejoin="round"/>
<ellipse cx="503.8" cy="71.1" rx="4.6" ry="7" fill="#343434" opacity="0.55" filter="url(#soft2)"/>
<ellipse cx="512" cy="68.8" rx="4" ry="5.5" fill="#666666" opacity="0.45" filter="url(#soft2)"/>
<polygon points="539.39,80.79 532.93,90.79 521.04,90.2 515.61,79.61 522.07,69.61 533.96,70.2" fill="#5a5a5a" stroke="#b8b8b8" stroke-width="1.1" stroke-linejoin="round"/>
<ellipse cx="523.3" cy="81" rx="4.6" ry="7" fill="#3e3e3e" opacity="0.55" filter="url(#soft2)"/>
<ellipse cx="531.5" cy="78.7" rx="4" ry="5.5" fill="#707070" opacity="0.45" filter="url(#soft2)"/>
<polygon points="501.39,82.99 494.93,92.99 483.04,92.4 477.61,81.81 484.07,71.81 495.96,72.4" fill="#4c4c4c" stroke="#b8b8b8" stroke-width="1.1" stroke-linejoin="round"/>
<ellipse cx="485.3" cy="83.2" rx="4.6" ry="7" fill="#303030" opacity="0.55" filter="url(#soft2)"/>
<ellipse cx="493.5" cy="80.9" rx="4" ry="5.5" fill="#626262" opacity="0.45" filter="url(#soft2)"/>
<polygon points="575.19,80.59 568.73,90.59 556.84,90 551.41,79.41 557.87,69.41 569.76,70" fill="#5c5c5c" stroke="#b8b8b8" stroke-width="1.1" stroke-linejoin="round"/>
<ellipse cx="559.1" cy="80.8" rx="4.6" ry="7" fill="#404040" opacity="0.55" filter="url(#soft2)"/>
<ellipse cx="567.3" cy="78.5" rx="4" ry="5.5" fill="#727272" opacity="0.45" filter="url(#soft2)"/>
<polygon points="559.69,91.19 553.23,101.19 541.34,100.6 535.91,90.01 542.37,80.01 554.26,80.6" fill="#525252" stroke="#b8b8b8" stroke-width="1.1" stroke-linejoin="round"/>
<ellipse cx="543.6" cy="91.4" rx="4.6" ry="7" fill="#363636" opacity="0.55" filter="url(#soft2)"/>
<ellipse cx="551.8" cy="89.1" rx="4" ry="5.5" fill="#686868" opacity="0.45" filter="url(#soft2)"/>
<polygon points="441.89,95.39 435.43,105.39 423.54,104.8 418.11,94.21 424.57,84.21 436.46,84.8" fill="#6a6a6a" stroke="#b8b8b8" stroke-width="1.1" stroke-linejoin="round"/>
<ellipse cx="425.8" cy="95.6" rx="4.6" ry="7" fill="#4e4e4e" opacity="0.55" filter="url(#soft2)"/>
<ellipse cx="434" cy="93.3" rx="4" ry="5.5" fill="#808080" opacity="0.45" filter="url(#soft2)"/>
<polygon points="421.99,107.09 415.53,117.09 403.64,116.5 398.21,105.91 404.67,95.91 416.56,96.5" fill="#6c6c6c" stroke="#b8b8b8" stroke-width="1.1" stroke-linejoin="round"/>
<ellipse cx="405.9" cy="107.3" rx="4.6" ry="7" fill="#505050" opacity="0.55" filter="url(#soft2)"/>
<ellipse cx="414.1" cy="105" rx="4" ry="5.5" fill="#828282" opacity="0.45" filter="url(#soft2)"/>
<polygon points="464.09,104.99 457.63,114.99 445.74,114.4 440.31,103.81 446.77,93.81 458.66,94.4" fill="#525252" stroke="#b8b8b8" stroke-width="1.1" stroke-linejoin="round"/>
<ellipse cx="448" cy="105.2" rx="4.6" ry="7" fill="#363636" opacity="0.55" filter="url(#soft2)"/>
<ellipse cx="456.2" cy="102.9" rx="4" ry="5.5" fill="#686868" opacity="0.45" filter="url(#soft2)"/>
<polygon points="483.29,94.59 476.83,104.59 464.94,104 459.51,93.41 465.97,83.41 477.86,84" fill="#525252" stroke="#b8b8b8" stroke-width="1.1" stroke-linejoin="round"/>
<ellipse cx="467.2" cy="94.8" rx="4.6" ry="7" fill="#363636" opacity="0.55" filter="url(#soft2)"/>
<ellipse cx="475.4" cy="92.5" rx="4" ry="5.5" fill="#686868" opacity="0.45" filter="url(#soft2)"/>
<polygon points="442.39,118.59 435.93,128.59 424.04,128 418.61,117.41 425.07,107.41 436.96,108" fill="#444444" stroke="#b8b8b8" stroke-width="1.1" stroke-linejoin="round"/>
<ellipse cx="426.3" cy="118.8" rx="4.6" ry="7" fill="#282828" opacity="0.55" filter="url(#soft2)"/>
<ellipse cx="434.5" cy="116.5" rx="4" ry="5.5" fill="#5a5a5a" opacity="0.45" filter="url(#soft2)"/>
<polygon points="484.79,114.09 478.33,124.09 466.44,123.5 461.01,112.91 467.47,102.91 479.36,103.5" fill="#4a4a4a" stroke="#b8b8b8" stroke-width="1.1" stroke-linejoin="round"/>
<ellipse cx="468.7" cy="114.3" rx="4.6" ry="7" fill="#2e2e2e" opacity="0.55" filter="url(#soft2)"/>
<ellipse cx="476.9" cy="112" rx="4" ry="5.5" fill="#606060" opacity="0.45" filter="url(#soft2)"/>
<polygon points="464.09,127.39 457.63,137.39 445.74,136.8 440.31,126.21 446.77,116.21 458.66,116.8" fill="#4a4a4a" stroke="#b8b8b8" stroke-width="1.1" stroke-linejoin="round"/>
<ellipse cx="448" cy="127.6" rx="4.6" ry="7" fill="#2e2e2e" opacity="0.55" filter="url(#soft2)"/>
<ellipse cx="456.2" cy="125.3" rx="4" ry="5.5" fill="#606060" opacity="0.45" filter="url(#soft2)"/>
<polygon points="483.29,133.99 476.83,143.99 464.94,143.4 459.51,132.81 465.97,122.81 477.86,123.4" fill="#424242" stroke="#b8b8b8" stroke-width="1.1" stroke-linejoin="round"/>
<ellipse cx="467.2" cy="134.2" rx="4.6" ry="7" fill="#262626" opacity="0.55" filter="url(#soft2)"/>
<ellipse cx="475.4" cy="131.9" rx="4" ry="5.5" fill="#585858" opacity="0.45" filter="url(#soft2)"/>
<polygon points="520.59,93.89 514.13,103.89 502.24,103.3 496.81,92.71 503.27,82.71 515.16,83.3" fill="#525252" stroke="#b8b8b8" stroke-width="1.1" stroke-linejoin="round"/>
<ellipse cx="504.5" cy="94.1" rx="4.6" ry="7" fill="#363636" opacity="0.55" filter="url(#soft2)"/>
<ellipse cx="512.7" cy="91.8" rx="4" ry="5.5" fill="#686868" opacity="0.45" filter="url(#soft2)"/>
<polygon points="502.89,105.29 496.43,115.29 484.54,114.7 479.11,104.11 485.57,94.11 497.46,94.7" fill="#4f4f4f" stroke="#b8b8b8" stroke-width="1.1" stroke-linejoin="round"/>
<ellipse cx="486.8" cy="105.5" rx="4.6" ry="7" fill="#333333" opacity="0.55" filter="url(#soft2)"/>
<ellipse cx="495" cy="103.2" rx="4" ry="5.5" fill="#656565" opacity="0.45" filter="url(#soft2)"/>
<polygon points="540.19,101.59 533.73,111.59 521.84,111 516.41,100.41 522.87,90.41 534.76,91" fill="#545454" stroke="#b8b8b8" stroke-width="1.1" stroke-linejoin="round"/>
<ellipse cx="524.1" cy="101.8" rx="4.6" ry="7" fill="#383838" opacity="0.55" filter="url(#soft2)"/>
<ellipse cx="532.3" cy="99.5" rx="4" ry="5.5" fill="#6a6a6a" opacity="0.45" filter="url(#soft2)"/>
<polygon points="576.29,103.39 569.83,113.39 557.94,112.8 552.51,102.21 558.97,92.21 570.86,92.8" fill="#222222" stroke="#b8b8b8" stroke-width="1.1" stroke-linejoin="round"/>
<ellipse cx="560.2" cy="103.6" rx="4.6" ry="7" fill="#101010" opacity="0.55" filter="url(#soft2)"/>
<ellipse cx="568.4" cy="101.3" rx="4" ry="5.5" fill="#383838" opacity="0.45" filter="url(#soft2)"/>
<polygon points="521.69,114.89 515.23,124.89 503.34,124.3 497.91,113.71 504.37,103.71 516.26,104.3" fill="#4a4a4a" stroke="#b8b8b8" stroke-width="1.1" stroke-linejoin="round"/>
<ellipse cx="505.6" cy="115.1" rx="4.6" ry="7" fill="#2e2e2e" opacity="0.55" filter="url(#soft2)"/>
<ellipse cx="513.8" cy="112.8" rx="4" ry="5.5" fill="#606060" opacity="0.45" filter="url(#soft2)"/>
<polygon points="502.09,124.79 495.63,134.79 483.74,134.2 478.31,123.61 484.77,113.61 496.66,114.2" fill="#444444" stroke="#b8b8b8" stroke-width="1.1" stroke-linejoin="round"/>
<ellipse cx="486" cy="125" rx="4.6" ry="7" fill="#282828" opacity="0.55" filter="url(#soft2)"/>
<ellipse cx="494.2" cy="122.7" rx="4" ry="5.5" fill="#5a5a5a" opacity="0.45" filter="url(#soft2)"/>
<polygon points="520.19,135.89 513.73,145.89 501.84,145.3 496.41,134.71 502.87,124.71 514.76,125.3" fill="#3a3a3a" stroke="#b8b8b8" stroke-width="1.1" stroke-linejoin="round"/>
<ellipse cx="504.1" cy="136.1" rx="4.6" ry="7" fill="#1e1e1e" opacity="0.55" filter="url(#soft2)"/>
<ellipse cx="512.3" cy="133.8" rx="4" ry="5.5" fill="#505050" opacity="0.45" filter="url(#soft2)"/>
<polygon points="502.89,145.79 496.43,155.79 484.54,155.2 479.11,144.61 485.57,134.61 497.46,135.2" fill="#242424" stroke="#b8b8b8" stroke-width="1.1" stroke-linejoin="round"/>
<ellipse cx="486.8" cy="146" rx="4.6" ry="7" fill="#101010" opacity="0.55" filter="url(#soft2)"/>
<ellipse cx="495" cy="143.7" rx="4" ry="5.5" fill="#3a3a3a" opacity="0.45" filter="url(#soft2)"/></g>
<rect x="404.8" y="11.2" width="163.9" height="155.6" fill="#fff" filter="url(#grain)" opacity="0.15"/>
<rect x="404.8" y="11.2" width="163.9" height="155.6" fill="#000" filter="url(#grain2)" opacity="0.15"/></g>
<rect x="404.3" y="146.2" width="85.8" height="21.5" fill="#fff"/>
<text x="445.1" y="159.7" font-size="12" font-weight="bold" text-anchor="middle" fill="#000" >200 nm</text>
<line x1="420.1" y1="163.1" x2="469.5" y2="163.1" stroke="#000" stroke-width="1.7" />
<text x="543.2" y="161.4" font-size="12" font-weight="bold" text-anchor="middle" fill="#fff" >DCNPs</text>
</g>
<g id="panel_c">
<text x="583.3" y="21.5" font-size="21.5" font-weight="bold" text-anchor="middle" fill="#000" >C</text>
<g clip-path="url(#clipC)"><rect x="595.4" y="10.5" width="163.0" height="157.3" fill="#a8a8a8"/>
<ellipse cx="625" cy="40" rx="30" ry="30" fill="#b2b2b2" opacity="0.8" filter="url(#soft3)"/>
<ellipse cx="700" cy="140" rx="50" ry="20" fill="#a2a2a2" opacity="0.8" filter="url(#soft3)"/>
<polygon points="678.25,21.61 717.88,62.34 705.11,109.23 666.14,119.58 619.25,79.29 633.12,32.61" fill="#c4c4c4" stroke="#c4c4c4" stroke-width="3.6" stroke-linejoin="round" filter="url(#soft)"/>
<path d="M666.14 119.58 L619.25 79.29 L633.12 32.61 L678.25 21.61 L717.88 62.34" stroke="#e6e6e6" stroke-width="4.6" fill="none" stroke-linejoin="round" stroke-linejoin="round" stroke-linecap="round" filter="url(#soft)"/>
<polygon points="678.25,21.61 717.88,62.34 705.11,109.23 666.14,119.58 619.25,79.29 633.12,32.61" fill="#818181" stroke="#818181" stroke-width="2.2" stroke-linejoin="round" filter="url(#soft)"/>
<polygon points="651.83,37.02 676.05,29.97 683.76,37.02 659.54,43.62" fill="#a2a2a2" filter="url(#soft2)" opacity="0.7"/>
<polygon points="698.07,98.66 704.23,81.05 708.63,83.25 703.57,105.27" fill="#9a9a9a" filter="url(#soft2)" opacity="0.5"/>
<polygon points="675.61,33.05 706.43,64.54 698.51,100.42 666.14,109.67 630.26,78.85 638.62,41.86" fill="#6c6c6c" filter="url(#soft3)" opacity="0.8"/>
<polygon points="673.85,38.78 700.71,66.74 694.98,95.8 666.14,103.51 636.42,77.09 642.58,47.58" fill="#3a3a3a" stroke="#3a3a3a" stroke-width="2.5" stroke-linejoin="round" filter="url(#soft2)"/>
<polygon points="670.55,43.18 690.36,63.88 681.55,85.45 659.54,92.06 638.18,74.89 643.47,50.23" fill="#1c1c1c" filter="url(#soft3)" opacity="0.9"/>
<polygon points="685.96,81.05 694.76,93.16 667.68,102.63 659.54,96.9" fill="#585858" filter="url(#soft3)" opacity="0.55"/>
<rect x="595.4" y="10.5" width="163.0" height="157.3" fill="#fff" filter="url(#grain)" opacity="0.15"/>
<rect x="595.4" y="10.5" width="163.0" height="157.3" fill="#000" filter="url(#grain2)" opacity="0.15"/></g>
<rect x="594.9" y="147.2" width="84.6" height="21.5" fill="#fff"/>
<text x="635.3" y="159.9" font-size="12" font-weight="bold" text-anchor="middle" fill="#000" >100 nm</text>
<line x1="604" y1="163.2" x2="670.2" y2="163.2" stroke="#000" stroke-width="1.7" />
<text x="722.4" y="162" font-size="12" font-weight="bold" text-anchor="middle" fill="#fff" >DCNP@PB</text>
</g>
<g id="panel_d">
<text x="11.3" y="202.3" font-size="21.5" font-weight="bold" text-anchor="middle" fill="#000" >D</text>
<path d="M30.6 294.94 L30.85 294.78 L31.1 295.22 L31.35 294.69 L31.6 295.1 L31.85 294.93 L32.1 294.64 L32.35 295.03 L32.6 294.6 L32.85 294.94 L33.1 294.59 L33.35 294.59 L33.6 294.88 L33.85 295.22 L34.1 294.56 L34.35 294.63 L34.6 294.97 L34.85 295.23 L35.1 294.87 L35.35 294.67 L35.6 295.16 L35.85 294.29 L36.1 294.98 L36.35 294.43 L36.6 294.26 L36.85 294.19 L37.1 294.31 L37.35 294.72 L37.6 294.1 L37.85 294.41 L38.1 294.42 L38.35 294.13 L38.6 294.24 L38.85 293.77 L39.1 293.73 L39.35 293.83 L39.6 294.24 L39.85 294 L40.1 293.89 L40.35 294.15 L40.6 294.04 L40.85 293.93 L41.1 294.4 L41.35 294.35 L41.6 293.99 L41.85 294.33 L42.1 294.33 L42.35 294.69 L42.6 294.6 L42.85 294.25 L43.1 294.92 L43.35 294.18 L43.6 294.49 L43.85 294.83 L44.1 294.32 L44.35 294.65 L44.6 294.28 L44.85 294.87 L45.1 294.98 L45.35 294.82 L45.6 295.11 L45.85 294.62 L46.1 294.97 L46.35 294.89 L46.6 294.88 L46.85 294.77 L47.1 295.12 L47.35 295.21 L47.6 294.77 L47.85 294.93 L48.1 294.36 L48.35 294.91 L48.6 294.83 L48.85 295.09 L49.1 294.87 L49.35 294.3 L49.6 294.28 L49.85 294.38 L50.1 293.58 L50.35 293.67 L50.6 292.94 L50.85 292.17 L51.1 290.88 L51.35 289.2 L51.6 283.63 L51.85 271.23 L52.1 244.68 L52.35 250.71 L52.6 274.65 L52.85 285.31 L53.1 289.63 L53.35 291.97 L53.6 293.03 L53.85 293.74 L54.1 293.64 L54.35 294.06 L54.6 294.22 L54.85 294.85 L55.1 295.03 L55.35 294.4 L55.6 294.49 L55.85 294.6 L56.1 294.65 L56.35 294.92 L56.6 295.05 L56.85 294.78 L57.1 294.57 L57.35 294.97 L57.6 294.94 L57.85 295.14 L58.1 295.5 L58.35 295.27 L58.6 295.13 L58.85 295.23 L59.1 295.29 L59.35 294.74 L59.6 295.51 L59.85 295.41 L60.1 295.5 L60.35 295.44 L60.6 295.08 L60.85 295.09 L61.1 294.83 L61.35 295.31 L61.6 294.8 L61.85 294.81 L62.1 294.94 L62.35 294.9 L62.6 295.06 L62.85 294.8 L63.1 294.76 L63.35 294.9 L63.6 294.86 L63.85 295.09 L64.1 294.79 L64.35 295.56 L64.6 295.33 L64.85 294.91 L65.1 295 L65.35 295.09 L65.6 295.11 L65.85 294.89 L66.1 295.54 L66.35 295.68 L66.6 295.2 L66.85 295.22 L67.1 294.86 L67.35 294.88 L67.6 295.1 L67.85 295.03 L68.1 295.53 L68.35 294.93 L68.6 294.81 L68.85 295.65 L69.1 295.27 L69.35 294.92 L69.6 295.28 L69.85 294.82 L70.1 295.27 L70.35 295.67 L70.6 295.57 L70.85 295.42 L71.1 295.03 L71.35 295.12 L71.6 294.94 L71.85 295.49 L72.1 295.27 L72.35 295.49 L72.6 295.09 L72.85 294.99 L73.1 295.52 L73.35 295.68 L73.6 295.56 L73.85 295.51 L74.1 295.52 L74.35 295.45 L74.6 294.99 L74.85 295.25 L75.1 295.1 L75.35 294.8 L75.6 294.8 L75.85 295.02 L76.1 295 L76.35 295.38 L76.6 295.61 L76.85 295.15 L77.1 295.57 L77.35 295.6 L77.6 295.54 L77.85 294.96 L78.1 294.75 L78.35 294.62 L78.6 294.36 L78.85 294.06 L79.1 294.39 L79.35 294.93 L79.6 295.13 L79.85 294.96 L80.1 295.2 L80.35 295.38 L80.6 294.77 L80.85 295.31 L81.1 295.54 L81.35 295.44 L81.6 295.41 L81.85 295.17 L82.1 294.9 L82.35 295.46 L82.6 295.05 L82.85 295.47 L83.1 295.62 L83.35 295.1 L83.6 295.1 L83.85 295.59 L84.1 295.39 L84.35 294.89 L84.6 294.84 L84.85 294.86 L85.1 295.53 L85.35 295.44 L85.6 294.84 L85.85 295.45 L86.1 295.58 L86.35 295.28 L86.6 295 L86.85 295.16 L87.1 294.78 L87.35 294.66 L87.6 295.51 L87.85 295.21 L88.1 295.08 L88.35 295.43 L88.6 294.96 L88.85 295.33 L89.1 295.26 L89.35 294.67 L89.6 294.67 L89.85 294.66 L90.1 294.56 L90.35 294.81 L90.6 294.44 L90.85 294.49 L91.1 294.11 L91.35 294.65 L91.6 293.95 L91.85 293.77 L92.1 293.49 L92.35 293.2 L92.6 291.87 L92.85 290.78 L93.1 287.5 L93.35 281.14 L93.6 264.92 L93.85 236.18 L94.1 253.07 L94.35 275.45 L94.6 283.96 L94.85 287.87 L95.1 288.13 L95.35 287.44 L95.6 283.99 L95.85 273.42 L96.1 250.39 L96.35 255.62 L96.6 277.15 L96.85 286.41 L97.1 289.56 L97.35 291.8 L97.6 292.54 L97.85 293.19 L98.1 294.04 L98.35 294.09 L98.6 294.35 L98.85 294.68 L99.1 294.94 L99.35 294.61 L99.6 294.84 L99.85 294.81 L100.1 294.87 L100.35 295.07 L100.6 294.89 L100.85 295 L101.1 294.97 L101.35 295.41 L101.6 295.22 L101.85 295.39 L102.1 295.47 L102.35 294.87 L102.6 295.15 L102.85 295.51 L103.1 295.42 L103.35 294.8 L103.6 294.79 L103.85 295.09 L104.1 294.76 L104.35 294.91 L104.6 294.77 L104.85 295.31 L105.1 295.41 L105.35 295.51 L105.6 294.85 L105.85 295.35 L106.1 295.3 L106.35 294.83 L106.6 295.49 L106.85 295.55 L107.1 294.87 L107.35 295.51 L107.6 294.99 L107.85 295.03 L108.1 295.43 L108.35 295.2 L108.6 294.46 L108.85 294.45 L109.1 294.01 L109.35 292.63 L109.6 289.43 L109.85 287.29 L110.1 291.44 L110.35 292.98 L110.6 294.31 L110.85 294.59 L111.1 294.41 L111.35 294.81 L111.6 295.14 L111.85 295.09 L112.1 294.72 L112.35 295.58 L112.6 295.42 L112.85 295.6 L113.1 294.83 L113.35 294.98 L113.6 294.79 L113.85 295.46 L114.1 295.01 L114.35 294.89 L114.6 295.15 L114.85 295.6 L115.1 295.52 L115.35 295.01 L115.6 294.92 L115.85 295.61 L116.1 295.3 L116.35 295.42 L116.6 294.87 L116.85 294.84 L117.1 295.41 L117.35 295.17 L117.6 294.86 L117.85 295.64 L118.1 295.36 L118.35 295.51 L118.6 294.87 L118.85 295.56 L119.1 294.85 L119.35 295.56 L119.6 295.19 L119.85 295.09 L120.1 295.28 L120.35 295.61 L120.6 295.02 L120.85 294.89 L121.1 295.24 L121.35 294.98 L121.6 294.85 L121.85 294.89 L122.1 294.78 L122.35 294.9 L122.6 294.98 L122.85 294.95 L123.1 295.33 L123.35 294.86 L123.6 294.97 L123.85 294.56 L124.1 294.5 L124.35 293.79 L124.6 293.05 L124.85 290.39 L125.1 287.97 L125.35 290.88 L125.6 292.99 L125.85 294.2 L126.1 295.03 L126.35 294.49 L126.6 295.25 L126.85 294.98 L127.1 295.08 L127.35 295.42 L127.6 295.04 L127.85 295.16 L128.1 295.34 L128.35 295.61 L128.6 295.04 L128.85 295.49 L129.1 295.38 L129.35 295.32 L129.6 295.11 L129.85 295.06 L130.1 294.8 L130.35 294.86 L130.6 294.81 L130.85 295.41 L131.1 294.97 L131.35 294.88 L131.6 294.8 L131.85 295.48 L132.1 295.5 L132.35 295.31 L132.6 294.95 L132.85 294.9 L133.1 294.93 L133.35 295.06 L133.6 294.77 L133.85 295.01 L134.1 294.81 L134.35 295.41 L134.6 295.37 L134.85 294.93 L135.1 294.59 L135.35 295.14 L135.6 294.42 L135.85 294.28 L136.1 293.69 L136.35 293.62 L136.6 293.03 L136.85 291.84 L137.1 289.07 L137.35 283.28 L137.6 266.36 L137.85 253.39 L138.1 274.89 L138.35 286.33 L138.6 290.17 L138.85 291.99 L139.1 293.19 L139.35 293.67 L139.6 294.33 L139.85 294.51 L140.1 294.87 L140.35 294.9 L140.6 295.04 L140.85 295.25 L141.1 294.86 L141.35 294.84 L141.6 295.47 L141.85 294.74 L142.1 295.28 L142.35 295.23 L142.6 294.7 L142.85 295.43 L143.1 295.49 L143.35 295.26 L143.6 295.36 L143.85 295.44 L144.1 294.83 L144.35 295.18 L144.6 295.16 L144.85 295.46 L145.1 295.43 L145.35 295.44 L145.6 295.21 L145.85 295.47 L146.1 295.26 L146.35 295.24 L146.6 294.77 L146.85 294.52 L147.1 294.49 L147.35 294.46 L147.6 293.77 L147.85 293.33 L148.1 290.31 L148.35 288.36 L148.6 291.76 L148.85 293.76 L149.1 294.35 L149.35 294.26 L149.6 295.15 L149.85 295.22 L150.1 295.06 L150.35 295.13 L150.6 295.28 L150.85 294.76 L151.1 295.39 L151.35 294.96 L151.6 294.81 L151.85 294.99 L152.1 295.42 L152.35 294.95 L152.6 295.43 L152.85 295.65 L153.1 295.22 L153.35 295.12 L153.6 295.21 L153.85 295.4 L154.1 295.47 L154.35 295.34 L154.6 295.36 L154.85 294.85 L155.1 294.92 L155.35 295.01 L155.6 295.45 L155.85 295.06 L156.1 295.3 L156.35 294.8 L156.6 294.84 L156.85 295.02 L157.1 295.39 L157.35 295.4 L157.6 295.39 L157.85 295.04 L158.1 295.24 L158.35 295.19 L158.6 295.19 L158.85 294.87 L159.1 295.57 L159.35 294.94 L159.6 295.64 L159.85 295.6 L160.1 294.76 L160.35 295.15 L160.6 295.47 L160.85 295.6 L161.1 295.12 L161.35 294.95 L161.6 294.88 L161.85 295.53 L162.1 294.84 L162.35 295.15 L162.6 294.72 L162.85 295.01 L163.1 295.31 L163.35 294.44 L163.6 294.83 L163.85 294.07 L164.1 293.26 L164.35 290.35 L164.6 289.29 L164.85 292.83 L165.1 293.83 L165.35 293.95 L165.6 294.16 L165.85 294.71 L166.1 294.72 L166.35 294.6 L166.6 294.44 L166.85 294.59 L167.1 294.51 L167.35 294.9 L167.6 294.03 L167.85 294.54 L168.1 294.38 L168.35 293.37 L168.6 293.52 L168.85 292.28 L169.1 290.29 L169.35 284.35 L169.6 272 L169.85 273.83 L170.1 283.6 L170.35 284.19 L170.6 277.88 L170.85 260.23 L171.1 256.31 L171.35 276.37 L171.6 285.96 L171.85 290.47 L172.1 291.79 L172.35 293.35 L172.6 293.31 L172.85 293.69 L173.1 294.14 L173.35 293.99 L173.6 294.23 L173.85 294.74 L174.1 294.56 L174.35 294.18 L174.6 293.28 L174.85 292.26 L175.1 292.09 L175.35 293.08 L175.6 294.17 L175.85 294.03 L176.1 294.89 L176.35 294.78 L176.6 295.14 L176.85 295.1 L177.1 294.83 L177.35 294.65 L177.6 295.46 L177.85 294.76 L178.1 295.09 L178.35 294.99 L178.6 294.96 L178.85 295.37 L179.1 295.59 L179.35 294.95 L179.6 295.31 L179.85 294.99 L180.1 295.23 L180.35 295.08 L180.6 294.88 L180.85 294.87 L181.1 294.91 L181.35 295.54 L181.6 295.16 L181.85 294.9 L182.1 295.5 L182.35 295.55 L182.6 295.02 L182.85 294.67 L183.1 294.61 L183.35 294.31 L183.6 294.18 L183.85 293.5 L184.1 293.57 L184.35 294.02 L184.6 294.69 L184.85 295.21 L185.1 295.22 L185.35 294.99 L185.6 295.04 L185.85 295.17 L186.1 295.06 L186.35 295.04 L186.6 294.8 L186.85 295 L187.1 295.63 L187.35 294.88 L187.6 295.22 L187.85 295.34 L188.1 295.55 L188.35 294.97 L188.6 295.02 L188.85 295 L189.1 295.14 L189.35 295.18 L189.6 295.63 L189.85 295.54 L190.1 295.56 L190.35 294.79 L190.6 294.79 L190.85 295.4 L191.1 295.56 L191.35 295.17 L191.6 295.26 L191.85 294.71 L192.1 295.04 L192.35 295.5 L192.6 295.37 L192.85 295.34 L193.1 295.35 L193.35 294.55 L193.6 294.15 L193.85 293.62 L194.1 292.57 L194.35 289.41 L194.6 288.89 L194.85 292.26 L195.1 293.87 L195.35 294.64 L195.6 294.67 L195.85 294.91 L196.1 294.54 L196.35 295.26 L196.6 294.8 L196.85 295.43 L197.1 295.18 L197.35 294.86 L197.6 294.67 L197.85 294.73 L198.1 294.98 L198.35 294.87 L198.6 294.01 L198.85 293.23 L199.1 291.74 L199.35 288.48 L199.6 290.27 L199.85 292.81 L200.1 294.21 L200.35 294.13 L200.6 294.6 L200.85 294.85 L201.1 295.36 L201.35 295.09 L201.6 295.29 L201.85 294.87 L202.1 294.53 L202.35 294.28 L202.6 294.36 L202.85 293.2 L203.1 292.69 L203.35 293.37 L203.6 294.45 L203.85 294.93 L204.1 294.86 L204.35 294.8 L204.6 295.22 L204.85 295.49 L205.1 294.88 L205.35 294.72 L205.6 294.99 L205.85 295.06 L206.1 295.28 L206.35 294.82 L206.6 295.32 L206.85 295.19 L207.1 294.84 L207.35 294.3 L207.6 294.42 L207.85 292.89 L208.1 293.19 L208.35 293.6 L208.6 294.24 L208.85 295.04 L209.1 294.78 L209.35 295.46 L209.6 295.11 L209.85 294.87 L210.1 294.92 L210.35 295.11 L210.6 295.35 L210.85 295.61 L211.1 294.9 L211.35 295.12 L211.6 294.96 L211.85 295.65 L212.1 294.9 L212.35 294.81 L212.6 294.81 L212.85 295.1 L213.1 295.54 L213.35 295.51 L213.6 295.34 L213.85 295.52 L214.1 295.37 L214.35 294.67 L214.6 294.25 L214.85 294.56 L215.1 294.34 L215.35 294.04 L215.6 294.93 L215.85 294.85 L216.1 294.95 L216.35 294.98 L216.6 294.87 L216.85 294.74 L217.1 295.01 L217.35 295.09 L217.6 295.64 L217.85 294.9 L218.1 295.66 L218.35 294.98 L218.6 295.12 L218.85 295.54 L219.1 295.54 L219.35 295.19 L219.6 294.85 L219.85 295.23 L220.1 295.14 L220.35 295.63 L220.6 294.98 L220.85 295.13 L221.1 295.61 L221.35 294.83 L221.6 295.17 L221.85 295.53 L222.1 295.49 L222.35 294.83 L222.6 294.83 L222.85 294.85 L223.1 295.62 L223.35 295.01 L223.6 295.45 L223.85 295.58 L224.1 295.07 L224.35 295 L224.6 295.6 L224.85 295.28 L225.1 294.94 L225.35 295.32 L225.6 294.92 L225.85 294.83 L226.1 294.51 L226.35 295.07 L226.6 295.01 L226.85 294.38 L227.1 293.85 L227.35 291.01 L227.6 286.9 L227.85 288.01 L228.1 292.39 L228.35 294.04 L228.6 294.19 L228.85 294.37 L229.1 294.68 L229.35 294.8 L229.6 295.19 L229.85 294.45 L230.1 294.85 L230.35 294.43 L230.6 293.73 L230.85 292.39 L231.1 292.02 L231.35 293.09 L231.6 294 L231.85 294.48 L232.1 295.09 L232.35 294.59 L232.6 294.78 L232.85 295.33 L233.1 294.91 L233.35 294.77 L233.6 294.77 L233.85 295.25 L234.1 295.06 L234.35 295.65 L234.6 295.57 L234.85 295.67 L235.1 295.03 L235.35 294.87 L235.6 294.89 L235.85 295.25 L236.1 295.44 L236.35 295.21 L236.6 295.02 L236.85 295.19 L237.1 295.37 L237.35 295.42 L237.6 295.49 L237.85 295.58 L238.1 295.42 L238.35 294.93 L238.6 295.58 L238.85 295.08 L239.1 295.33 L239.35 295.16 L239.6 295.48 L239.85 295 L240.1 295.04 L240.35 295.04 L240.6 294.96 L240.85 295.62 L241.1 295.34 L241.35 295.11 L241.6 295.17 L241.85 295.71 L242.1 295.27 L242.35 295.02 L242.6 295.54 L242.85 295.4 L243.1 295.7 L243.35 294.9 L243.6 295.23 L243.85 295.53 L244.1 295.55 L244.35 295.61 L244.6 294.82 L244.85 295.04 L245.1 294.87 L245.35 294.91 L245.6 295.6 L245.85 295.22 L246.1 295.5 L246.35 294.94 L246.6 295.29 L246.85 294.76 L247.1 294.29 L247.35 294.1 L247.6 292.57 L247.85 288.87 L248.1 291.05 L248.35 293.45 L248.6 294.03 L248.85 294.56 L249.1 294.54 L249.35 294.69 L249.6 294.79 L249.85 295.12 L250.1 295.16 L250.35 294.72 L250.6 294.48 L250.85 294.62 L251.1 294.66 L251.35 293.64 L251.6 292.68 L251.85 292.04 L252.1 293.61 L252.35 294.27 L252.6 294.28 L252.85 294.53 L253.1 294.92 L253.35 295.13 L253.6 295.26 L253.85 294.8 L254.1 294.89 L254.35 295.38 L254.6 295.14 L254.85 295.04 L255.1 295.07 L255.35 295.66 L255.6 295.08 L255.85 295.32 L256.1 295.13 L256.35 295.19 L256.6 295.59 L256.85 295.72 L257.1 295.15 L257.35 295 L257.6 295.48 L257.85 295.01 L258.1 294.83 L258.35 295.64 L258.6 295.21 L258.85 295.57 L259.1 295.2 L259.35 295.63 L259.6 295.25 L259.85 294.98 L260.1 294.85 L260.35 295.33 L260.6 295.41 L260.85 295.66 L261.1 294.92 L261.35 295.4" stroke="#000" stroke-width="1.4" fill="none" stroke-linejoin="round" />
<path d="M30.6 383.17 L31 383.86 L31.4 381.99 L31.8 382.7 L32.2 383.93 L32.6 386.02 L33 381.77 L33.4 383.75 L33.8 385.37 L34.2 386.21 L34.6 382.2 L35 381.82 L35.4 386.06 L35.8 386.22 L36.2 383.64 L36.6 381.4 L37 385.92 L37.4 383.11 L37.8 385.78 L38.2 384.29 L38.6 385.34 L39 381.87 L39.4 385.1 L39.8 382.15 L40.2 383.07 L40.6 385.35 L41 385.23 L41.4 381.84 L41.8 381.99 L42.2 382.9 L42.6 383.48 L43 382.74 L43.4 381.34 L43.8 381.93 L44.2 384.35 L44.6 385.18 L45 380.66 L45.4 383.28 L45.8 384.2 L46.2 380.35 L46.6 384.38 L47 380.48 L47.4 382.8 L47.8 382.32 L48.2 382.43 L48.6 380.37 L49 380.4 L49.4 380.4 L49.8 378.3 L50.2 377.57 L50.6 373.61 L51 369.55 L51.4 362.02 L51.8 358.38 L52.2 349.82 L52.6 340.06 L53 334.77 L53.4 328.57 L53.8 323.84 L54.2 323.44 L54.6 329.79 L55 335.23 L55.4 343.73 L55.8 353.55 L56.2 359.14 L56.6 367.03 L57 372.06 L57.4 373.02 L57.8 378.48 L58.2 377.17 L58.6 381.59 L59 382.51 L59.4 381.59 L59.8 379.54 L60.2 382.12 L60.6 381.66 L61 384.8 L61.4 380.7 L61.8 384.56 L62.2 385.38 L62.6 384.08 L63 384.59 L63.4 381.42 L63.8 385.57 L64.2 383.06 L64.6 385.52 L65 385.34 L65.4 381.46 L65.8 384.72 L66.2 385.48 L66.6 380.99 L67 382.48 L67.4 384.59 L67.8 381.48 L68.2 385.31 L68.6 382.07 L69 384.86 L69.4 381.35 L69.8 383.18 L70.2 385.31 L70.6 381.57 L71 381.79 L71.4 382.99 L71.8 381.93 L72.2 380.34 L72.6 380.95 L73 380.62 L73.4 384.33 L73.8 382.5 L74.2 382.85 L74.6 377.87 L75 379.29 L75.4 373.28 L75.8 372.1 L76.2 368.53 L76.6 362.44 L77 360.42 L77.4 354.78 L77.8 352.57 L78.2 354.14 L78.6 352.45 L79 361.06 L79.4 363.87 L79.8 367.3 L80.2 373.53 L80.6 374.11 L81 380.41 L81.4 380.06 L81.8 380.14 L82.2 383.03 L82.6 381.86 L83 380.81 L83.4 383.98 L83.8 380.52 L84.2 384.66 L84.6 381.82 L85 383.9 L85.4 385.77 L85.8 383.76 L86.2 384.21 L86.6 382.43 L87 380.86 L87.4 381.06 L87.8 381.69 L88.2 384.14 L88.6 383.21 L89 383.65 L89.4 385.66 L89.8 381.71 L90.2 382.22 L90.6 384.45 L91 381.18 L91.4 381.09 L91.8 382.93 L92.2 381.64 L92.6 382.95 L93 382.27 L93.4 384.14 L93.8 384.18 L94.2 382.18 L94.6 384.37 L95 383.59 L95.4 381.83 L95.8 386 L96.2 382.39 L96.6 381.9 L97 381.62 L97.4 384.44 L97.8 385.65 L98.2 385.18 L98.6 383.2 L99 382.48 L99.4 381.16 L99.8 384.45 L100.2 384.01 L100.6 382.9 L101 384.42 L101.4 383.36 L101.8 385.91 L102.2 384.84 L102.6 382.3 L103 385.68 L103.4 381.19 L103.8 383.69 L104.2 383.01 L104.6 382.1 L105 381.12 L105.4 384.82 L105.8 380.77 L106.2 383.51 L106.6 385.45 L107 381.19 L107.4 381.35 L107.8 383.28 L108.2 382.48 L108.6 382.75 L109 382.97 L109.4 378.61 L109.8 377.77 L110.2 375.55 L110.6 371.36 L111 372.19 L111.4 367.64 L111.8 363.25 L112.2 356.14 L112.6 358.48 L113 357.96 L113.4 358.52 L113.8 363.38 L114.2 365.91 L114.6 368.73 L115 371.65 L115.4 375.19 L115.8 376.35 L116.2 379.43 L116.6 382.62 L117 383.01 L117.4 384.22 L117.8 383.8 L118.2 381.67 L118.6 383.3 L119 382.79 L119.4 384.7 L119.8 383.39 L120.2 382.1 L120.6 384.1 L121 385.81 L121.4 381.94 L121.8 385.41 L122.2 380.92 L122.6 382.19 L123 382.06 L123.4 384.68 L123.8 385.69 L124.2 384.6 L124.6 382.32 L125 384.99 L125.4 381.69 L125.8 380.35 L126.2 382.26 L126.6 378.44 L127 375.89 L127.4 373.32 L127.8 374.35 L128.2 373.38 L128.6 378.13 L129 380.1 L129.4 382.91 L129.8 381.92 L130.2 384.04 L130.6 383.54 L131 382.32 L131.4 381.9 L131.8 384.07 L132.2 381.26 L132.6 385.58 L133 381.55 L133.4 380.79 L133.8 380.85 L134.2 384.32 L134.6 379.88 L135 377.06 L135.4 375.26 L135.8 375.74 L136.2 380.7 L136.6 381.92 L137 383.09 L137.4 383.29 L137.8 378.97 L138.2 380.18 L138.6 377.22 L139 378.46 L139.4 378.92 L139.8 380.95 L140.2 378.49 L140.6 384.03 L141 385.09 L141.4 385.66 L141.8 381.49 L142.2 382.1 L142.6 381.67 L143 381.31 L143.4 385.57 L143.8 385.4 L144.2 384.5 L144.6 385.51 L145 384.51 L145.4 382.73 L145.8 381.77 L146.2 381.76 L146.6 385.2 L147 382.33 L147.4 382.93 L147.8 383.48 L148.2 381.39 L148.6 382.62 L149 382.75 L149.4 385.01 L149.8 383.2 L150.2 382.96 L150.6 386.3 L151 383.91 L151.4 385.72 L151.8 384.51 L152.2 381.45 L152.6 383.44 L153 383.56 L153.4 385.31 L153.8 383.09 L154.2 384.95 L154.6 384.08 L155 382.4 L155.4 385.76 L155.8 381.74 L156.2 385.52 L156.6 382.14 L157 381.25 L157.4 382.29 L157.8 385.19 L158.2 386.29 L158.6 381.21 L159 383.72 L159.4 383.69 L159.8 385.23 L160.2 381.97 L160.6 383.46 L161 382.48 L161.4 384.65 L161.8 381.15 L162.2 383.95 L162.6 379.56 L163 378.13 L163.4 379.67 L163.8 378.01 L164.2 375.99 L164.6 379.34 L165 377.43 L165.4 382.16 L165.8 382.65 L166.2 383.86 L166.6 383.57 L167 382.49 L167.4 382.93 L167.8 383.02 L168.2 385.66 L168.6 381.52 L169 385.71 L169.4 381.23 L169.8 382.17 L170.2 382.46 L170.6 385.75 L171 383.62 L171.4 382.88 L171.8 385.33 L172.2 381.67 L172.6 382.43 L173 382.22 L173.4 382.7 L173.8 381.99 L174.2 380.88 L174.6 379.12 L175 379.23 L175.4 378.89 L175.8 383.17 L176.2 382.92 L176.6 383.91 L177 381.36 L177.4 383.04 L177.8 384.96 L178.2 384.06 L178.6 381.76 L179 383.54 L179.4 385.76 L179.8 382.4 L180.2 382.16 L180.6 382.73 L181 384.8 L181.4 385.51 L181.8 381.89 L182.2 381.84 L182.6 382.18 L183 382.29 L183.4 382.68 L183.8 379.67 L184.2 378.93 L184.6 376.57 L185 379.9 L185.4 379.38 L185.8 377.76 L186.2 383.85 L186.6 380.51 L187 382.61 L187.4 386.04 L187.8 385.19 L188.2 384.94 L188.6 383.44 L189 382.22 L189.4 384.54 L189.8 381.8 L190.2 382.33 L190.6 383.28 L191 381.45 L191.4 383.35 L191.8 385.4 L192.2 384.89 L192.6 383.89 L193 384.58 L193.4 383.7 L193.8 382.02 L194.2 384.42 L194.6 383.38 L195 385.12 L195.4 385.98 L195.8 383.47 L196.2 384.19 L196.6 385.05 L197 383.26 L197.4 382.11 L197.8 384.46 L198.2 384.97 L198.6 384.02 L199 383.19 L199.4 383.57 L199.8 382.42 L200.2 382.22 L200.6 381.5 L201 381.18 L201.4 383.26 L201.8 380.9 L202.2 382.89 L202.6 385 L203 384.78 L203.4 384.43 L203.8 382.51 L204.2 383.44 L204.6 383.62 L205 384.5 L205.4 383.4 L205.8 384.79 L206.2 386.12 L206.6 382.24 L207 384.69 L207.4 385.33 L207.8 383.31 L208.2 383.83 L208.6 386.35 L209 381.47 L209.4 384.09 L209.8 382.09 L210.2 385.3 L210.6 386.11 L211 383.88 L211.4 381.65 L211.8 384.02 L212.2 383.69 L212.6 384.35 L213 382.91 L213.4 383.07 L213.8 383.46 L214.2 381.24 L214.6 380.18 L215 382.78 L215.4 379.13 L215.8 382.09 L216.2 381.18 L216.6 383.71 L217 380.88 L217.4 385.74 L217.8 382.72 L218.2 381.32 L218.6 382.55 L219 383.25 L219.4 381.27 L219.8 383.4 L220.2 383.42 L220.6 384.88 L221 383.08 L221.4 382.63 L221.8 382.42 L222.2 385.11 L222.6 386.14 L223 383.99 L223.4 382.38 L223.8 385.4 L224.2 383.26 L224.6 382.31 L225 381.85 L225.4 385.17 L225.8 385.27 L226.2 384.26 L226.6 383.26 L227 383.54 L227.4 381.53 L227.8 385.05 L228.2 381.5 L228.6 382.58 L229 383.13 L229.4 382.8 L229.8 380.81 L230.2 379.9 L230.6 381.4 L231 379.52 L231.4 383.59 L231.8 381.49 L232.2 384.44 L232.6 381.73 L233 382.56 L233.4 382.11 L233.8 383.15 L234.2 382 L234.6 381.11 L235 384.88 L235.4 382.61 L235.8 382.42 L236.2 382.7 L236.6 383.59 L237 383.24 L237.4 384.19 L237.8 384.09 L238.2 382.24 L238.6 384.79 L239 383.96 L239.4 379.41 L239.8 383.17 L240.2 383.57 L240.6 383.2 L241 380.26 L241.4 384.3 L241.8 383.67 L242.2 380.77 L242.6 380.97 L243 386.01 L243.4 384.56 L243.8 382.5 L244.2 381.75 L244.6 381.99 L245 382.47 L245.4 385.3 L245.8 383.07 L246.2 382.07 L246.6 385.98 L247 385.39 L247.4 382.15 L247.8 385.9 L248.2 384.43 L248.6 385.32 L249 384.72 L249.4 385.88 L249.8 385.3 L250.2 385.53 L250.6 382.14 L251 384.64 L251.4 383.67 L251.8 384.6 L252.2 382.79 L252.6 384.81 L253 382.76 L253.4 380.86 L253.8 380.3 L254.2 379.45 L254.6 381.03 L255 378.68 L255.4 380.9 L255.8 379.48 L256.2 381.64 L256.6 382.08 L257 382.68 L257.4 384.72 L257.8 380.56 L258.2 385.13 L258.6 383.36 L259 383.97 L259.4 384.59 L259.8 385.56 L260.2 383.18 L260.6 383.43 L261 386.27" stroke="#000" stroke-width="1.35" fill="none" stroke-linejoin="round" />
<path d="M30.6 476.55 L30.85 477.11 L31.1 477.1 L31.35 476.48 L31.6 477.05 L31.85 477.11 L32.1 477.35 L32.35 476.73 L32.6 477.37 L32.85 476.88 L33.1 476.84 L33.35 477.24 L33.6 476.35 L33.85 477.02 L34.1 476.9 L34.35 476.59 L34.6 477.09 L34.85 476.56 L35.1 476.64 L35.35 476.65 L35.6 476.86 L35.85 476.26 L36.1 476.43 L36.35 476.37 L36.6 476.45 L36.85 476.66 L37.1 476.06 L37.35 476.52 L37.6 476.02 L37.85 476.04 L38.1 475.72 L38.35 475.87 L38.6 476.25 L38.85 475.85 L39.1 475.91 L39.35 475.38 L39.6 475.32 L39.85 475.27 L40.1 475.55 L40.35 475.6 L40.6 475.78 L40.85 475.08 L41.1 475.82 L41.35 476.04 L41.6 475.77 L41.85 475.34 L42.1 475.66 L42.35 475.43 L42.6 475.67 L42.85 476.45 L43.1 476.18 L43.35 476.27 L43.6 476.43 L43.85 476.57 L44.1 476.29 L44.35 476.31 L44.6 476.33 L44.85 476.4 L45.1 476.29 L45.35 476.36 L45.6 475.87 L45.85 476.3 L46.1 476.06 L46.35 476.33 L46.6 475.62 L46.85 475.64 L47.1 475.43 L47.35 476.09 L47.6 476.14 L47.85 475.78 L48.1 475.37 L48.35 475.68 L48.6 475.48 L48.85 475.07 L49.1 474.54 L49.35 474.32 L49.6 474.13 L49.85 473.66 L50.1 473.33 L50.35 473.01 L50.6 472.65 L50.85 470.96 L51.1 470.45 L51.35 468.55 L51.6 466.66 L51.85 464.12 L52.1 457.42 L52.35 442.28 L52.6 422.63 L52.85 440.98 L53.1 456.51 L53.35 462.95 L53.6 466.42 L53.85 468.43 L54.1 469.35 L54.35 470.41 L54.6 471.01 L54.85 472.32 L55.1 472.52 L55.35 473 L55.6 473.31 L55.85 473.69 L56.1 474.69 L56.35 474.41 L56.6 475.49 L56.85 474.82 L57.1 475.79 L57.35 475.2 L57.6 475.23 L57.85 476.05 L58.1 475.68 L58.35 476.27 L58.6 475.8 L58.85 475.74 L59.1 476.53 L59.35 476.53 L59.6 476.73 L59.85 476.65 L60.1 476.05 L60.35 476.64 L60.6 476.76 L60.85 476.54 L61.1 477.05 L61.35 476.4 L61.6 477.13 L61.85 476.91 L62.1 476.23 L62.35 476.25 L62.6 476.9 L62.85 477.09 L63.1 476.37 L63.35 476.61 L63.6 477.05 L63.85 476.49 L64.1 477.2 L64.35 476.84 L64.6 476.42 L64.85 476.74 L65.1 476.96 L65.35 476.83 L65.6 477.07 L65.85 476.55 L66.1 477.21 L66.35 476.78 L66.6 477.06 L66.85 477.05 L67.1 476.85 L67.35 476.82 L67.6 477.22 L67.85 477.38 L68.1 477.22 L68.35 477.01 L68.6 476.73 L68.85 476.5 L69.1 477.42 L69.35 477.15 L69.6 477.27 L69.85 476.77 L70.1 477.04 L70.35 477.41 L70.6 477.26 L70.85 477.02 L71.1 476.73 L71.35 476.84 L71.6 477.29 L71.85 476.77 L72.1 477.06 L72.35 476.97 L72.6 477.25 L72.85 477.14 L73.1 476.59 L73.35 476.29 L73.6 476.52 L73.85 476.65 L74.1 476.77 L74.35 476.95 L74.6 476.97 L74.85 476.05 L75.1 476.76 L75.35 476.64 L75.6 476.57 L75.85 476.12 L76.1 475.64 L76.35 475.98 L76.6 475.65 L76.85 475.19 L77.1 475.03 L77.35 474.06 L77.6 473.45 L77.85 473.69 L78.1 473.91 L78.35 473.51 L78.6 474.39 L78.85 474.97 L79.1 474.67 L79.35 475.39 L79.6 475.76 L79.85 475.79 L80.1 475.73 L80.35 475.94 L80.6 476.56 L80.85 476.71 L81.1 476.46 L81.35 476.16 L81.6 476.94 L81.85 476.96 L82.1 476.46 L82.35 476.84 L82.6 477.19 L82.85 477.21 L83.1 476.87 L83.35 476.84 L83.6 476.97 L83.85 476.58 L84.1 476.6 L84.35 476.6 L84.6 477.13 L84.85 476.8 L85.1 477 L85.35 476.85 L85.6 476.97 L85.85 476.6 L86.1 476.5 L86.35 477.45 L86.6 476.83 L86.85 476.56 L87.1 477.08 L87.35 477.23 L87.6 476.6 L87.85 477.03 L88.1 476.77 L88.35 476.94 L88.6 476.43 L88.85 476.43 L89.1 477.37 L89.35 477.23 L89.6 476.83 L89.85 476.89 L90.1 476.55 L90.35 477.04 L90.6 476.65 L90.85 477.12 L91.1 476.88 L91.35 476.86 L91.6 476.91 L91.85 476.08 L92.1 475.71 L92.35 475.67 L92.6 475.36 L92.85 474.85 L93.1 474.19 L93.35 473.66 L93.6 472.1 L93.85 467.82 L94.1 458.99 L94.35 436.81 L94.6 430.77 L94.85 454.84 L95.1 465.36 L95.35 468.79 L95.6 470.33 L95.85 467.86 L96.1 461.82 L96.35 445.59 L96.6 442.39 L96.85 460.41 L97.1 468.77 L97.35 472.32 L97.6 473.7 L97.85 475.41 L98.1 475.99 L98.35 475.58 L98.6 475.64 L98.85 476.04 L99.1 476.27 L99.35 476.92 L99.6 477.01 L99.85 477.01 L100.1 476.27 L100.35 477.05 L100.6 477.01 L100.85 476.98 L101.1 477.34 L101.35 476.44 L101.6 476.54 L101.85 477.17 L102.1 477.37 L102.35 477.12 L102.6 476.75 L102.85 477.05 L103.1 477.22 L103.35 476.58 L103.6 476.8 L103.85 476.74 L104.1 476.61 L104.35 476.97 L104.6 476.65 L104.85 476.72 L105.1 476.63 L105.35 477.16 L105.6 476.49 L105.85 477.19 L106.1 476.66 L106.35 476.49 L106.6 477.37 L106.85 476.65 L107.1 477.34 L107.35 477.25 L107.6 477.25 L107.85 476.46 L108.1 476.71 L108.35 476.29 L108.6 477.01 L108.85 476.74 L109.1 476.17 L109.35 475.19 L109.6 473.11 L109.85 472.13 L110.1 474.08 L110.35 475.5 L110.6 475.44 L110.85 475.63 L111.1 475.43 L111.35 475.97 L111.6 475.62 L111.85 474.97 L112.1 475.43 L112.35 474.58 L112.6 474.55 L112.85 474.26 L113.1 474.49 L113.35 475.29 L113.6 475.07 L113.85 475.19 L114.1 475.77 L114.35 475.82 L114.6 476.59 L114.85 475.95 L115.1 476.94 L115.35 476.11 L115.6 477.03 L115.85 476.87 L116.1 476.47 L116.35 476.78 L116.6 476.63 L116.85 476.63 L117.1 476.61 L117.35 476.79 L117.6 477.44 L117.85 477.47 L118.1 477.41 L118.35 476.59 L118.6 476.8 L118.85 477.41 L119.1 476.58 L119.35 477.26 L119.6 476.84 L119.85 477.53 L120.1 476.57 L120.35 477.36 L120.6 476.9 L120.85 476.7 L121.1 476.57 L121.35 477.4 L121.6 477.09 L121.85 476.75 L122.1 476.99 L122.35 477.47 L122.6 476.76 L122.85 477.1 L123.1 476.65 L123.35 476.67 L123.6 477.22 L123.85 477.09 L124.1 476.45 L124.35 476.08 L124.6 475.52 L124.85 474.58 L125.1 472.62 L125.35 474.25 L125.6 475.64 L125.85 476.62 L126.1 476.97 L126.35 477.2 L126.6 477.04 L126.85 476.7 L127.1 476.6 L127.35 477.28 L127.6 476.97 L127.85 477.3 L128.1 476.64 L128.35 477.4 L128.6 476.93 L128.85 477.44 L129.1 477.47 L129.35 477.1 L129.6 476.62 L129.85 477.51 L130.1 477.08 L130.35 477.48 L130.6 476.87 L130.85 476.79 L131.1 477.43 L131.35 476.96 L131.6 476.76 L131.85 476.96 L132.1 477.18 L132.35 476.58 L132.6 477.09 L132.85 477.01 L133.1 477.07 L133.35 476.66 L133.6 477.24 L133.85 477.33 L134.1 477.35 L134.35 476.78 L134.6 477.14 L134.85 476.77 L135.1 477.09 L135.35 476.33 L135.6 477.05 L135.85 477 L136.1 476.35 L136.35 476.08 L136.6 475.62 L136.85 474.77 L137.1 472.48 L137.35 469.12 L137.6 456.69 L137.85 447.29 L138.1 462.57 L138.35 470.64 L138.6 474.16 L138.85 474.67 L139.1 475.41 L139.35 476.4 L139.6 476.14 L139.85 476.13 L140.1 476.82 L140.35 476.88 L140.6 476.89 L140.85 477.11 L141.1 476.55 L141.35 477.34 L141.6 477.22 L141.85 476.56 L142.1 476.66 L142.35 477.04 L142.6 477.06 L142.85 476.84 L143.1 476.69 L143.35 476.98 L143.6 476.72 L143.85 477.18 L144.1 477.45 L144.35 476.74 L144.6 477.16 L144.85 477.33 L145.1 476.75 L145.35 477.4 L145.6 477.51 L145.85 476.95 L146.1 476.96 L146.35 477.36 L146.6 477 L146.85 476.82 L147.1 477.27 L147.35 476.93 L147.6 476.14 L147.85 475.2 L148.1 473.18 L148.35 471.74 L148.6 474.89 L148.85 476.2 L149.1 476.89 L149.35 477.06 L149.6 477.23 L149.85 476.51 L150.1 477.03 L150.35 477.5 L150.6 477.5 L150.85 476.83 L151.1 477.02 L151.35 477.24 L151.6 476.98 L151.85 477.15 L152.1 476.7 L152.35 477.06 L152.6 477.14 L152.85 476.66 L153.1 476.78 L153.35 477.61 L153.6 477.42 L153.85 477.58 L154.1 477.28 L154.35 477.45 L154.6 477.53 L154.85 477.53 L155.1 476.68 L155.35 477.29 L155.6 476.91 L155.85 477.33 L156.1 476.92 L156.35 477.19 L156.6 477.57 L156.85 477.27 L157.1 476.9 L157.35 477.16 L157.6 477.08 L157.85 477.59 L158.1 476.93 L158.35 476.94 L158.6 477.29 L158.85 476.76 L159.1 477.23 L159.35 477.59 L159.6 477.14 L159.85 476.89 L160.1 477.09 L160.35 477.15 L160.6 476.76 L160.85 476.73 L161.1 476.73 L161.35 476.89 L161.6 476.99 L161.85 476.86 L162.1 476.8 L162.35 476.62 L162.6 477.06 L162.85 477.31 L163.1 477.02 L163.35 476.89 L163.6 476.8 L163.85 476 L164.1 475.68 L164.35 473.44 L164.6 473.07 L164.85 475.27 L165.1 476.12 L165.35 476.35 L165.6 476.45 L165.85 476.51 L166.1 476.84 L166.35 476.72 L166.6 476.92 L166.85 476.33 L167.1 476.64 L167.35 477.1 L167.6 476.41 L167.85 476.63 L168.1 476.44 L168.35 476.04 L168.6 476.45 L168.85 475.28 L169.1 474.9 L169.35 472.48 L169.6 468 L169.85 461.17 L170.1 463.96 L170.35 467.32 L170.6 465.15 L170.85 455.64 L171.1 454.18 L171.35 464.98 L171.6 470.98 L171.85 474.2 L172.1 475.18 L172.35 475.24 L172.6 475.81 L172.85 476.07 L173.1 476.54 L173.35 476.57 L173.6 476.84 L173.85 476.79 L174.1 476.37 L174.35 476.31 L174.6 475.67 L174.85 474.59 L175.1 474.13 L175.35 475.59 L175.6 476.31 L175.85 476.91 L176.1 476.33 L176.35 477.19 L176.6 476.4 L176.85 477.21 L177.1 477.07 L177.35 477 L177.6 477.49 L177.85 477.12 L178.1 476.97 L178.35 477.35 L178.6 477.45 L178.85 477.19 L179.1 476.97 L179.35 477.05 L179.6 477.05 L179.85 477.32 L180.1 476.89 L180.35 476.99 L180.6 477.16 L180.85 476.98 L181.1 476.92 L181.35 477.38 L181.6 477.43 L181.85 477.07 L182.1 476.99 L182.35 476.71 L182.6 476.79 L182.85 476.56 L183.1 476.88 L183.35 476.68 L183.6 475.83 L183.85 476.2 L184.1 475.54 L184.35 476.5 L184.6 476.88 L184.85 477.23 L185.1 476.61 L185.35 476.91 L185.6 477.44 L185.85 476.57 L186.1 476.63 L186.35 477.16 L186.6 477.11 L186.85 477.54 L187.1 477.4 L187.35 477.17 L187.6 477.63 L187.85 477.16 L188.1 477.16 L188.35 477.33 L188.6 477.04 L188.85 477 L189.1 477.24 L189.35 477 L189.6 477.6 L189.85 477.32 L190.1 477.17 L190.35 476.74 L190.6 477.02 L190.85 477.04 L191.1 477.2 L191.35 477.21 L191.6 477.51 L191.85 477.59 L192.1 477.1 L192.35 477.04 L192.6 477.21 L192.85 477.56 L193.1 476.88 L193.35 477.01 L193.6 477.22 L193.85 476.43 L194.1 476.29 L194.35 476.26 L194.6 474.38 L194.85 472.8 L195.1 474.52 L195.35 476.52 L195.6 476.79 L195.85 477.13 L196.1 477.41 L196.35 477.37 L196.6 476.94 L196.85 476.69 L197.1 476.83 L197.35 477.05 L197.6 477.03 L197.85 476.68 L198.1 476.63 L198.35 476.98 L198.6 476.77 L198.85 476.09 L199.1 475.66 L199.35 473.41 L199.6 473.94 L199.85 475.85 L200.1 476.84 L200.35 476.61 L200.6 477.13 L200.85 476.51 L201.1 476.86 L201.35 477.42 L201.6 477.19 L201.85 477.28 L202.1 476.82 L202.35 477.13 L202.6 477.19 L202.85 476.91 L203.1 477.3 L203.35 477.18 L203.6 477.65 L203.85 477.23 L204.1 477.07 L204.35 476.78 L204.6 476.82 L204.85 477.42 L205.1 476.77 L205.35 476.76 L205.6 476.83 L205.85 477.18 L206.1 477.48 L206.35 477.26 L206.6 477.45 L206.85 476.71 L207.1 476.65 L207.35 477.4 L207.6 476.94 L207.85 477.32 L208.1 476.94 L208.35 476.73 L208.6 476.78 L208.85 476.55 L209.1 477.23 L209.35 476.71 L209.6 476.12 L209.85 475.76 L210.1 475.63 L210.35 475.73 L210.6 476.96 L210.85 476.88 L211.1 477.39 L211.35 476.95 L211.6 477.17 L211.85 476.83 L212.1 476.65 L212.35 477.55 L212.6 477.49 L212.85 476.96 L213.1 477.55 L213.35 477.47 L213.6 476.96 L213.85 477.27 L214.1 477.63 L214.35 477.16 L214.6 477.62 L214.85 476.91 L215.1 477.06 L215.35 477.39 L215.6 476.9 L215.85 476.99 L216.1 477.55 L216.35 477.16 L216.6 477.47 L216.85 476.92 L217.1 476.85 L217.35 477.04 L217.6 476.87 L217.85 477.65 L218.1 476.97 L218.35 477.24 L218.6 476.8 L218.85 477.21 L219.1 477.07 L219.35 477.08 L219.6 476.75 L219.85 476.8 L220.1 477.51 L220.35 477.03 L220.6 476.92 L220.85 476.87 L221.1 476.96 L221.35 476.91 L221.6 476.71 L221.85 477.34 L222.1 477.02 L222.35 476.83 L222.6 477.38 L222.85 476.76 L223.1 476.94 L223.35 477.5 L223.6 476.79 L223.85 477.1 L224.1 477.49 L224.35 477.45 L224.6 476.8 L224.85 476.98 L225.1 477.34 L225.35 476.98 L225.6 477.54 L225.85 476.76 L226.1 477.46 L226.35 476.94 L226.6 476.54 L226.85 476.54 L227.1 475.72 L227.35 475.07 L227.6 472 L227.85 473.19 L228.1 475.3 L228.35 476.09 L228.6 476.39 L228.85 476.95 L229.1 476.66 L229.35 477.39 L229.6 476.68 L229.85 477.1 L230.1 477.15 L230.35 476.89 L230.6 477.41 L230.85 477.03 L231.1 477.31 L231.35 477.22 L231.6 476.97 L231.85 477.05 L232.1 476.75 L232.35 476.85 L232.6 477.52 L232.85 477 L233.1 477.34 L233.35 476.79 L233.6 477.24 L233.85 477.04 L234.1 477.18 L234.35 476.98 L234.6 476.75 L234.85 476.99 L235.1 476.91 L235.35 476.81 L235.6 477.4 L235.85 476.97 L236.1 477.09 L236.35 477.59 L236.6 477.46 L236.85 477.57 L237.1 477.55 L237.35 476.82 L237.6 476.96 L237.85 476.72 L238.1 477.37 L238.35 477.35 L238.6 477.04 L238.85 477.1 L239.1 477.35 L239.35 477.39 L239.6 476.94 L239.85 477.53 L240.1 477.04 L240.35 477.32 L240.6 476.87 L240.85 476.8 L241.1 477.6 L241.35 477.42 L241.6 477.4 L241.85 476.72 L242.1 476.72 L242.35 476.85 L242.6 476.88 L242.85 476.98 L243.1 477.06 L243.35 476.72 L243.6 476.99 L243.85 477.31 L244.1 476.85 L244.35 477.51 L244.6 477.24 L244.85 477.38 L245.1 476.91 L245.35 477.08 L245.6 477.32 L245.85 476.97 L246.1 476.6 L246.35 477.4 L246.6 477.29 L246.85 476.72 L247.1 476.31 L247.35 476.75 L247.6 475.55 L247.85 473.34 L248.1 474.52 L248.35 475.73 L248.6 476.94 L248.85 476.59 L249.1 477.4 L249.35 477.3 L249.6 476.68 L249.85 477.31 L250.1 477.03 L250.35 477.39 L250.6 477.48 L250.85 476.94 L251.1 476.75 L251.35 477.62 L251.6 477.1 L251.85 477.61 L252.1 477.37 L252.35 477.42 L252.6 477.51 L252.85 477.31 L253.1 477.14 L253.35 476.74 L253.6 477.38 L253.85 477.12 L254.1 477.2 L254.35 477.62 L254.6 476.82 L254.85 477.45 L255.1 476.73 L255.35 477.39 L255.6 477.5 L255.85 476.95 L256.1 477.24 L256.35 477.66 L256.6 477.33 L256.85 477.24 L257.1 476.94 L257.35 476.75 L257.6 477.05 L257.85 477.1 L258.1 476.89 L258.35 477 L258.6 476.83 L258.85 477.4 L259.1 477.36 L259.35 476.93 L259.6 476.94 L259.85 477.21 L260.1 477.14 L260.35 477.63 L260.6 477.05 L260.85 476.99 L261.1 477.58 L261.35 476.84" stroke="#000" stroke-width="1.4" fill="none" stroke-linejoin="round" />
<rect x="30" y="214.85" width="232" height="270.95" fill="none" stroke="#000" stroke-width="1.5" />
<line x1="30" y1="303.4" x2="262" y2="303.4" stroke="#000" stroke-width="1.5" />
<line x1="30" y1="393.2" x2="262" y2="393.2" stroke="#000" stroke-width="1.5" />
<line x1="46.57" y1="303.4" x2="46.57" y2="301.2" stroke="#000" stroke-width="1.2" />
<line x1="63.14" y1="303.4" x2="63.14" y2="299.7" stroke="#000" stroke-width="1.2" />
<line x1="79.71" y1="303.4" x2="79.71" y2="301.2" stroke="#000" stroke-width="1.2" />
<line x1="96.29" y1="303.4" x2="96.29" y2="299.7" stroke="#000" stroke-width="1.2" />
<line x1="112.86" y1="303.4" x2="112.86" y2="301.2" stroke="#000" stroke-width="1.2" />
<line x1="129.43" y1="303.4" x2="129.43" y2="299.7" stroke="#000" stroke-width="1.2" />
<line x1="146" y1="303.4" x2="146" y2="301.2" stroke="#000" stroke-width="1.2" />
<line x1="162.57" y1="303.4" x2="162.57" y2="299.7" stroke="#000" stroke-width="1.2" />
<line x1="179.14" y1="303.4" x2="179.14" y2="301.2" stroke="#000" stroke-width="1.2" />
<line x1="195.71" y1="303.4" x2="195.71" y2="299.7" stroke="#000" stroke-width="1.2" />
<line x1="212.29" y1="303.4" x2="212.29" y2="301.2" stroke="#000" stroke-width="1.2" />
<line x1="228.86" y1="303.4" x2="228.86" y2="299.7" stroke="#000" stroke-width="1.2" />
<line x1="245.43" y1="303.4" x2="245.43" y2="301.2" stroke="#000" stroke-width="1.2" />
<line x1="46.57" y1="393.2" x2="46.57" y2="391" stroke="#000" stroke-width="1.2" />
<line x1="63.14" y1="393.2" x2="63.14" y2="389.5" stroke="#000" stroke-width="1.2" />
<line x1="79.71" y1="393.2" x2="79.71" y2="391" stroke="#000" stroke-width="1.2" />
<line x1="96.29" y1="393.2" x2="96.29" y2="389.5" stroke="#000" stroke-width="1.2" />
<line x1="112.86" y1="393.2" x2="112.86" y2="391" stroke="#000" stroke-width="1.2" />
<line x1="129.43" y1="393.2" x2="129.43" y2="389.5" stroke="#000" stroke-width="1.2" />
<line x1="146" y1="393.2" x2="146" y2="391" stroke="#000" stroke-width="1.2" />
<line x1="162.57" y1="393.2" x2="162.57" y2="389.5" stroke="#000" stroke-width="1.2" />
<line x1="179.14" y1="393.2" x2="179.14" y2="391" stroke="#000" stroke-width="1.2" />
<line x1="195.71" y1="393.2" x2="195.71" y2="389.5" stroke="#000" stroke-width="1.2" />
<line x1="212.29" y1="393.2" x2="212.29" y2="391" stroke="#000" stroke-width="1.2" />
<line x1="228.86" y1="393.2" x2="228.86" y2="389.5" stroke="#000" stroke-width="1.2" />
<line x1="245.43" y1="393.2" x2="245.43" y2="391" stroke="#000" stroke-width="1.2" />
<line x1="46.57" y1="485.8" x2="46.57" y2="483.6" stroke="#000" stroke-width="1.2" />
<line x1="63.14" y1="485.8" x2="63.14" y2="482.1" stroke="#000" stroke-width="1.2" />
<line x1="79.71" y1="485.8" x2="79.71" y2="483.6" stroke="#000" stroke-width="1.2" />
<line x1="96.29" y1="485.8" x2="96.29" y2="482.1" stroke="#000" stroke-width="1.2" />
<line x1="112.86" y1="485.8" x2="112.86" y2="483.6" stroke="#000" stroke-width="1.2" />
<line x1="129.43" y1="485.8" x2="129.43" y2="482.1" stroke="#000" stroke-width="1.2" />
<line x1="146" y1="485.8" x2="146" y2="483.6" stroke="#000" stroke-width="1.2" />
<line x1="162.57" y1="485.8" x2="162.57" y2="482.1" stroke="#000" stroke-width="1.2" />
<line x1="179.14" y1="485.8" x2="179.14" y2="483.6" stroke="#000" stroke-width="1.2" />
<line x1="195.71" y1="485.8" x2="195.71" y2="482.1" stroke="#000" stroke-width="1.2" />
<line x1="212.29" y1="485.8" x2="212.29" y2="483.6" stroke="#000" stroke-width="1.2" />
<line x1="228.86" y1="485.8" x2="228.86" y2="482.1" stroke="#000" stroke-width="1.2" />
<line x1="245.43" y1="485.8" x2="245.43" y2="483.6" stroke="#000" stroke-width="1.2" />
<text x="30" y="500.9" font-size="12" font-weight="bold" text-anchor="middle" fill="#000" >10</text>
<text x="63.14" y="500.9" font-size="12" font-weight="bold" text-anchor="middle" fill="#000" >20</text>
<text x="96.29" y="500.9" font-size="12" font-weight="bold" text-anchor="middle" fill="#000" >30</text>
<text x="129.43" y="500.9" font-size="12" font-weight="bold" text-anchor="middle" fill="#000" >40</text>
<text x="162.57" y="500.9" font-size="12" font-weight="bold" text-anchor="middle" fill="#000" >50</text>
<text x="195.71" y="500.9" font-size="12" font-weight="bold" text-anchor="middle" fill="#000" >60</text>
<text x="228.86" y="500.9" font-size="12" font-weight="bold" text-anchor="middle" fill="#000" >70</text>
<text x="262" y="500.9" font-size="12" font-weight="bold" text-anchor="middle" fill="#000" >80</text>
<text x="147" y="533.57" font-size="15" font-weight="bold" text-anchor="middle" fill="#000" >2θ(degree)</text>
<text transform="translate(16.6,348.6) rotate(-90)" font-size="14.8" font-weight="bold" text-anchor="middle" fill="#000" >Intensity (a.u.)</text>
<text x="248.8" y="230.77" font-size="15" font-weight="bold" text-anchor="end" fill="#000" >DCNPs</text>
<text x="231.8" y="320.97" font-size="15" font-weight="bold" text-anchor="end" fill="#000" >PB</text>
<text x="257.2" y="412.77" font-size="15" font-weight="bold" text-anchor="end" fill="#000" >DCNP@PB</text>
<circle cx="52.2" cy="237.9" r="3.1" fill="#1c67ad" />
<circle cx="93.9" cy="229.8" r="3.1" fill="#1c67ad" />
<circle cx="109.8" cy="280.9" r="3.1" fill="#1c67ad" />
<circle cx="125.1" cy="280.9" r="3.1" fill="#1c67ad" />
<circle cx="137.8" cy="244.8" r="3.1" fill="#1c67ad" />
<circle cx="170.7" cy="249" r="3.1" fill="#1c67ad" />
<circle cx="53.9" cy="316.7" r="3.1" fill="#cc2277" />
<circle cx="78" cy="344.4" r="3.1" fill="#cc2277" />
<circle cx="112.8" cy="348.6" r="3.1" fill="#cc2277" />
<circle cx="127.7" cy="363.2" r="3.1" fill="#cc2277" />
<circle cx="139.5" cy="367.8" r="3.1" fill="#cc2277" />
<circle cx="52.2" cy="404" r="3.1" fill="#1c67ad" />
<circle cx="93.9" cy="421" r="3.1" fill="#1c67ad" />
<circle cx="109.8" cy="457.7" r="3.1" fill="#1c67ad" />
<circle cx="124.8" cy="457.7" r="3.1" fill="#1c67ad" />
<circle cx="137.8" cy="430.1" r="3.1" fill="#1c67ad" />
<circle cx="170.4" cy="434.3" r="3.1" fill="#1c67ad" />
<circle cx="52.2" cy="412.4" r="3.1" fill="#cc2277" />
<circle cx="78" cy="465.4" r="3.1" fill="#cc2277" />
<circle cx="113.1" cy="466.2" r="3.1" fill="#cc2277" />
<circle cx="128.1" cy="466.2" r="3.1" fill="#cc2277" />
<circle cx="139.8" cy="438.5" r="3.1" fill="#cc2277" />
</g>
<g id="panel_e">
<text x="281" y="202.4" font-size="21.5" font-weight="bold" text-anchor="middle" fill="#000" >E</text>
<rect x="343.2" y="217" width="34.9" height="62.4" fill="#fa7e7e" stroke="#260808" stroke-width="1.2" />
<rect x="396.6" y="279.4" width="35.1" height="33" fill="#fa7e7e" stroke="#260808" stroke-width="1.2" />
<line x1="360.6" y1="213.5" x2="360.6" y2="219.4" stroke="#000" stroke-width="1.2" /><line x1="351.5" y1="213.5" x2="369.7" y2="213.5" stroke="#000" stroke-width="1.2" /><line x1="351.5" y1="219.4" x2="369.7" y2="219.4" stroke="#000" stroke-width="1.2" />
<circle cx="358.5" cy="213.4" r="1.3" fill="#000" />
<circle cx="363" cy="215.3" r="1.3" fill="#000" />
<circle cx="360.7" cy="220" r="1.3" fill="#000" />
<line x1="414.2" y1="309.6" x2="414.2" y2="315.7" stroke="#000" stroke-width="1.2" /><line x1="405.1" y1="309.6" x2="423.3" y2="309.6" stroke="#000" stroke-width="1.2" /><line x1="405.1" y1="315.7" x2="423.3" y2="315.7" stroke="#000" stroke-width="1.2" />
<circle cx="413.9" cy="309.4" r="1.3" fill="#000" />
<circle cx="414.6" cy="313.2" r="1.3" fill="#000" />
<circle cx="412.4" cy="315.8" r="1.3" fill="#000" />
<line x1="458.2" y1="278.6" x2="476.2" y2="278.6" stroke="#000" stroke-width="1.9" />
<circle cx="464" cy="278.7" r="1.3" fill="#000" />
<circle cx="468.3" cy="277.8" r="1.4" fill="#000" />
<circle cx="472" cy="278.7" r="1.3" fill="#000" />
<rect x="325.1" y="208" width="178.1" height="118.8" fill="none" stroke="#222" stroke-width="1.5" />
<line x1="325.1" y1="279.4" x2="503.2" y2="279.4" stroke="#000" stroke-width="1.3" />
<line x1="321.9" y1="208.3" x2="325.1" y2="208.3" stroke="#222" stroke-width="1.2" />
<text x="320.9" y="211.89" font-size="11.7" font-weight="bold" text-anchor="end" fill="#000" >30</text>
<line x1="321.9" y1="232" x2="325.1" y2="232" stroke="#222" stroke-width="1.2" />
<text x="320.9" y="235.59" font-size="11.7" font-weight="bold" text-anchor="end" fill="#000" >20</text>
<line x1="321.9" y1="255.7" x2="325.1" y2="255.7" stroke="#222" stroke-width="1.2" />
<text x="320.9" y="259.29" font-size="11.7" font-weight="bold" text-anchor="end" fill="#000" >10</text>
<line x1="321.9" y1="279.4" x2="325.1" y2="279.4" stroke="#222" stroke-width="1.2" />
<text x="320.9" y="282.99" font-size="11.7" font-weight="bold" text-anchor="end" fill="#000" >0</text>
<line x1="321.9" y1="303.1" x2="325.1" y2="303.1" stroke="#222" stroke-width="1.2" />
<text x="320.9" y="306.69" font-size="11.7" font-weight="bold" text-anchor="end" fill="#000" >-10</text>
<line x1="321.9" y1="326.8" x2="325.1" y2="326.8" stroke="#222" stroke-width="1.2" />
<text x="320.9" y="330.39" font-size="11.7" font-weight="bold" text-anchor="end" fill="#000" >-20</text>
<text x="356.4" y="345.65" font-size="8.8" font-weight="bold" text-anchor="middle" fill="#000" >DCNP@PVP</text>
<text x="413.9" y="345.65" font-size="8.8" font-weight="bold" text-anchor="middle" fill="#000" >DCNP@PAA</text>
<text x="470.3" y="345.65" font-size="8.8" font-weight="bold" text-anchor="middle" fill="#000" >DCNP@PB</text>
<text transform="translate(296.44,268.6) rotate(-90)" font-size="13.8" font-weight="bold" text-anchor="middle" fill="#000" >Zeta potential (mV)</text>
</g>
<g id="panel_f">
<text x="515.9" y="202.3" font-size="21.5" font-weight="bold" text-anchor="middle" fill="#000" >F</text>
<path d="M559 302.9 L559.3 302.77 L559.66 302.62 L560.1 302.46 L560.59 302.27 L561.11 302.07 L561.67 301.84 L562.26 301.59 L562.85 301.31 L563.44 301.01 L564.02 300.67 L564.58 300.3 L565.1 299.9 L565.6 299.47 L566.1 299.03 L566.6 298.58 L567.1 298.1 L567.6 297.59 L568.1 297.04 L568.6 296.46 L569.1 295.84 L569.6 295.16 L570.1 294.44 L570.6 293.65 L571.1 292.8 L571.6 291.88 L572.11 290.9 L572.62 289.86 L573.13 288.77 L573.63 287.63 L574.14 286.44 L574.65 285.22 L575.16 283.96 L575.67 282.68 L576.18 281.37 L576.69 280.04 L577.2 278.7 L577.71 277.33 L578.22 275.93 L578.73 274.48 L579.24 273.01 L579.75 271.5 L580.26 269.97 L580.77 268.43 L581.27 266.86 L581.78 265.28 L582.29 263.69 L582.8 262.1 L583.3 260.5 L583.8 258.88 L584.3 257.21 L584.8 255.52 L585.3 253.8 L585.8 252.06 L586.3 250.32 L586.8 248.59 L587.3 246.88 L587.8 245.2 L588.3 243.55 L588.8 241.94 L589.3 240.4 L589.81 238.89 L590.32 237.38 L590.84 235.89 L591.37 234.41 L591.89 232.96 L592.41 231.55 L592.93 230.18 L593.44 228.86 L593.95 227.59 L594.45 226.39 L594.93 225.25 L595.4 224.2 L595.86 223.23 L596.31 222.32 L596.75 221.49 L597.19 220.71 L597.61 219.99 L598.03 219.32 L598.44 218.7 L598.85 218.12 L599.25 217.58 L599.64 217.06 L600.02 216.57 L600.4 216.1 L600.77 215.66 L601.12 215.26 L601.47 214.9 L601.8 214.57 L602.13 214.29 L602.46 214.03 L602.78 213.81 L603.1 213.61 L603.42 213.45 L603.74 213.31 L604.07 213.19 L604.4 213.1 L604.74 213.03 L605.07 212.99 L605.4 212.97 L605.73 212.99 L606.06 213.03 L606.39 213.09 L606.72 213.19 L607.06 213.31 L607.41 213.47 L607.76 213.65 L608.13 213.86 L608.5 214.1 L608.88 214.37 L609.27 214.67 L609.66 214.99 L610.06 215.35 L610.46 215.73 L610.88 216.14 L611.29 216.58 L611.72 217.05 L612.15 217.55 L612.59 218.07 L613.04 218.62 L613.5 219.2 L613.97 219.82 L614.45 220.47 L614.95 221.17 L615.46 221.9 L615.97 222.66 L616.49 223.44 L617.01 224.24 L617.53 225.05 L618.06 225.87 L618.58 226.68 L619.09 227.5 L619.6 228.3 L620.11 229.1 L620.61 229.92 L621.12 230.75 L621.63 231.59 L622.14 232.43 L622.64 233.28 L623.15 234.12 L623.65 234.97 L624.14 235.81 L624.64 236.65 L625.12 237.48 L625.6 238.3 L626.08 239.11 L626.55 239.93 L627.02 240.75 L627.49 241.57 L627.96 242.38 L628.42 243.19 L628.87 243.99 L629.32 244.78 L629.76 245.56 L630.18 246.32 L630.6 247.07 L631 247.8 L631.4 248.53 L631.81 249.29 L632.21 250.05 L632.61 250.81 L633.01 251.57 L633.39 252.29 L633.75 252.99 L634.09 253.64 L634.39 254.24 L634.67 254.77 L634.91 255.23 L635.1 255.6 L635.6 258.3 L635.83 258.7 L636.11 259.19 L636.43 259.75 L636.79 260.39 L637.19 261.08 L637.61 261.82 L638.06 262.6 L638.54 263.41 L639.04 264.25 L639.55 265.1 L640.07 265.95 L640.6 266.8 L641.15 267.67 L641.74 268.59 L642.35 269.55 L642.99 270.55 L643.65 271.56 L644.33 272.59 L645.01 273.63 L645.7 274.65 L646.38 275.66 L647.07 276.65 L647.74 277.6 L648.4 278.5 L649.05 279.37 L649.7 280.22 L650.35 281.05 L651 281.86 L651.65 282.66 L652.3 283.44 L652.95 284.21 L653.6 284.97 L654.25 285.72 L654.9 286.45 L655.55 287.18 L656.2 287.9 L656.85 288.61 L657.5 289.31 L658.15 290 L658.8 290.68 L659.45 291.34 L660.1 292 L660.75 292.64 L661.4 293.28 L662.05 293.9 L662.7 294.51 L663.35 295.11 L664 295.7 L664.65 296.28 L665.3 296.84 L665.95 297.39 L666.6 297.92 L667.25 298.45 L667.9 298.96 L668.55 299.47 L669.2 299.97 L669.85 300.46 L670.5 300.94 L671.15 301.42 L671.8 301.9 L672.45 302.37 L673.1 302.84 L673.75 303.29 L674.4 303.74 L675.05 304.19 L675.7 304.62 L676.35 305.05 L677 305.48 L677.65 305.89 L678.3 306.3 L678.95 306.7 L679.6 307.1 L680.25 307.49 L680.9 307.87 L681.55 308.25 L682.2 308.61 L682.85 308.98 L683.5 309.33 L684.15 309.68 L684.8 310.02 L685.45 310.35 L686.1 310.68 L686.75 310.99 L687.4 311.3 L688.05 311.6 L688.7 311.89 L689.35 312.17 L690 312.44 L690.65 312.71 L691.3 312.96 L691.95 313.21 L692.6 313.46 L693.25 313.7 L693.9 313.94 L694.55 314.17 L695.2 314.4 L695.85 314.63 L696.5 314.85 L697.15 315.06 L697.8 315.27 L698.45 315.48 L699.1 315.68 L699.75 315.88 L700.4 316.07 L701.05 316.26 L701.7 316.44 L702.35 316.62 L703 316.8 L703.65 316.97 L704.3 317.14 L704.95 317.3 L705.6 317.45 L706.25 317.6 L706.9 317.75 L707.55 317.89 L708.2 318.04 L708.85 318.18 L709.5 318.32 L710.15 318.46 L710.8 318.6 L711.46 318.74 L712.14 318.89 L712.83 319.03 L713.53 319.18 L714.22 319.32 L714.91 319.46 L715.59 319.6 L716.25 319.73 L716.89 319.86 L717.5 319.98 L718.07 320.1 L718.6 320.2 L719.1 320.3 L719.58 320.39 L720.04 320.48 L720.48 320.56 L720.9 320.63 L721.29 320.7 L721.65 320.76 L721.99 320.82 L722.29 320.88 L722.56 320.92 L722.8 320.96 L723 321" stroke="#000" stroke-width="1.4" fill="none" stroke-linejoin="round" />
<path d="M604 321.08 L604.3 320.91 L604.6 320.68 L604.9 320.4 L605.2 320.06 L605.5 319.67 L605.8 319.21 L606.1 318.65 L606.4 317.92 L606.7 316.9 L607 315.41 L607.3 313.22 L607.6 310.09 L607.9 305.77 L608.2 300.1 L608.5 293.02 L608.8 284.66 L609.1 275.37 L609.4 265.7 L609.7 256.39 L610 248.26 L610.3 242.11 L610.6 238.58 L610.9 238.07 L611.2 240.63 L611.5 245.99 L611.8 253.59 L612.1 262.66 L612.4 272.39 L612.7 282.01 L613 290.9 L613.3 298.66 L613.6 305.07 L613.9 310.1 L614.2 313.87 L614.5 316.57 L614.8 318.41 L615.1 319.62 L615.4 320.38 L615.7 320.84 L616 321.1 L616.3 321.25 L616.6 321.32 L616.9 321.36 L617.2 321.38 L617.5 321.38 L617.8 321.36 L618.1 321.33 L618.4 321.26 L618.7 321.12 L619 320.89 L619.3 320.49 L619.6 319.83 L619.9 318.82 L620.2 317.31 L620.5 315.17 L620.8 312.3 L621.1 308.61 L621.4 304.14 L621.7 299.01 L622 293.5 L622.3 287.99 L622.6 282.97 L622.9 278.92 L623.2 276.28 L623.5 275.35 L623.8 276.22 L624.1 278.79 L624.4 282.75 L624.7 287.64 L625 292.96 L625.3 298.23 L625.6 303.05 L625.9 307.15 L626.2 310.39 L626.5 312.78 L626.8 314.41 L627.1 315.42 L627.4 315.99 L627.7 316.29 L628 316.47 L628.3 316.63 L628.6 316.84 L628.9 317.13 L629.2 317.52 L629.5 317.99 L629.8 318.49 L630.1 319.01 L630.4 319.5 L630.7 319.94 L631 320.32 L631.3 320.62 L631.6 320.86 L631.9 321.04 L632.2 321.17 L632.5 321.26 L632.8 321.31 L633.1 321.35 L633.4 321.37 L633.7 321.38 L634 321.39 L634.3 321.4 L634.6 321.4 L634.9 321.4 L635.2 321.4 L635.5 321.4 L635.8 321.4" stroke="#1a1aa8" stroke-width="1.3" fill="none" stroke-linejoin="round" />
<path d="M646.4 314.64 L646.75 315.66 L647.1 316.41 L647.45 316.96 L647.8 317.41 L648.15 317.87 L648.5 318.37 L648.85 318.89 L649.2 319.34 L649.55 319.65 L649.9 319.79 L650.25 319.84 L650.6 319.87 L650.95 319.98 L651.3 320.19 L651.65 320.45 L652 320.66 L652.35 320.75 L652.7 320.72 L653.05 320.61 L653.4 320.54 L653.75 320.57 L654.1 320.71 L654.45 320.89 L654.8 321.02 L655.15 321.02 L655.5 320.9 L655.85 320.74 L656.2 320.63 L656.55 320.63 L656.9 320.72 L657.25 320.82 L657.6 320.85 L657.95 320.74 L658.3 320.51 L658.65 320.24 L659 320.03 L659.35 319.92 L659.7 319.89 L660.05 319.85 L660.4 319.71 L660.75 319.45 L661.1 319.09 L661.45 318.72 L661.8 318.46 L662.15 318.33 L662.5 318.29 L662.85 318.28 L663.2 318.19 L663.55 318.02 L663.9 317.8 L664.25 317.64 L664.6 317.62 L664.95 317.75 L665.3 317.97 L665.65 318.19 L666 318.31 L666.35 318.33 L666.7 318.3 L667.05 318.3 L667.4 318.41 L667.75 318.62 L668.1 318.86 L668.45 319.04 L668.8 319.08 L669.15 318.99 L669.5 318.85 L669.85 318.75 L670.2 318.75 L670.55 318.85 L670.9 318.97 L671.25 319.03 L671.6 318.98 L671.95 318.82 L672.3 318.65 L672.65 318.56 L673 318.61 L673.35 318.76 L673.7 318.94 L674.05 319.04 L674.4 319.02 L674.75 318.9 L675.1 318.73 L675.45 318.58 L675.8 318.42 L676.15 318.14 L676.5 317.53 L676.85 316.38 L677.2 314.51 L677.55 311.81 L677.9 308.29 L678.25 303.98 L678.6 298.97 L678.95 293.42 L679.3 287.58 L679.65 281.85 L680 276.75 L680.35 272.85 L680.7 270.67 L681.05 270.52 L681.4 272.42 L681.75 276.11 L682.1 281.07 L682.45 286.73 L682.8 292.56 L683.15 298.13 L683.5 303.18 L683.85 307.55 L684.2 311.14 L684.55 313.91 L684.9 315.87 L685.25 317.11 L685.6 317.79 L685.95 318.14 L686.3 318.37 L686.65 318.61 L687 318.9 L687.35 319.18 L687.7 319.39 L688.05 319.49 L688.4 319.5 L688.75 319.52 L689.1 319.63 L689.45 319.86 L689.8 320.17 L690.15 320.46 L690.5 320.64 L690.85 320.69 L691.2 320.64 L691.55 320.58 L691.9 320.61 L692.25 320.74 L692.6 320.94 L692.95 321.1 L693.3 321.15 L693.65 321.07 L694 320.92 L694.35 320.81 L694.7 320.8 L695.05 320.91 L695.4 321.06 L695.75 321.18 L696.1 321.18 L696.45 321.07 L696.8 320.92 L697.15 320.81 L697.5 320.82 L697.85 320.94 L698.2 321.1 L698.55 321.19 L698.9 321.17 L699.25 321.04 L699.6 320.89 L699.95 320.8 L700.3 320.84 L700.65 320.97 L701 321.12 L701.35 321.2 L701.7 321.15 L702.05 321.01 L702.4 320.86 L702.75 320.8 L703.1 320.86 L703.45 321 L703.8 321.15 L704.15 321.2 L704.5 321.13 L704.85 320.98 L705.2 320.84 L705.55 320.8 L705.9 320.88 L706.25 321.03 L706.6 321.17 L706.95 321.2 L707.3 321.11 L707.65 320.95 L708 320.83 L708.35 320.81 L708.7 320.91 L709.05 321.06 L709.4 321.18 L709.75 321.19 L710.1 321.08 L710.45 320.92 L710.8 320.81 L711.15 320.82 L711.5 320.94 L711.85 321.09 L712.2 321.19 L712.55 321.17 L712.9 321.05 L713.25 320.89 L713.6 320.8 L713.95 320.84 L714.3 320.97 L714.65 321.12 L715 321.2 L715.35 321.16 L715.7 321.02 L716.05 320.87 L716.4 320.8 L716.75 320.85 L717.1 321 L717.45 321.14 L717.8 321.2 L718.15 321.13 L718.5 320.99 L718.85 320.85 L719.2 320.8 L719.55 320.88 L719.9 321.03 L720.25 321.16 L720.6 321.2 L720.95 321.11 L721.3 320.95 L721.65 320.83 L722 320.81 L722.35 320.9" stroke="#c41f27" stroke-width="1.3" fill="none" stroke-linejoin="round" />
<line x1="559" y1="206.8" x2="559" y2="326.95" stroke="#000" stroke-width="1.3" />
<line x1="558.35" y1="326.95" x2="723.75" y2="326.95" stroke="#000" stroke-width="1.3" />
<line x1="558.35" y1="206.8" x2="723.1" y2="206.8" stroke="#000" stroke-width="1.3" />
<line x1="723.1" y1="206.15" x2="723.1" y2="327.6" stroke="#c41f27" stroke-width="1.4" />
<line x1="556" y1="326.95" x2="559" y2="326.95" stroke="#000" stroke-width="1.0" />
<text x="554.8" y="329.6" font-size="11.3" font-weight="bold" text-anchor="end" fill="#000" >0.0</text>
<line x1="723.1" y1="326.95" x2="726.1" y2="326.95" stroke="#c41f27" stroke-width="1.0" />
<text x="727.5" y="329.5" font-size="11.3" font-weight="bold" text-anchor="start" fill="#c41f27" >0.0</text>
<line x1="557.2" y1="315.28" x2="559" y2="315.28" stroke="#000" stroke-width="1.0" />
<line x1="723.1" y1="315.28" x2="724.9" y2="315.28" stroke="#c41f27" stroke-width="1.0" />
<line x1="556" y1="303.62" x2="559" y2="303.62" stroke="#000" stroke-width="1.0" />
<text x="554.8" y="306.26" font-size="11.3" font-weight="bold" text-anchor="end" fill="#000" >0.3</text>
<line x1="723.1" y1="303.62" x2="726.1" y2="303.62" stroke="#c41f27" stroke-width="1.0" />
<text x="727.5" y="306.16" font-size="11.3" font-weight="bold" text-anchor="start" fill="#c41f27" >0.3</text>
<line x1="557.2" y1="291.95" x2="559" y2="291.95" stroke="#000" stroke-width="1.0" />
<line x1="723.1" y1="291.95" x2="724.9" y2="291.95" stroke="#c41f27" stroke-width="1.0" />
<line x1="556" y1="280.29" x2="559" y2="280.29" stroke="#000" stroke-width="1.0" />
<text x="554.8" y="282.93" font-size="11.3" font-weight="bold" text-anchor="end" fill="#000" >0.6</text>
<line x1="723.1" y1="280.29" x2="726.1" y2="280.29" stroke="#c41f27" stroke-width="1.0" />
<text x="727.5" y="282.83" font-size="11.3" font-weight="bold" text-anchor="start" fill="#c41f27" >0.6</text>
<line x1="557.2" y1="268.62" x2="559" y2="268.62" stroke="#000" stroke-width="1.0" />
<line x1="723.1" y1="268.62" x2="724.9" y2="268.62" stroke="#c41f27" stroke-width="1.0" />
<line x1="556" y1="256.96" x2="559" y2="256.96" stroke="#000" stroke-width="1.0" />
<text x="554.8" y="259.6" font-size="11.3" font-weight="bold" text-anchor="end" fill="#000" >0.9</text>
<line x1="723.1" y1="256.96" x2="726.1" y2="256.96" stroke="#c41f27" stroke-width="1.0" />
<text x="727.5" y="259.5" font-size="11.3" font-weight="bold" text-anchor="start" fill="#c41f27" >0.9</text>
<line x1="557.2" y1="245.29" x2="559" y2="245.29" stroke="#000" stroke-width="1.0" />
<line x1="723.1" y1="245.29" x2="724.9" y2="245.29" stroke="#c41f27" stroke-width="1.0" />
<line x1="556" y1="233.63" x2="559" y2="233.63" stroke="#000" stroke-width="1.0" />
<text x="554.8" y="236.27" font-size="11.3" font-weight="bold" text-anchor="end" fill="#000" >1.2</text>
<line x1="723.1" y1="233.63" x2="726.1" y2="233.63" stroke="#c41f27" stroke-width="1.0" />
<text x="727.5" y="236.17" font-size="11.3" font-weight="bold" text-anchor="start" fill="#c41f27" >1.2</text>
<line x1="557.2" y1="221.96" x2="559" y2="221.96" stroke="#000" stroke-width="1.0" />
<line x1="723.1" y1="221.96" x2="724.9" y2="221.96" stroke="#c41f27" stroke-width="1.0" />
<line x1="556" y1="210.29" x2="559" y2="210.29" stroke="#000" stroke-width="1.0" />
<text x="554.8" y="212.94" font-size="11.3" font-weight="bold" text-anchor="end" fill="#000" >1.5</text>
<line x1="723.1" y1="210.29" x2="726.1" y2="210.29" stroke="#c41f27" stroke-width="1.0" />
<text x="727.5" y="212.84" font-size="11.3" font-weight="bold" text-anchor="start" fill="#c41f27" >1.5</text>
<line x1="559" y1="326.95" x2="559" y2="329.95" stroke="#000" stroke-width="1.0" />
<text x="560.3" y="341.05" font-size="11.3" font-weight="bold" text-anchor="middle" fill="#000" >500</text>
<line x1="613.7" y1="326.95" x2="613.7" y2="329.95" stroke="#000" stroke-width="1.0" />
<text x="615" y="341.05" font-size="11.3" font-weight="bold" text-anchor="middle" fill="#000" >750</text>
<line x1="668.4" y1="326.95" x2="668.4" y2="329.95" stroke="#000" stroke-width="1.0" />
<text x="669.7" y="341.05" font-size="11.3" font-weight="bold" text-anchor="middle" fill="#000" >1000</text>
<line x1="723.1" y1="326.95" x2="723.1" y2="329.95" stroke="#000" stroke-width="1.0" />
<text x="724.4" y="341.05" font-size="11.3" font-weight="bold" text-anchor="middle" fill="#000" >1250</text>
<line x1="586.35" y1="326.95" x2="586.35" y2="328.75" stroke="#000" stroke-width="1.0" />
<line x1="641.05" y1="326.95" x2="641.05" y2="328.75" stroke="#000" stroke-width="1.0" />
<line x1="695.75" y1="326.95" x2="695.75" y2="328.75" stroke="#000" stroke-width="1.0" />
<text x="641" y="358.17" font-size="15" font-weight="bold" text-anchor="middle" fill="#000" >Wavelength (nm)</text>
<text transform="translate(530.97,268) rotate(-90)" font-size="15" font-weight="bold" text-anchor="middle" fill="#000" >Absorbance (a.u.)</text>
<text transform="translate(761.97,264.5) rotate(-90)" font-size="15" font-weight="bold" text-anchor="middle" fill="#c41f27" >Intensity (a.u.)</text>
<line x1="635.1" y1="217.6" x2="647.5" y2="217.6" stroke="#000" stroke-width="1.3" />
<text x="651.4" y="221.36" font-size="10.5" font-weight="bold" text-anchor="start" fill="#000" >PB (Abs)</text>
<line x1="635.1" y1="230.2" x2="647.5" y2="230.2" stroke="#c8464f" stroke-width="1.3" />
<text x="651.4" y="233.96" font-size="10.5" font-weight="bold" text-anchor="start" fill="#000" >DCNPs(Em)</text>
<line x1="635.1" y1="242.6" x2="647.5" y2="242.6" stroke="#3535a2" stroke-width="1.3" />
<text x="651.4" y="246.36" font-size="10.5" font-weight="bold" text-anchor="start" fill="#000" >DCNPs(Ex)</text>
</g>
<g id="panel_g">
<text x="282.3" y="375.6" font-size="21.5" font-weight="bold" text-anchor="middle" fill="#000" >G</text>
<path d="M333.17 471.16 L333.37 471.09 L333.62 471.02 L333.92 470.95 L334.25 470.87 L334.61 470.78 L334.99 470.68 L335.39 470.55 L335.8 470.4 L336.21 470.23 L336.62 470.03 L337.02 469.79 L337.4 469.52 L337.77 469.21 L338.15 468.89 L338.54 468.55 L338.93 468.18 L339.32 467.79 L339.72 467.37 L340.12 466.92 L340.51 466.43 L340.91 465.91 L341.31 465.35 L341.7 464.75 L342.1 464.11 L342.49 463.42 L342.88 462.69 L343.27 461.91 L343.66 461.1 L344.06 460.25 L344.45 459.37 L344.84 458.45 L345.23 457.51 L345.62 456.55 L346.01 455.56 L346.41 454.56 L346.8 453.54 L347.19 452.49 L347.58 451.39 L347.97 450.26 L348.36 449.1 L348.76 447.91 L349.15 446.71 L349.54 445.49 L349.93 444.27 L350.32 443.05 L350.71 441.83 L351.1 440.63 L351.5 439.44 L351.89 438.26 L352.28 437.08 L352.67 435.89 L353.06 434.7 L353.45 433.51 L353.85 432.32 L354.24 431.13 L354.63 429.95 L355.02 428.78 L355.41 427.62 L355.8 426.48 L356.2 425.34 L356.59 424.21 L356.98 423.08 L357.37 421.95 L357.76 420.82 L358.15 419.7 L358.55 418.59 L358.94 417.49 L359.33 416.42 L359.72 415.37 L360.11 414.36 L360.5 413.37 L360.89 412.42 L361.29 411.5 L361.68 410.61 L362.07 409.75 L362.46 408.91 L362.85 408.1 L363.24 407.31 L363.64 406.54 L364.03 405.8 L364.42 405.07 L364.81 404.37 L365.2 403.69 L365.59 403.02 L365.99 402.37 L366.38 401.75 L366.77 401.14 L367.16 400.56 L367.55 399.99 L367.94 399.45 L368.34 398.93 L368.73 398.43 L369.12 397.96 L369.51 397.51 L369.9 397.08 L370.29 396.68 L370.69 396.3 L371.09 395.95 L371.5 395.63 L371.9 395.33 L372.31 395.05 L372.72 394.8 L373.12 394.56 L373.51 394.34 L373.9 394.14 L374.28 393.96 L374.64 393.78 L374.99 393.62 L375.33 393.48 L375.65 393.36 L375.96 393.25 L376.25 393.17 L376.54 393.1 L376.83 393.05 L377.11 393.01 L377.39 392.98 L377.66 392.96 L377.94 392.94 L378.23 392.93 L378.52 392.92 L378.81 392.91 L379.09 392.89 L379.37 392.89 L379.65 392.88 L379.93 392.89 L380.21 392.9 L380.49 392.93 L380.78 392.98 L381.08 393.04 L381.39 393.13 L381.71 393.25 L382.04 393.39 L382.39 393.55 L382.74 393.74 L383.11 393.94 L383.48 394.16 L383.86 394.4 L384.24 394.66 L384.64 394.95 L385.04 395.25 L385.46 395.57 L385.88 395.92 L386.3 396.29 L386.74 396.68 L387.19 397.09 L387.65 397.54 L388.13 398 L388.61 398.5 L389.1 399.01 L389.6 399.54 L390.11 400.09 L390.61 400.65 L391.12 401.23 L391.62 401.82 L392.12 402.42 L392.61 403.02 L393.1 403.64 L393.59 404.27 L394.08 404.92 L394.57 405.58 L395.06 406.25 L395.55 406.94 L396.04 407.64 L396.53 408.35 L397.02 409.06 L397.51 409.78 L398 410.51 L398.49 411.24 L398.98 411.99 L399.47 412.75 L399.97 413.52 L400.46 414.3 L400.96 415.09 L401.46 415.88 L401.95 416.68 L402.44 417.48 L402.93 418.28 L403.41 419.08 L403.89 419.86 L404.36 420.64 L404.85 421.44 L405.35 422.29 L405.87 423.17 L406.4 424.05 L406.92 424.94 L407.43 425.81 L407.92 426.65 L408.38 427.44 L408.81 428.17 L409.18 428.81 L409.51 429.36 L409.77 429.81 L410.24 431.69 L410.52 432.12 L410.88 432.67 L411.29 433.31 L411.76 434.03 L412.27 434.81 L412.81 435.64 L413.37 436.49 L413.94 437.36 L414.5 438.22 L415.06 439.06 L415.6 439.87 L416.11 440.61 L416.6 441.33 L417.09 442.04 L417.58 442.75 L418.07 443.45 L418.56 444.15 L419.05 444.84 L419.54 445.53 L420.03 446.21 L420.52 446.88 L421.01 447.54 L421.5 448.2 L421.98 448.84 L422.47 449.47 L422.96 450.09 L423.45 450.69 L423.94 451.29 L424.43 451.88 L424.92 452.47 L425.41 453.04 L425.9 453.62 L426.39 454.19 L426.88 454.75 L427.37 455.32 L427.86 455.89 L428.35 456.46 L428.84 457.03 L429.33 457.6 L429.82 458.17 L430.31 458.73 L430.8 459.29 L431.29 459.85 L431.78 460.4 L432.26 460.93 L432.75 461.46 L433.24 461.97 L433.73 462.47 L434.22 462.95 L434.71 463.42 L435.2 463.88 L435.69 464.33 L436.18 464.77 L436.67 465.2 L437.16 465.62 L437.65 466.03 L438.14 466.44 L438.63 466.84 L439.12 467.24 L439.61 467.64 L440.09 468.02 L440.57 468.39 L441.05 468.75 L441.52 469.1 L442 469.44 L442.47 469.78 L442.95 470.12 L443.44 470.45 L443.93 470.8 L444.43 471.14 L444.95 471.5 L445.48 471.86 L446.03 472.24 L446.59 472.63 L447.16 473.03 L447.74 473.44 L448.33 473.85 L448.93 474.26 L449.53 474.67 L450.14 475.07 L450.74 475.46 L451.34 475.84 L451.94 476.21 L452.53 476.56 L453.11 476.9 L453.68 477.22 L454.24 477.53 L454.79 477.83 L455.35 478.12 L455.91 478.4 L456.48 478.68 L457.06 478.96 L457.65 479.23 L458.27 479.51 L458.91 479.8 L459.58 480.09 L460.28 480.39 L461.01 480.69 L461.76 481 L462.54 481.31 L463.33 481.62 L464.13 481.92 L464.94 482.23 L465.76 482.52 L466.57 482.81 L467.38 483.09 L468.19 483.36 L468.98 483.61 L469.76 483.85 L470.54 484.08 L471.33 484.3 L472.11 484.51 L472.89 484.71 L473.68 484.91 L474.46 485.09 L475.24 485.27 L476.03 485.45 L476.81 485.63 L477.59 485.8 L478.38 485.96 L479.16 486.13 L479.95 486.28 L480.74 486.43 L481.53 486.58 L482.32 486.72 L483.1 486.86 L483.89 486.99 L484.68 487.12 L485.46 487.25 L486.24 487.37 L487.01 487.49 L487.77 487.61 L488.56 487.73 L489.39 487.84 L490.25 487.96 L491.12 488.08 L491.98 488.19 L492.83 488.3 L493.64 488.4 L494.41 488.49 L495.11 488.58 L495.74 488.66 L496.27 488.73 L496.7 488.78" stroke="#b83040" stroke-width="1.8" fill="none" stroke-linejoin="round" />
<path d="M332.55 477.08 L344.76 480.57 L362.2 484.4 L379.64 486.5 L397.08 488.24 L409.29 489.46 L410.33 491.21 L424.98 492.43 L442.42 493.3 L470.33 493.12 L497.18 493.3" stroke="#000" stroke-width="1.8" fill="none" stroke-linejoin="round" />
<rect x="333.1" y="380.6" width="163.8" height="120.3" fill="none" stroke="#000" stroke-width="1.3" />
<line x1="330.1" y1="494.1" x2="333.1" y2="494.1" stroke="#000" stroke-width="1.0" />
<text x="328.6" y="496.54" font-size="11" font-weight="bold" text-anchor="end" fill="#000" >0.0</text>
<line x1="330.1" y1="458.67" x2="333.1" y2="458.67" stroke="#000" stroke-width="1.0" />
<text x="328.6" y="461.1" font-size="11" font-weight="bold" text-anchor="end" fill="#000" >0.5</text>
<line x1="330.1" y1="423.23" x2="333.1" y2="423.23" stroke="#000" stroke-width="1.0" />
<text x="328.6" y="425.67" font-size="11" font-weight="bold" text-anchor="end" fill="#000" >1.0</text>
<line x1="330.1" y1="387.8" x2="333.1" y2="387.8" stroke="#000" stroke-width="1.0" />
<text x="328.6" y="390.23" font-size="11" font-weight="bold" text-anchor="end" fill="#000" >1.5</text>
<line x1="331.3" y1="476.38" x2="333.1" y2="476.38" stroke="#000" stroke-width="1.0" />
<line x1="331.3" y1="440.95" x2="333.1" y2="440.95" stroke="#000" stroke-width="1.0" />
<line x1="331.3" y1="405.51" x2="333.1" y2="405.51" stroke="#000" stroke-width="1.0" />
<line x1="354.94" y1="500.9" x2="354.94" y2="503.9" stroke="#000" stroke-width="1.0" />
<text x="355.94" y="514.65" font-size="11.3" font-weight="bold" text-anchor="middle" fill="#000" >600</text>
<line x1="398.62" y1="500.9" x2="398.62" y2="503.9" stroke="#000" stroke-width="1.0" />
<text x="399.62" y="514.65" font-size="11.3" font-weight="bold" text-anchor="middle" fill="#000" >800</text>
<line x1="442.3" y1="500.9" x2="442.3" y2="503.9" stroke="#000" stroke-width="1.0" />
<text x="443.3" y="514.65" font-size="11.3" font-weight="bold" text-anchor="middle" fill="#000" >1000</text>
<line x1="485.98" y1="500.9" x2="485.98" y2="503.9" stroke="#000" stroke-width="1.0" />
<text x="486.98" y="514.65" font-size="11.3" font-weight="bold" text-anchor="middle" fill="#000" >1200</text>
<line x1="333.1" y1="500.9" x2="333.1" y2="502.7" stroke="#000" stroke-width="1.0" />
<line x1="376.78" y1="500.9" x2="376.78" y2="502.7" stroke="#000" stroke-width="1.0" />
<line x1="420.46" y1="500.9" x2="420.46" y2="502.7" stroke="#000" stroke-width="1.0" />
<line x1="464.14" y1="500.9" x2="464.14" y2="502.7" stroke="#000" stroke-width="1.0" />
<text x="419.8" y="533.07" font-size="15" font-weight="bold" text-anchor="middle" fill="#000" >Wavelength (nm)</text>
<text transform="translate(302.97,441.3) rotate(-90)" font-size="15" font-weight="bold" text-anchor="middle" fill="#000" >Absorbance (a.u.)</text>
<line x1="419.9" y1="386.9" x2="433.5" y2="386.9" stroke="#000" stroke-width="1.5" />
<text x="435.6" y="390.66" font-size="10.5" font-weight="bold" text-anchor="start" fill="#000" >DCNPs</text>
<line x1="419.9" y1="397.1" x2="433.5" y2="397.1" stroke="#bd3545" stroke-width="1.5" />
<text x="435.6" y="400.86" font-size="10.5" font-weight="bold" text-anchor="start" fill="#000" >DCNP@PB</text>
</g>
<g id="panel_h">
<text x="517.5" y="375.7" font-size="21.5" font-weight="bold" text-anchor="middle" fill="#000" >H</text>
<path d="M566.68 498.51 L568.08 498.52 L569.82 498.53 L571.86 498.54 L574.15 498.55 L576.64 498.56 L579.28 498.58 L582.04 498.59 L584.85 498.6 L587.68 498.61 L590.47 498.62 L593.18 498.63 L595.77 498.63 L598.36 498.63 L601.1 498.63 L603.94 498.63 L606.84 498.63 L609.75 498.63 L612.63 498.62 L615.44 498.61 L618.13 498.6 L620.64 498.59 L622.95 498.57 L625.01 498.54 L626.76 498.51 L628.19 498.47 L629.33 498.43 L630.23 498.38 L630.91 498.33 L631.43 498.28 L631.83 498.22 L632.14 498.16 L632.41 498.09 L632.69 498.02 L633 497.95 L633.39 497.87 L633.92 497.79 L634.51 497.71 L635.11 497.63 L635.7 497.54 L636.3 497.45 L636.9 497.36 L637.49 497.26 L638.09 497.16 L638.68 497.05 L639.28 496.95 L639.88 496.83 L640.47 496.72 L641.07 496.6 L641.68 496.48 L642.3 496.34 L642.94 496.2 L643.59 496.05 L644.23 495.89 L644.87 495.74 L645.49 495.59 L646.1 495.44 L646.68 495.29 L647.24 495.16 L647.75 495.04 L648.22 494.93 L648.64 494.84 L649.02 494.75 L649.37 494.68 L649.68 494.61 L649.97 494.54 L650.23 494.49 L650.49 494.43 L650.74 494.39 L650.99 494.34 L651.24 494.3 L651.51 494.26 L651.8 494.22 L652.09 494.18 L652.38 494.14 L652.66 494.1 L652.95 494.07 L653.23 494.04 L653.51 494.01 L653.8 493.99 L654.09 493.97 L654.4 493.96 L654.71 493.96 L655.03 493.96 L655.37 493.98 L655.73 494 L656.1 494.04 L656.48 494.07 L656.88 494.12 L657.28 494.17 L657.68 494.23 L658.1 494.3 L658.51 494.37 L658.92 494.44 L659.33 494.52 L659.74 494.61 L660.14 494.69 L660.54 494.79 L660.94 494.89 L661.34 495.01 L661.73 495.13 L662.13 495.25 L662.53 495.38 L662.92 495.51 L663.32 495.64 L663.72 495.77 L664.12 495.89 L664.51 496.01 L664.91 496.13 L665.3 496.23 L665.68 496.34 L666.05 496.45 L666.41 496.55 L666.78 496.65 L667.15 496.75 L667.52 496.85 L667.91 496.95 L668.32 497.04 L668.75 497.14 L669.2 497.23 L669.68 497.32 L670.19 497.41 L670.73 497.5 L671.3 497.59 L671.89 497.68 L672.49 497.76 L673.11 497.85 L673.73 497.93 L674.36 498.01 L674.99 498.08 L675.61 498.15 L676.23 498.21 L676.83 498.27 L677.35 498.32 L677.72 498.37 L678.01 498.4 L678.26 498.43 L678.5 498.46 L678.79 498.49 L679.16 498.51 L679.68 498.53 L680.37 498.55 L681.29 498.58 L682.48 498.6 L683.99 498.63 L685.94 498.66 L688.39 498.69 L691.22 498.73 L694.34 498.76 L697.63 498.8 L701.01 498.83 L704.35 498.86 L707.57 498.89 L710.56 498.92 L713.22 498.95 L715.45 498.97 L717.13 498.99" stroke="#666" stroke-width="1.3" fill="none" stroke-linejoin="round" />
<path d="M566.68 491.83 L567.04 491.86 L567.48 491.88 L568 491.91 L568.58 491.95 L569.22 491.99 L569.9 492.03 L570.61 492.07 L571.34 492.12 L572.09 492.16 L572.84 492.21 L573.58 492.26 L574.31 492.31 L575.03 492.36 L575.79 492.41 L576.56 492.47 L577.34 492.52 L578.14 492.58 L578.96 492.64 L579.77 492.7 L580.59 492.76 L581.41 492.82 L582.23 492.89 L583.04 492.96 L583.84 493.03 L584.64 493.1 L585.43 493.17 L586.23 493.25 L587.02 493.33 L587.82 493.42 L588.61 493.5 L589.41 493.59 L590.2 493.67 L591 493.75 L591.79 493.83 L592.59 493.91 L593.38 493.98 L594.18 494.05 L594.98 494.12 L595.79 494.18 L596.6 494.24 L597.42 494.31 L598.22 494.37 L599.03 494.43 L599.83 494.48 L600.62 494.54 L601.4 494.59 L602.17 494.64 L602.92 494.69 L603.66 494.75 L604.41 494.8 L605.14 494.85 L605.88 494.9 L606.6 494.95 L607.31 494.99 L608.02 495.04 L608.7 495.07 L609.37 495.11 L610.02 495.14 L610.66 495.16 L611.26 495.17 L611.85 495.18 L612.4 495.18 L612.94 495.18 L613.45 495.18 L613.95 495.17 L614.44 495.16 L614.91 495.14 L615.38 495.11 L615.84 495.08 L616.3 495.04 L616.76 494.99 L617.22 494.93 L617.69 494.87 L618.15 494.8 L618.61 494.72 L619.06 494.64 L619.51 494.55 L619.95 494.46 L620.39 494.35 L620.82 494.24 L621.24 494.13 L621.66 494.01 L622.07 493.88 L622.47 493.74 L622.85 493.61 L623.21 493.51 L623.54 493.41 L623.87 493.32 L624.18 493.22 L624.5 493.1 L624.82 492.96 L625.15 492.79 L625.51 492.57 L625.89 492.31 L626.31 491.99 L626.76 491.6 L627.26 491.16 L627.79 490.7 L628.35 490.22 L628.93 489.7 L629.54 489.13 L630.16 488.53 L630.79 487.86 L631.42 487.14 L632.06 486.34 L632.69 485.47 L633.31 484.53 L633.92 483.49 L634.52 482.34 L635.12 481.06 L635.73 479.68 L636.34 478.21 L636.96 476.67 L637.57 475.08 L638.17 473.47 L638.77 471.84 L639.36 470.22 L639.95 468.63 L640.51 467.09 L641.07 465.61 L641.61 464.15 L642.14 462.66 L642.67 461.15 L643.19 459.64 L643.7 458.14 L644.2 456.66 L644.69 455.22 L645.17 453.82 L645.65 452.47 L646.12 451.2 L646.58 450.01 L647.03 448.92 L647.47 447.91 L647.91 446.97 L648.33 446.09 L648.75 445.28 L649.16 444.52 L649.56 443.82 L649.96 443.17 L650.34 442.57 L650.72 442.01 L651.09 441.49 L651.45 441.01 L651.8 440.57 L652.14 440.17 L652.46 439.84 L652.78 439.55 L653.08 439.32 L653.37 439.13 L653.66 438.98 L653.94 438.86 L654.23 438.78 L654.51 438.72 L654.79 438.69 L655.08 438.67 L655.37 438.66 L655.67 438.67 L655.96 438.69 L656.26 438.72 L656.55 438.78 L656.84 438.86 L657.13 438.98 L657.43 439.13 L657.72 439.32 L658.02 439.55 L658.33 439.84 L658.64 440.17 L658.95 440.57 L659.27 441.01 L659.6 441.49 L659.93 442.01 L660.26 442.57 L660.59 443.17 L660.93 443.82 L661.27 444.52 L661.62 445.28 L661.96 446.09 L662.31 446.97 L662.66 447.91 L663 448.92 L663.35 450.01 L663.7 451.21 L664.05 452.5 L664.41 453.86 L664.76 455.28 L665.12 456.74 L665.48 458.23 L665.84 459.73 L666.2 461.24 L666.56 462.73 L666.93 464.19 L667.3 465.61 L667.66 467.02 L668.03 468.47 L668.41 469.95 L668.78 471.43 L669.15 472.92 L669.53 474.4 L669.91 475.85 L670.29 477.26 L670.67 478.63 L671.05 479.93 L671.44 481.16 L671.83 482.3 L672.22 483.36 L672.62 484.38 L673.02 485.35 L673.43 486.26 L673.84 487.13 L674.26 487.94 L674.66 488.71 L675.07 489.43 L675.46 490.1 L675.85 490.73 L676.23 491.3 L676.6 491.83 L676.95 492.3 L677.28 492.69 L677.61 493.01 L677.93 493.27 L678.24 493.49 L678.55 493.67 L678.85 493.82 L679.16 493.94 L679.46 494.06 L679.77 494.18 L680.09 494.31 L680.41 494.46 L680.72 494.61 L681.01 494.74 L681.29 494.86 L681.56 494.97 L681.83 495.07 L682.11 495.16 L682.41 495.24 L682.73 495.32 L683.09 495.4 L683.5 495.48 L683.95 495.56 L684.46 495.65 L685.03 495.74 L685.65 495.82 L686.31 495.91 L687.01 495.99 L687.74 496.07 L688.5 496.16 L689.29 496.23 L690.11 496.31 L690.94 496.39 L691.79 496.46 L692.65 496.53 L693.52 496.6 L694.42 496.67 L695.35 496.74 L696.31 496.8 L697.29 496.86 L698.3 496.92 L699.32 496.98 L700.35 497.04 L701.38 497.1 L702.42 497.15 L703.44 497.21 L704.45 497.26 L705.45 497.32 L706.47 497.37 L707.54 497.43 L708.66 497.49 L709.79 497.55 L710.92 497.6 L712.03 497.66 L713.1 497.71 L714.11 497.76 L715.04 497.81 L715.86 497.85 L716.57 497.89 L717.13 497.91" stroke="#c24a58" stroke-width="1.6" fill="none" stroke-linejoin="round" />
<path d="M566.68 484.44 L567.04 484.5 L567.48 484.57 L568 484.65 L568.58 484.74 L569.22 484.84 L569.9 484.95 L570.61 485.06 L571.34 485.18 L572.09 485.29 L572.84 485.41 L573.58 485.52 L574.31 485.63 L575.03 485.74 L575.79 485.85 L576.56 485.95 L577.34 486.06 L578.14 486.17 L578.96 486.28 L579.77 486.39 L580.59 486.51 L581.41 486.63 L582.23 486.77 L583.04 486.91 L583.84 487.06 L584.64 487.23 L585.43 487.41 L586.23 487.61 L587.02 487.81 L587.82 488.01 L588.61 488.23 L589.41 488.44 L590.2 488.65 L591 488.86 L591.79 489.07 L592.59 489.26 L593.38 489.45 L594.18 489.63 L594.98 489.81 L595.79 489.99 L596.6 490.16 L597.42 490.34 L598.22 490.51 L599.03 490.67 L599.83 490.83 L600.62 490.97 L601.4 491.11 L602.17 491.24 L602.92 491.36 L603.66 491.46 L604.41 491.56 L605.14 491.64 L605.88 491.72 L606.6 491.79 L607.31 491.85 L608.02 491.9 L608.7 491.95 L609.37 491.99 L610.02 492.02 L610.66 492.05 L611.26 492.07 L611.85 492.09 L612.4 492.11 L612.94 492.12 L613.45 492.12 L613.95 492.12 L614.44 492.12 L614.91 492.1 L615.38 492.07 L615.84 492.03 L616.3 491.98 L616.76 491.91 L617.22 491.83 L617.69 491.74 L618.15 491.63 L618.61 491.51 L619.06 491.37 L619.51 491.23 L619.95 491.07 L620.39 490.91 L620.82 490.73 L621.24 490.54 L621.66 490.35 L622.07 490.14 L622.47 489.93 L622.85 489.73 L623.21 489.55 L623.54 489.39 L623.87 489.24 L624.18 489.07 L624.5 488.88 L624.82 488.66 L625.15 488.39 L625.51 488.06 L625.89 487.66 L626.31 487.17 L626.76 486.59 L627.26 485.95 L627.79 485.29 L628.35 484.59 L628.93 483.85 L629.54 483.05 L630.16 482.18 L630.79 481.22 L631.42 480.16 L632.06 478.99 L632.69 477.69 L633.31 476.25 L633.92 474.67 L634.52 472.91 L635.12 470.98 L635.73 468.9 L636.34 466.68 L636.96 464.36 L637.57 461.94 L638.17 459.45 L638.77 456.9 L639.36 454.31 L639.95 451.71 L640.51 449.11 L641.07 446.53 L641.61 443.88 L642.14 441.06 L642.67 438.14 L643.19 435.13 L643.7 432.09 L644.2 429.05 L644.69 426.06 L645.17 423.15 L645.65 420.36 L646.12 417.74 L646.58 415.32 L647.03 413.15 L647.47 411.19 L647.91 409.39 L648.33 407.74 L648.75 406.22 L649.16 404.82 L649.56 403.54 L649.96 402.36 L650.34 401.27 L650.72 400.27 L651.09 399.34 L651.45 398.47 L651.8 397.65 L652.14 396.92 L652.46 396.3 L652.78 395.79 L653.08 395.37 L653.37 395.04 L653.66 394.78 L653.94 394.57 L654.23 394.42 L654.51 394.3 L654.79 394.22 L655.08 394.14 L655.37 394.07 L655.67 394.01 L655.96 393.95 L656.26 393.92 L656.55 393.92 L656.84 393.95 L657.13 394.03 L657.43 394.17 L657.72 394.37 L658.02 394.64 L658.33 394.99 L658.64 395.44 L658.95 395.98 L659.27 396.6 L659.6 397.28 L659.93 398.02 L660.26 398.83 L660.59 399.7 L660.93 400.66 L661.27 401.7 L661.62 402.84 L661.96 404.06 L662.31 405.39 L662.66 406.83 L663 408.38 L663.35 410.07 L663.7 411.92 L664.05 413.91 L664.41 416.01 L664.76 418.21 L665.12 420.48 L665.48 422.81 L665.84 425.18 L666.2 427.56 L666.56 429.94 L666.93 432.3 L667.3 434.61 L667.66 436.94 L668.03 439.35 L668.41 441.82 L668.78 444.32 L669.15 446.84 L669.53 449.36 L669.91 451.85 L670.29 454.3 L670.67 456.68 L671.05 458.98 L671.44 461.16 L671.83 463.22 L672.22 465.19 L672.62 467.1 L673.02 468.96 L673.43 470.76 L673.84 472.5 L674.26 474.16 L674.66 475.74 L675.07 477.24 L675.46 478.66 L675.85 479.97 L676.23 481.19 L676.6 482.3 L676.95 483.27 L677.28 484.12 L677.61 484.84 L677.93 485.45 L678.24 485.97 L678.55 486.42 L678.85 486.82 L679.16 487.17 L679.46 487.5 L679.77 487.82 L680.09 488.15 L680.41 488.5 L680.72 488.84 L681.01 489.15 L681.29 489.42 L681.56 489.66 L681.83 489.88 L682.11 490.08 L682.41 490.26 L682.73 490.43 L683.09 490.6 L683.5 490.76 L683.95 490.94 L684.46 491.12 L685.03 491.3 L685.65 491.48 L686.31 491.65 L687.01 491.81 L687.74 491.96 L688.5 492.12 L689.29 492.27 L690.11 492.42 L690.94 492.57 L691.79 492.72 L692.65 492.87 L693.52 493.03 L694.42 493.19 L695.35 493.35 L696.31 493.51 L697.29 493.67 L698.3 493.83 L699.32 493.99 L700.35 494.16 L701.38 494.32 L702.42 494.47 L703.44 494.63 L704.45 494.78 L705.45 494.93 L706.47 495.09 L707.54 495.24 L708.66 495.41 L709.79 495.57 L710.92 495.73 L712.03 495.89 L713.1 496.04 L714.11 496.18 L715.04 496.31 L715.86 496.42 L716.57 496.52 L717.13 496.6" stroke="#221c9e" stroke-width="1.75" fill="none" stroke-linejoin="round" />
<rect x="566.65" y="379.25" width="150.5" height="121.35" fill="none" stroke="#000" stroke-width="1.3" />
<line x1="563.65" y1="500.6" x2="566.65" y2="500.6" stroke="#000" stroke-width="1.0" />
<text x="563.3" y="504.17" font-size="11.1" font-weight="bold" text-anchor="end" fill="#000" >0</text>
<line x1="563.65" y1="476.33" x2="566.65" y2="476.33" stroke="#000" stroke-width="1.0" />
<text x="563.3" y="479.9" font-size="11.1" font-weight="bold" text-anchor="end" fill="#000" >4</text>
<line x1="563.65" y1="452.06" x2="566.65" y2="452.06" stroke="#000" stroke-width="1.0" />
<text x="563.3" y="455.63" font-size="11.1" font-weight="bold" text-anchor="end" fill="#000" >8</text>
<line x1="563.65" y1="427.79" x2="566.65" y2="427.79" stroke="#000" stroke-width="1.0" />
<text x="563.3" y="431.36" font-size="11.1" font-weight="bold" text-anchor="end" fill="#000" >12</text>
<line x1="563.65" y1="403.52" x2="566.65" y2="403.52" stroke="#000" stroke-width="1.0" />
<text x="563.3" y="407.09" font-size="11.1" font-weight="bold" text-anchor="end" fill="#000" >16</text>
<line x1="563.65" y1="379.25" x2="566.65" y2="379.25" stroke="#000" stroke-width="1.0" />
<text x="563.3" y="382.82" font-size="11.1" font-weight="bold" text-anchor="end" fill="#000" >20</text>
<line x1="564.85" y1="488.47" x2="566.65" y2="488.47" stroke="#000" stroke-width="1.0" />
<line x1="564.85" y1="464.2" x2="566.65" y2="464.2" stroke="#000" stroke-width="1.0" />
<line x1="564.85" y1="439.93" x2="566.65" y2="439.93" stroke="#000" stroke-width="1.0" />
<line x1="564.85" y1="415.66" x2="566.65" y2="415.66" stroke="#000" stroke-width="1.0" />
<line x1="564.85" y1="391.38" x2="566.65" y2="391.38" stroke="#000" stroke-width="1.0" />
<line x1="566.65" y1="500.6" x2="566.65" y2="503.6" stroke="#000" stroke-width="1.0" />
<text x="568.05" y="514.57" font-size="11.1" font-weight="bold" text-anchor="middle" fill="#000" >1000</text>
<line x1="604.27" y1="500.6" x2="604.27" y2="503.6" stroke="#000" stroke-width="1.0" />
<text x="605.67" y="514.57" font-size="11.1" font-weight="bold" text-anchor="middle" fill="#000" >1025</text>
<line x1="641.9" y1="500.6" x2="641.9" y2="503.6" stroke="#000" stroke-width="1.0" />
<text x="643.3" y="514.57" font-size="11.1" font-weight="bold" text-anchor="middle" fill="#000" >1050</text>
<line x1="679.52" y1="500.6" x2="679.52" y2="503.6" stroke="#000" stroke-width="1.0" />
<text x="680.92" y="514.57" font-size="11.1" font-weight="bold" text-anchor="middle" fill="#000" >1075</text>
<line x1="717.15" y1="500.6" x2="717.15" y2="503.6" stroke="#000" stroke-width="1.0" />
<text x="718.55" y="514.57" font-size="11.1" font-weight="bold" text-anchor="middle" fill="#000" >1100</text>
<text x="646" y="531.97" font-size="15" font-weight="bold" text-anchor="middle" fill="#000" >Wavelength (nm)</text>
<text transform="translate(541.17,438.6) rotate(-90)" font-size="15" font-weight="bold" text-anchor="middle" fill="#000" >Intensity (a.u.)</text>
<line x1="572.3" y1="390" x2="585.9" y2="390" stroke="#707070" stroke-width="1.5" />
<text x="589" y="394.32" font-size="10.4" font-weight="bold" text-anchor="start" fill="#000" >DCNP@PB</text>
<line x1="572.3" y1="402.9" x2="585.9" y2="402.9" stroke="#c97a86" stroke-width="1.5" />
<text x="589" y="407.22" font-size="10.4" font-weight="bold" text-anchor="start" fill="#000" >DCNPs+PB</text>
<line x1="572.3" y1="415.7" x2="585.9" y2="415.7" stroke="#3a8898" stroke-width="1.5" />
<text x="589" y="420.02" font-size="10.4" font-weight="bold" text-anchor="start" fill="#000" >DCNPs</text>
</g>
</g>
</svg>
</body></html>
